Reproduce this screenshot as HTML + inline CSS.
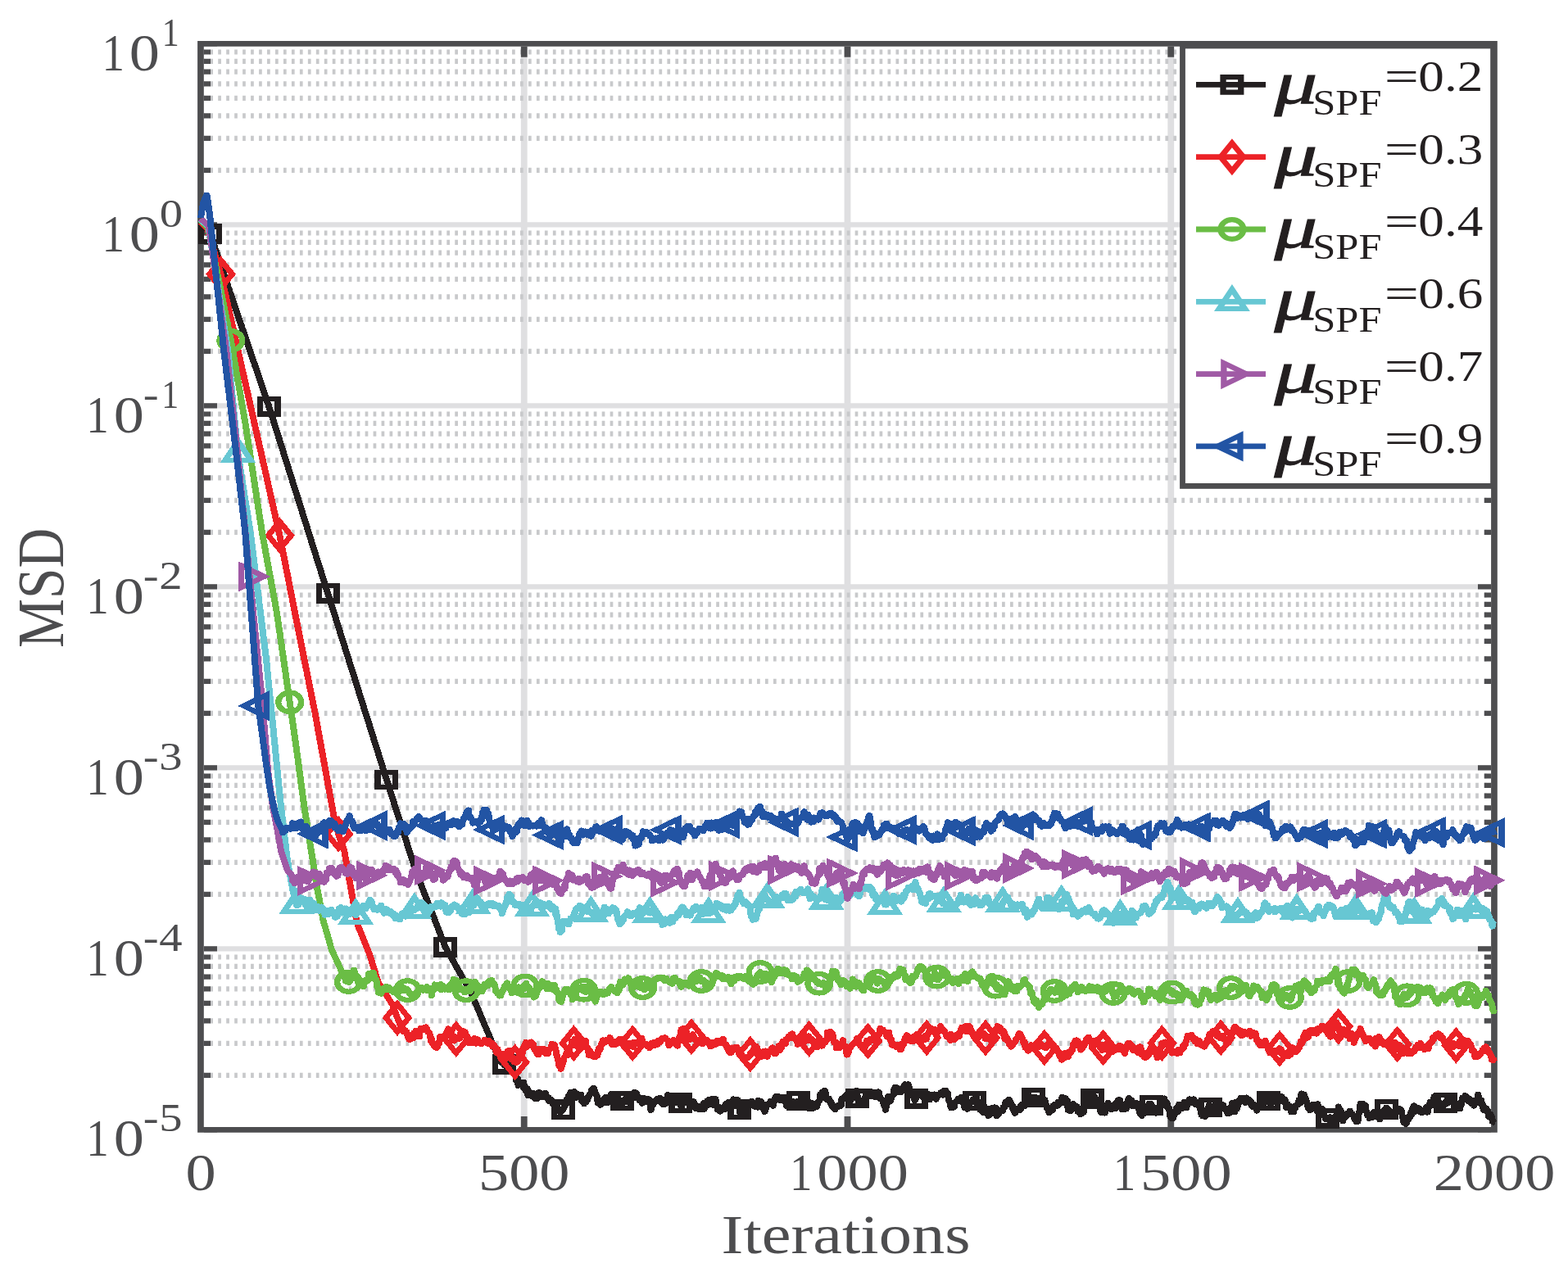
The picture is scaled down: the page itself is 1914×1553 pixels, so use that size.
<!DOCTYPE html><html><head><meta charset="utf-8"><title>MSD vs Iterations</title>
<style>html,body{margin:0;padding:0;background:#fff;overflow:hidden}svg{display:block}text{font-family:"Liberation Serif","Times New Roman",serif}</style></head><body>
<svg width="1914" height="1553" viewBox="0 0 1914 1553">
<rect width="1914" height="1553" fill="#fff"/>
<path d="M249 1158.40H1820M249 937.40H1820M249 716.40H1820M249 495.40H1820M249 274.40H1820" stroke="#dfdfe1" stroke-width="6.4" fill="none"/>
<path d="M639.75 56.7V1376M1034.50 56.7V1376M1429.25 56.7V1376" stroke="#dfdfe1" stroke-width="7.8" fill="none"/>
<path d="M246.3 1312.87H1820M246.3 1273.96H1820M246.3 1246.34H1820M246.3 1224.93H1820M246.3 1207.43H1820M246.3 1192.63H1820M246.3 1179.82H1820M246.3 1168.51H1820M246.3 1091.87H1820M246.3 1052.96H1820M246.3 1025.34H1820M246.3 1003.93H1820M246.3 986.43H1820M246.3 971.63H1820M246.3 958.82H1820M246.3 947.51H1820M246.3 870.87H1820M246.3 831.96H1820M246.3 804.34H1820M246.3 782.93H1820M246.3 765.43H1820M246.3 750.63H1820M246.3 737.82H1820M246.3 726.51H1820M246.3 649.87H1820M246.3 610.96H1820M246.3 583.34H1820M246.3 561.93H1820M246.3 544.43H1820M246.3 529.63H1820M246.3 516.82H1820M246.3 505.51H1820M246.3 428.87H1820M246.3 389.96H1820M246.3 362.34H1820M246.3 340.93H1820M246.3 323.43H1820M246.3 308.63H1820M246.3 295.82H1820M246.3 284.51H1820M246.3 207.87H1820M246.3 168.96H1820M246.3 141.34H1820M246.3 119.93H1820M246.3 102.43H1820M246.3 87.63H1820M246.3 74.82H1820M246.3 63.51H1820" stroke="#c8c9cb" stroke-width="6.2" stroke-dasharray="3.7 6.267" fill="none"/>
<path d="M249 1379.40H265M1820 1379.40H1804M249 1158.40H265M1820 1158.40H1804M249 937.40H265M1820 937.40H1804M249 716.40H265M1820 716.40H1804M249 495.40H265M1820 495.40H1804M249 274.40H265M1820 274.40H1804M249 53.40H265M1820 53.40H1804M249 1312.87H257M1820 1312.87H1812M249 1273.96H257M1820 1273.96H1812M249 1246.34H257M1820 1246.34H1812M249 1224.93H257M1820 1224.93H1812M249 1207.43H257M1820 1207.43H1812M249 1192.63H257M1820 1192.63H1812M249 1179.82H257M1820 1179.82H1812M249 1168.51H257M1820 1168.51H1812M249 1091.87H257M1820 1091.87H1812M249 1052.96H257M1820 1052.96H1812M249 1025.34H257M1820 1025.34H1812M249 1003.93H257M1820 1003.93H1812M249 986.43H257M1820 986.43H1812M249 971.63H257M1820 971.63H1812M249 958.82H257M1820 958.82H1812M249 947.51H257M1820 947.51H1812M249 870.87H257M1820 870.87H1812M249 831.96H257M1820 831.96H1812M249 804.34H257M1820 804.34H1812M249 782.93H257M1820 782.93H1812M249 765.43H257M1820 765.43H1812M249 750.63H257M1820 750.63H1812M249 737.82H257M1820 737.82H1812M249 726.51H257M1820 726.51H1812M249 649.87H257M1820 649.87H1812M249 610.96H257M1820 610.96H1812M249 583.34H257M1820 583.34H1812M249 561.93H257M1820 561.93H1812M249 544.43H257M1820 544.43H1812M249 529.63H257M1820 529.63H1812M249 516.82H257M1820 516.82H1812M249 505.51H257M1820 505.51H1812M249 428.87H257M1820 428.87H1812M249 389.96H257M1820 389.96H1812M249 362.34H257M1820 362.34H1812M249 340.93H257M1820 340.93H1812M249 323.43H257M1820 323.43H1812M249 308.63H257M1820 308.63H1812M249 295.82H257M1820 295.82H1812M249 284.51H257M1820 284.51H1812M249 207.87H257M1820 207.87H1812M249 168.96H257M1820 168.96H1812M249 141.34H257M1820 141.34H1812M249 119.93H257M1820 119.93H1812M249 102.43H257M1820 102.43H1812M249 87.63H257M1820 87.63H1812M249 74.82H257M1820 74.82H1812M249 63.51H257M1820 63.51H1812" stroke="#4d4d4f" stroke-width="6.2" fill="none"/>
<path d="M639.75 56.7V69.7M639.75 1376V1363M1034.50 56.7V69.7M1034.50 1376V1363M1429.25 56.7V69.7M1429.25 1376V1363" stroke="#4d4d4f" stroke-width="7.8" fill="none"/>
<path d="M241.1 50.1H1827.8V1382.7H241.1Z M248.8 56.7V1376.1H1820.1V56.7Z" fill="#4d4d4f" fill-rule="evenodd"/>
<g transform="scale(1.18 1)" fill="none" stroke-linejoin="round" stroke-linecap="butt" shape-rendering="crispEdges">
<polyline points="207.6,270.0 208.3,271.1 209.0,272.1 209.6,273.2 210.3,274.2 211.0,275.3 211.6,276.3 212.3,277.4 213.0,278.5 213.6,279.5 214.3,280.6 215.0,281.6 215.7,282.7 216.3,283.7 217.0,284.8 217.7,286.4 218.3,288.7 219.0,291.0 219.7,293.4 220.3,295.7 221.0,298.0 221.7,300.3 222.3,302.6 223.0,305.0 223.7,307.3 224.4,309.6 225.0,311.9 225.7,314.2 226.4,316.6 227.0,318.9 227.7,321.2 228.4,323.5 229.0,325.8 229.7,328.1 230.4,330.5 231.0,332.8 231.7,335.1 232.4,337.4 233.1,339.7 233.7,342.1 234.4,344.4 235.1,346.7 235.7,349.0 236.4,351.3 237.1,353.7 237.7,356.0 238.4,358.3 239.1,360.6 239.7,362.9 240.4,365.3 241.1,367.6 241.7,369.9 242.4,372.2 243.1,374.5 243.8,376.8 244.4,379.2 245.1,381.5 245.8,383.8 246.4,386.1 247.1,388.4 247.8,390.8 248.4,393.1 249.1,395.4 249.8,397.7 250.4,400.0 251.1,402.4 251.8,404.7 252.5,407.0 253.1,409.3 253.8,411.6 254.5,414.0 255.1,416.3 255.8,418.6 256.5,420.9 257.1,423.2 257.8,425.5 258.5,427.9 259.1,430.2 259.8,432.5 260.5,434.8 261.2,437.1 261.8,439.5 262.5,441.8 263.2,444.1 263.8,446.4 264.5,448.7 265.2,451.1 265.8,453.4 266.5,455.7 267.2,458.0 267.8,460.3 268.5,462.7 269.2,465.0 269.9,467.3 270.5,469.6 271.2,471.9 271.9,474.2 272.5,476.6 273.2,478.9 273.9,481.2 274.5,483.5 275.2,485.8 275.9,488.2 276.5,490.5 277.2,492.8 277.9,495.1 278.5,497.5 279.2,500.0 279.9,502.5 280.6,505.0 281.2,507.6 281.9,510.1 282.6,512.6 283.2,515.1 283.9,517.6 284.6,520.1 285.2,522.6 285.9,525.1 286.6,527.6 287.2,530.1 287.9,532.6 288.6,535.1 289.3,537.6 289.9,540.1 290.6,542.6 291.3,545.1 291.9,547.6 292.6,550.2 293.3,552.7 293.9,555.2 294.6,557.7 295.3,560.2 295.9,562.7 296.6,565.2 297.3,567.7 298.0,570.2 298.6,572.7 299.3,575.2 300.0,577.7 300.6,580.2 301.3,582.7 302.0,585.2 302.6,587.7 303.3,590.2 304.0,592.8 304.6,595.3 305.3,597.8 306.0,600.3 306.6,602.8 307.3,605.3 308.0,607.8 308.7,610.3 309.3,612.8 310.0,615.3 310.7,617.8 311.3,620.3 312.0,622.8 312.7,625.3 313.3,627.8 314.0,630.3 314.7,632.8 315.3,635.4 316.0,637.9 316.7,640.4 317.4,642.9 318.0,645.4 318.7,647.9 319.4,650.4 320.0,652.9 320.7,655.4 321.4,657.9 322.0,660.4 322.7,662.9 323.4,665.4 324.0,667.9 324.7,670.4 325.4,672.9 326.1,675.5 326.7,678.0 327.4,680.5 328.1,683.0 328.7,685.5 329.4,688.0 330.1,690.5 330.7,693.0 331.4,695.5 332.1,698.0 332.7,700.5 333.4,703.0 334.1,705.5 334.8,708.0 335.4,710.5 336.1,713.0 336.8,715.5 337.4,718.1 338.1,720.6 338.8,723.1 339.4,725.6 340.1,728.1 340.8,730.6 341.4,733.1 342.1,735.6 342.8,738.1 343.4,740.6 344.1,743.1 344.8,745.6 345.5,748.1 346.1,750.6 346.8,753.1 347.5,755.6 348.1,758.1 348.8,760.6 349.5,763.1 350.1,765.6 350.8,768.1 351.5,770.6 352.1,773.1 352.8,775.6 353.5,778.1 354.2,780.7 354.8,783.2 355.5,785.7 356.2,788.2 356.8,790.7 357.5,793.2 358.2,795.7 358.8,798.2 359.5,800.7 360.2,803.2 360.8,805.7 361.5,808.2 362.2,810.7 362.9,813.2 363.5,815.7 364.2,818.2 364.9,820.7 365.5,823.2 366.2,825.7 366.9,828.2 367.5,830.7 368.2,833.2 368.9,835.7 369.5,838.2 370.2,840.7 370.9,843.2 371.5,845.7 372.2,848.3 372.9,850.8 373.6,853.3 374.2,855.8 374.9,858.3 375.6,860.8 376.2,863.3 376.9,865.8 377.6,868.3 378.2,870.8 378.9,873.3 379.6,875.8 380.2,878.3 380.9,880.8 381.6,883.3 382.3,885.8 382.9,888.3 383.6,890.8 384.3,893.3 384.9,895.8 385.6,898.3 386.3,900.8 386.9,903.3 387.6,905.8 388.3,908.3 388.9,910.8 389.6,913.3 390.3,915.9 391.0,918.4 391.6,920.9 392.3,923.4 393.0,925.9 393.6,928.4 394.3,930.9 395.0,933.4 395.6,935.9 396.3,938.4 397.0,940.9 397.6,943.4 398.3,945.9 399.0,948.4 399.6,950.9 400.3,953.4 401.0,955.9 401.7,958.3 402.3,960.8 403.0,963.3 403.7,965.8 404.3,968.2 405.0,970.7 405.7,973.2 406.3,975.7 407.0,978.1 407.7,980.6 408.3,983.1 409.0,985.5 409.7,988.0 410.4,990.5 411.0,993.0 411.7,995.4 412.4,997.9 413.0,1000.4 413.7,1002.9 414.4,1005.3 415.0,1007.8 415.7,1010.3 416.4,1012.8 417.0,1015.2 417.7,1017.7 418.4,1020.2 419.1,1022.6 419.7,1025.1 420.4,1027.6 421.1,1030.1 421.7,1032.5 422.4,1035.0 423.1,1037.5 423.7,1040.0 424.4,1042.4 425.1,1044.9 425.7,1047.4 426.4,1049.9 427.1,1052.3 427.8,1054.8 428.4,1057.3 429.1,1059.8 429.8,1062.2 430.4,1064.7 431.1,1066.8 431.8,1068.8 432.4,1070.8 433.1,1072.8 433.8,1074.9 434.4,1076.9 435.1,1078.9 435.8,1080.9 436.4,1082.9 437.1,1085.0 437.8,1087.0 438.5,1089.0 439.1,1091.0 439.8,1093.1 440.5,1095.1 441.1,1097.1 441.8,1099.1 442.5,1101.1 443.1,1103.2 443.8,1105.2 444.5,1107.2 445.1,1109.2 445.8,1111.2 446.5,1113.3 447.2,1115.3 447.8,1117.3 448.5,1119.3 449.2,1121.3 449.8,1123.4 450.5,1125.4 451.2,1127.4 451.8,1129.4 452.5,1131.5 453.2,1133.5 453.8,1135.5 454.5,1137.5 455.2,1139.5 455.9,1141.6 456.5,1143.6 457.2,1145.6 457.9,1147.6 458.5,1149.6 459.2,1151.7 459.9,1153.7 460.5,1155.7 461.2,1157.3 461.9,1158.7 462.5,1160.1 463.2,1161.5 463.9,1162.9 464.5,1164.3 465.2,1165.7 465.9,1167.1 466.6,1168.5 467.2,1169.9 467.9,1171.3 468.6,1172.8 469.2,1174.2 469.9,1175.6 470.6,1177.0 471.2,1178.4 471.9,1179.8 472.6,1181.2 473.2,1182.6 473.9,1184.0 474.6,1185.4 475.3,1186.8 475.9,1188.2 476.6,1189.6 477.3,1191.0 477.9,1192.4 478.6,1193.8 479.3,1195.2 479.9,1196.6 480.6,1198.0 481.3,1199.4 481.9,1200.8 482.6,1202.2 483.3,1203.6 484.0,1205.0 484.6,1206.4 485.3,1207.8 486.0,1209.2 486.6,1210.6 487.3,1212.0 488.0,1213.9 488.6,1215.8 489.3,1217.6 490.0,1219.5 490.6,1221.4 491.3,1223.2 492.0,1225.1 492.7,1227.0 493.3,1228.9 494.0,1230.7 494.7,1232.6 495.3,1234.5 496.0,1236.3 496.7,1238.2 497.3,1240.1 498.0,1241.9 498.7,1243.8 499.3,1245.7 500.0,1247.6 500.7,1249.4 501.3,1251.3 502.0,1253.2 502.7,1255.0 503.4,1256.9 504.0,1258.8 504.7,1260.6 505.4,1262.5 506.0,1264.4 506.7,1266.3 507.4,1268.1 508.0,1270.0 508.7,1271.9 509.4,1273.7 510.0,1275.6 510.7,1277.5 511.4,1279.3 512.1,1281.2 512.7,1283.1 513.4,1284.6 514.1,1284.8 514.7,1286.5 515.4,1286.7 516.1,1290.7 516.7,1290.1 517.4,1290.5 518.1,1294.2 518.7,1297.5 519.4,1296.0 520.1,1292.8 520.8,1297.3 521.4,1300.3 522.1,1296.5 522.8,1296.5 523.4,1301.6 524.1,1300.2 524.8,1297.9 525.4,1300.1 526.1,1299.5 526.8,1302.2 527.4,1301.7 528.1,1304.3 528.8,1303.6 529.4,1298.8 530.1,1304.8 530.8,1307.7 531.5,1308.7 532.1,1312.4 532.8,1311.0 533.5,1312.6 534.1,1319.6 534.8,1317.0 535.5,1316.3 536.1,1325.5 536.8,1322.4 537.5,1324.1 538.1,1321.9 538.8,1322.3 539.5,1322.9 540.2,1324.9 540.8,1327.0 541.5,1321.1 542.2,1329.3 542.8,1325.6 543.5,1327.0 544.2,1332.4 544.8,1331.6 545.5,1328.9 546.2,1337.7 546.8,1331.6 547.5,1334.6 548.2,1334.8 548.9,1338.1 549.5,1334.2 550.2,1338.0 550.9,1334.0 551.5,1338.7 552.2,1334.5 552.9,1335.8 553.5,1341.4 554.2,1337.6 554.9,1337.0 555.5,1342.0 556.2,1337.3 556.9,1334.3 557.5,1338.1 558.2,1333.5 558.9,1339.3 559.6,1339.6 560.2,1335.6 560.9,1335.6 561.6,1337.7 562.2,1337.6 562.9,1335.6 563.6,1339.8 564.2,1334.1 564.9,1338.6 565.6,1339.4 566.2,1340.5 566.9,1342.6 567.6,1339.7 568.3,1344.9 568.9,1343.9 569.6,1343.5 570.3,1342.4 570.9,1343.4 571.6,1347.6 572.3,1344.9 572.9,1348.0 573.6,1351.1 574.3,1352.0 574.9,1354.2 575.6,1350.8 576.3,1349.8 577.0,1355.8 577.6,1354.8 578.3,1357.3 579.0,1355.0 579.6,1358.1 580.3,1357.4 581.0,1357.0 581.6,1356.2 582.3,1355.2 583.0,1353.4 583.6,1351.5 584.3,1351.2 585.0,1345.3 585.7,1348.5 586.3,1342.1 587.0,1343.0 587.7,1339.0 588.3,1337.5 589.0,1342.1 589.7,1335.9 590.3,1333.1 591.0,1334.0 591.7,1334.6 592.3,1340.3 593.0,1335.4 593.7,1337.1 594.3,1332.6 595.0,1336.1 595.7,1337.2 596.4,1340.3 597.0,1334.7 597.7,1338.4 598.4,1338.3 599.0,1336.0 599.7,1339.5 600.4,1340.1 601.0,1336.3 601.7,1344.5 602.4,1345.2 603.0,1343.3 603.7,1341.3 604.4,1347.8 605.1,1344.4 605.7,1345.6 606.4,1345.9 607.1,1340.6 607.7,1343.0 608.4,1339.4 609.1,1338.5 609.7,1336.8 610.4,1335.0 611.1,1335.8 611.7,1331.6 612.4,1329.7 613.1,1328.8 613.8,1330.5 614.4,1328.5 615.1,1331.1 615.8,1334.1 616.4,1335.0 617.1,1338.2 617.8,1338.8 618.4,1346.7 619.1,1346.2 619.8,1344.8 620.4,1344.0 621.1,1349.4 621.8,1344.6 622.4,1343.1 623.1,1343.4 623.8,1342.9 624.5,1345.1 625.1,1341.5 625.8,1346.6 626.5,1339.7 627.1,1343.8 627.8,1340.0 628.5,1346.8 629.1,1341.5 629.8,1341.6 630.5,1343.2 631.1,1343.1 631.8,1336.5 632.5,1337.8 633.2,1335.0 633.8,1338.9 634.5,1338.8 635.2,1339.1 635.8,1339.2 636.5,1340.8 637.2,1340.7 637.8,1344.4 638.5,1347.2 639.2,1339.4 639.8,1344.1 640.5,1343.8 641.2,1346.4 641.9,1343.3 642.5,1345.4 643.2,1343.3 643.9,1347.5 644.5,1346.0 645.2,1345.1 645.9,1346.2 646.5,1344.5 647.2,1341.1 647.9,1346.0 648.5,1345.0 649.2,1343.5 649.9,1345.7 650.6,1345.7 651.2,1339.5 651.9,1339.5 652.6,1344.3 653.2,1343.2 653.9,1337.3 654.6,1335.5 655.2,1336.2 655.9,1336.0 656.6,1333.2 657.2,1337.0 657.9,1334.2 658.6,1334.9 659.2,1340.8 659.9,1338.0 660.6,1340.4 661.3,1343.0 661.9,1344.2 662.6,1341.9 663.3,1343.2 663.9,1341.2 664.6,1347.4 665.3,1344.6 665.9,1340.1 666.6,1342.4 667.3,1343.7 667.9,1342.7 668.6,1345.8 669.3,1344.9 670.0,1341.0 670.6,1343.2 671.3,1341.7 672.0,1346.9 672.6,1348.1 673.3,1355.4 674.0,1349.7 674.6,1344.5 675.3,1347.5 676.0,1348.6 676.6,1344.3 677.3,1344.2 678.0,1344.4 678.7,1345.2 679.3,1343.3 680.0,1341.1 680.7,1344.9 681.3,1341.7 682.0,1342.0 682.7,1340.3 683.3,1342.4 684.0,1346.6 684.7,1342.0 685.3,1346.4 686.0,1348.8 686.7,1346.3 687.3,1347.5 688.0,1343.4 688.7,1348.1 689.4,1346.2 690.0,1342.7 690.7,1336.6 691.4,1337.4 692.0,1341.7 692.7,1343.5 693.4,1340.5 694.0,1343.5 694.7,1339.9 695.4,1341.9 696.0,1343.1 696.7,1344.7 697.4,1340.2 698.1,1346.1 698.7,1346.8 699.4,1340.6 700.1,1340.0 700.7,1344.3 701.4,1342.5 702.1,1339.2 702.7,1347.7 703.4,1347.0 704.1,1346.0 704.7,1352.3 705.4,1347.2 706.1,1344.3 706.8,1345.4 707.4,1341.7 708.1,1341.5 708.8,1343.7 709.4,1341.2 710.1,1341.5 710.8,1346.9 711.4,1345.5 712.1,1345.9 712.8,1345.8 713.4,1346.3 714.1,1349.1 714.8,1346.0 715.4,1351.0 716.1,1344.6 716.8,1346.7 717.5,1344.5 718.1,1347.6 718.8,1350.4 719.5,1353.5 720.1,1349.4 720.8,1352.0 721.5,1352.1 722.1,1352.0 722.8,1351.4 723.5,1354.7 724.1,1350.4 724.8,1354.6 725.5,1353.8 726.2,1351.3 726.8,1349.5 727.5,1347.6 728.2,1354.5 728.8,1346.0 729.5,1352.3 730.2,1349.3 730.8,1346.4 731.5,1343.9 732.2,1348.5 732.8,1349.4 733.5,1342.2 734.2,1343.1 734.9,1345.8 735.5,1343.7 736.2,1347.6 736.9,1341.6 737.5,1344.7 738.2,1341.0 738.9,1349.9 739.5,1344.1 740.2,1341.7 740.9,1347.9 741.5,1349.1 742.2,1355.2 742.9,1350.7 743.6,1352.3 744.2,1354.4 744.9,1357.2 745.6,1353.4 746.2,1356.1 746.9,1354.8 747.6,1352.6 748.2,1353.2 748.9,1352.8 749.6,1350.0 750.2,1354.5 750.9,1347.5 751.6,1352.8 752.2,1351.3 752.9,1347.9 753.6,1345.3 754.3,1345.8 754.9,1346.8 755.6,1347.0 756.3,1345.6 756.9,1347.2 757.6,1343.6 758.3,1345.8 758.9,1341.8 759.6,1348.0 760.3,1347.1 760.9,1346.4 761.6,1350.9 762.3,1350.4 763.0,1342.7 763.6,1350.2 764.3,1347.5 765.0,1354.5 765.6,1358.8 766.3,1352.5 767.0,1354.8 767.6,1354.5 768.3,1356.2 769.0,1356.6 769.6,1357.5 770.3,1351.0 771.0,1356.0 771.7,1348.8 772.3,1350.7 773.0,1352.0 773.7,1350.3 774.3,1345.9 775.0,1346.2 775.7,1346.6 776.3,1347.4 777.0,1350.1 777.7,1344.2 778.3,1348.4 779.0,1348.8 779.7,1348.7 780.3,1348.7 781.0,1351.4 781.7,1349.1 782.4,1350.1 783.0,1349.3 783.7,1352.2 784.4,1343.1 785.0,1350.6 785.7,1346.9 786.4,1347.1 787.0,1346.0 787.7,1344.8 788.4,1349.5 789.0,1350.0 789.7,1354.0 790.4,1350.1 791.1,1357.5 791.7,1354.7 792.4,1352.9 793.1,1350.9 793.7,1349.6 794.4,1347.7 795.1,1348.2 795.7,1348.8 796.4,1347.8 797.1,1344.4 797.7,1346.7 798.4,1344.8 799.1,1346.8 799.8,1350.3 800.4,1346.7 801.1,1343.7 801.8,1339.8 802.4,1339.6 803.1,1338.2 803.8,1343.3 804.4,1339.1 805.1,1340.7 805.8,1338.8 806.4,1340.5 807.1,1343.9 807.8,1339.2 808.5,1340.4 809.1,1339.7 809.8,1344.1 810.5,1339.8 811.1,1339.9 811.8,1339.6 812.5,1339.9 813.1,1344.9 813.8,1350.4 814.5,1342.3 815.1,1347.6 815.8,1346.4 816.5,1343.7 817.1,1346.2 817.8,1346.8 818.5,1346.2 819.2,1352.9 819.8,1344.1 820.5,1350.0 821.2,1350.3 821.8,1348.4 822.5,1350.3 823.2,1352.3 823.8,1350.6 824.5,1351.1 825.2,1351.3 825.8,1344.0 826.5,1351.3 827.2,1351.8 827.9,1347.0 828.5,1345.4 829.2,1338.2 829.9,1340.4 830.5,1338.5 831.2,1339.5 831.9,1344.4 832.5,1341.8 833.2,1345.3 833.9,1342.8 834.5,1348.3 835.2,1349.8 835.9,1348.1 836.6,1347.9 837.2,1353.7 837.9,1345.8 838.6,1345.8 839.2,1346.2 839.9,1351.2 840.6,1353.7 841.2,1349.9 841.9,1347.8 842.6,1348.7 843.2,1352.2 843.9,1346.9 844.6,1351.7 845.2,1350.3 845.9,1345.5 846.6,1345.1 847.3,1343.6 847.9,1343.8 848.6,1335.9 849.3,1339.9 849.9,1335.0 850.6,1333.1 851.3,1334.7 851.9,1333.7 852.6,1332.1 853.3,1331.2 853.9,1333.6 854.6,1340.4 855.3,1342.8 856.0,1340.9 856.6,1343.5 857.3,1340.9 858.0,1343.6 858.6,1346.2 859.3,1344.7 860.0,1346.6 860.6,1350.6 861.3,1350.6 862.0,1349.5 862.6,1353.3 863.3,1351.8 864.0,1354.8 864.7,1352.1 865.3,1351.2 866.0,1352.0 866.7,1350.9 867.3,1349.1 868.0,1349.1 868.7,1351.0 869.3,1349.7 870.0,1350.0 870.7,1341.5 871.3,1343.2 872.0,1341.8 872.7,1341.9 873.3,1339.2 874.0,1338.2 874.7,1340.8 875.4,1339.2 876.0,1336.2 876.7,1342.7 877.4,1342.6 878.0,1339.5 878.7,1343.4 879.4,1339.9 880.0,1344.3 880.7,1340.8 881.4,1338.8 882.0,1339.2 882.7,1337.7 883.4,1339.6 884.1,1339.3 884.7,1339.1 885.4,1338.1 886.1,1331.4 886.7,1341.5 887.4,1338.2 888.1,1345.1 888.7,1349.0 889.4,1348.6 890.1,1348.3 890.7,1349.5 891.4,1349.6 892.1,1347.8 892.8,1346.2 893.4,1343.1 894.1,1345.7 894.8,1340.1 895.4,1339.9 896.1,1334.8 896.8,1334.0 897.4,1332.4 898.1,1333.5 898.8,1334.5 899.4,1333.6 900.1,1332.1 900.8,1332.5 901.5,1338.8 902.1,1334.4 902.8,1334.5 903.5,1338.6 904.1,1337.5 904.8,1335.9 905.5,1333.4 906.1,1339.9 906.8,1335.2 907.5,1335.9 908.1,1334.8 908.8,1332.8 909.5,1334.4 910.1,1340.3 910.8,1342.1 911.5,1342.5 912.2,1342.0 912.8,1342.8 913.5,1346.5 914.2,1344.5 914.8,1350.6 915.5,1351.3 916.2,1355.4 916.8,1350.6 917.5,1346.8 918.2,1345.6 918.8,1338.6 919.5,1344.3 920.2,1343.9 920.9,1345.0 921.5,1342.3 922.2,1340.3 922.9,1337.6 923.5,1336.9 924.2,1337.2 924.9,1329.8 925.5,1330.1 926.2,1327.0 926.9,1333.9 927.5,1333.1 928.2,1332.3 928.9,1328.4 929.6,1332.6 930.2,1332.4 930.9,1333.6 931.6,1332.9 932.2,1333.8 932.9,1330.4 933.6,1331.8 934.2,1328.7 934.9,1325.9 935.6,1325.2 936.2,1323.7 936.9,1326.6 937.6,1324.2 938.2,1326.1 938.9,1325.3 939.6,1323.7 940.3,1330.7 940.9,1327.5 941.6,1333.4 942.3,1334.9 942.9,1332.1 943.6,1336.0 944.3,1338.9 944.9,1339.6 945.6,1339.5 946.3,1344.1 946.9,1341.0 947.6,1341.4 948.3,1338.2 949.0,1338.7 949.6,1335.1 950.3,1336.1 951.0,1337.3 951.6,1336.1 952.3,1335.4 953.0,1334.5 953.6,1338.3 954.3,1339.5 955.0,1338.7 955.6,1338.1 956.3,1341.7 957.0,1346.7 957.7,1340.3 958.3,1342.0 959.0,1342.2 959.7,1334.9 960.3,1341.1 961.0,1338.6 961.7,1343.0 962.3,1338.5 963.0,1336.9 963.7,1338.1 964.3,1339.0 965.0,1337.5 965.7,1338.9 966.4,1335.9 967.0,1338.4 967.7,1340.3 968.4,1342.4 969.0,1338.2 969.7,1336.0 970.4,1337.2 971.0,1336.1 971.7,1337.4 972.4,1336.2 973.0,1333.9 973.7,1335.6 974.4,1336.2 975.0,1337.1 975.7,1337.2 976.4,1334.8 977.1,1331.3 977.7,1334.5 978.4,1331.2 979.1,1336.5 979.7,1337.2 980.4,1334.4 981.1,1341.8 981.7,1344.2 982.4,1344.5 983.1,1350.4 983.7,1352.6 984.4,1346.6 985.1,1352.8 985.8,1351.6 986.4,1351.3 987.1,1351.9 987.8,1347.1 988.4,1346.4 989.1,1344.8 989.8,1344.1 990.4,1344.9 991.1,1341.0 991.8,1341.4 992.4,1344.8 993.1,1343.1 993.8,1344.2 994.5,1339.1 995.1,1342.5 995.8,1344.2 996.5,1347.0 997.1,1347.1 997.8,1352.3 998.5,1351.3 999.1,1352.4 999.8,1352.9 1000.5,1354.4 1001.1,1351.0 1001.8,1353.7 1002.5,1350.6 1003.1,1348.2 1003.8,1346.2 1004.5,1345.7 1005.2,1345.4 1005.8,1344.1 1006.5,1341.9 1007.2,1342.8 1007.8,1341.2 1008.5,1344.5 1009.2,1342.2 1009.8,1338.4 1010.5,1347.9 1011.2,1346.3 1011.8,1344.6 1012.5,1348.0 1013.2,1347.3 1013.9,1355.2 1014.5,1352.0 1015.2,1347.6 1015.9,1353.4 1016.5,1351.9 1017.2,1358.5 1017.9,1352.5 1018.5,1350.7 1019.2,1357.3 1019.9,1357.2 1020.5,1357.7 1021.2,1353.8 1021.9,1360.0 1022.6,1362.6 1023.2,1353.3 1023.9,1359.7 1024.6,1354.4 1025.2,1360.2 1025.9,1354.5 1026.6,1352.3 1027.2,1355.1 1027.9,1353.9 1028.6,1351.8 1029.2,1355.9 1029.9,1354.2 1030.6,1352.4 1031.2,1362.8 1031.9,1358.0 1032.6,1358.0 1033.3,1360.5 1033.9,1355.8 1034.6,1355.7 1035.3,1356.8 1035.9,1355.6 1036.6,1355.7 1037.3,1356.8 1037.9,1351.6 1038.6,1352.6 1039.3,1351.5 1039.9,1346.3 1040.6,1348.3 1041.3,1344.6 1042.0,1348.7 1042.6,1346.7 1043.3,1345.4 1044.0,1342.3 1044.6,1346.2 1045.3,1344.9 1046.0,1349.7 1046.6,1349.2 1047.3,1349.2 1048.0,1355.2 1048.6,1356.3 1049.3,1354.4 1050.0,1359.3 1050.7,1356.0 1051.3,1355.7 1052.0,1356.1 1052.7,1353.1 1053.3,1352.9 1054.0,1352.6 1054.7,1355.8 1055.3,1354.8 1056.0,1349.7 1056.7,1353.3 1057.3,1348.4 1058.0,1348.4 1058.7,1348.7 1059.4,1346.4 1060.0,1350.8 1060.7,1345.1 1061.4,1341.3 1062.0,1347.2 1062.7,1343.0 1063.4,1343.3 1064.0,1336.7 1064.7,1346.1 1065.4,1345.3 1066.0,1344.8 1066.7,1344.7 1067.4,1345.9 1068.0,1341.3 1068.7,1343.3 1069.4,1339.1 1070.1,1340.3 1070.7,1344.1 1071.4,1343.0 1072.1,1339.6 1072.7,1344.4 1073.4,1343.7 1074.1,1342.7 1074.7,1346.0 1075.4,1343.9 1076.1,1340.8 1076.7,1341.5 1077.4,1348.0 1078.1,1339.7 1078.8,1343.8 1079.4,1344.9 1080.1,1345.7 1080.8,1342.3 1081.4,1346.0 1082.1,1349.0 1082.8,1352.5 1083.4,1350.9 1084.1,1351.2 1084.8,1357.7 1085.4,1358.7 1086.1,1357.1 1086.8,1354.5 1087.5,1356.3 1088.1,1354.8 1088.8,1355.6 1089.5,1349.6 1090.1,1352.2 1090.8,1350.9 1091.5,1348.2 1092.1,1351.1 1092.8,1350.4 1093.5,1348.9 1094.1,1350.3 1094.8,1345.2 1095.5,1347.5 1096.1,1347.6 1096.8,1346.2 1097.5,1347.0 1098.2,1340.6 1098.8,1339.1 1099.5,1342.6 1100.2,1342.8 1100.8,1346.8 1101.5,1343.6 1102.2,1340.8 1102.8,1346.1 1103.5,1343.6 1104.2,1343.8 1104.8,1355.3 1105.5,1351.2 1106.2,1353.3 1106.9,1353.6 1107.5,1356.8 1108.2,1353.0 1108.9,1354.8 1109.5,1348.9 1110.2,1347.5 1110.9,1353.9 1111.5,1353.8 1112.2,1351.5 1112.9,1351.2 1113.5,1351.8 1114.2,1350.7 1114.9,1357.3 1115.6,1356.5 1116.2,1357.5 1116.9,1358.3 1117.6,1360.6 1118.2,1359.5 1118.9,1359.6 1119.6,1354.0 1120.2,1356.4 1120.9,1358.4 1121.6,1349.6 1122.2,1348.2 1122.9,1348.3 1123.6,1346.4 1124.2,1343.9 1124.9,1337.1 1125.6,1341.2 1126.3,1336.3 1126.9,1336.6 1127.6,1339.5 1128.3,1337.1 1128.9,1339.6 1129.6,1345.2 1130.3,1339.8 1130.9,1340.3 1131.6,1337.4 1132.3,1339.5 1132.9,1340.3 1133.6,1343.6 1134.3,1344.3 1135.0,1347.4 1135.6,1350.3 1136.3,1350.1 1137.0,1350.5 1137.6,1351.7 1138.3,1356.8 1139.0,1356.3 1139.6,1358.7 1140.3,1358.5 1141.0,1354.8 1141.6,1356.7 1142.3,1351.0 1143.0,1359.2 1143.7,1355.8 1144.3,1351.7 1145.0,1348.7 1145.7,1352.0 1146.3,1346.4 1147.0,1349.1 1147.7,1353.0 1148.3,1351.9 1149.0,1350.9 1149.7,1354.7 1150.3,1350.0 1151.0,1353.1 1151.7,1350.8 1152.4,1349.4 1153.0,1351.9 1153.7,1347.5 1154.4,1353.5 1155.0,1346.5 1155.7,1351.6 1156.4,1343.3 1157.0,1346.8 1157.7,1342.4 1158.4,1342.6 1159.0,1347.3 1159.7,1350.2 1160.4,1347.4 1161.0,1355.0 1161.7,1351.6 1162.4,1354.5 1163.1,1355.0 1163.7,1354.7 1164.4,1347.6 1165.1,1354.1 1165.7,1349.7 1166.4,1345.7 1167.1,1343.0 1167.7,1340.5 1168.4,1341.0 1169.1,1345.7 1169.7,1344.1 1170.4,1342.8 1171.1,1345.0 1171.8,1350.6 1172.4,1346.5 1173.1,1346.2 1173.8,1351.1 1174.4,1349.3 1175.1,1348.8 1175.8,1348.0 1176.4,1346.8 1177.1,1349.2 1177.8,1352.7 1178.4,1355.2 1179.1,1358.6 1179.8,1360.8 1180.5,1361.5 1181.1,1362.5 1181.8,1359.9 1182.5,1356.9 1183.1,1359.9 1183.8,1357.5 1184.5,1356.5 1185.1,1355.5 1185.8,1351.2 1186.5,1349.8 1187.1,1350.7 1187.8,1350.0 1188.5,1347.4 1189.1,1349.9 1189.8,1348.4 1190.5,1347.1 1191.2,1350.6 1191.8,1356.1 1192.5,1351.0 1193.2,1356.4 1193.8,1357.6 1194.5,1358.2 1195.2,1352.6 1195.8,1359.2 1196.5,1354.1 1197.2,1352.5 1197.8,1351.8 1198.5,1352.8 1199.2,1350.5 1199.9,1348.9 1200.5,1351.3 1201.2,1345.3 1201.9,1343.4 1202.5,1346.7 1203.2,1345.7 1203.9,1346.1 1204.5,1340.9 1205.2,1346.6 1205.9,1346.3 1206.5,1351.0 1207.2,1345.9 1207.9,1351.9 1208.6,1353.4 1209.2,1352.9 1209.9,1357.5 1210.6,1364.0 1211.2,1361.8 1211.9,1362.0 1212.6,1366.0 1213.2,1365.6 1213.9,1364.3 1214.6,1358.3 1215.2,1358.2 1215.9,1359.1 1216.6,1353.7 1217.3,1352.6 1217.9,1356.0 1218.6,1357.7 1219.3,1351.4 1219.9,1348.0 1220.6,1350.7 1221.3,1351.4 1221.9,1352.8 1222.6,1353.6 1223.3,1350.6 1223.9,1348.0 1224.6,1349.0 1225.3,1345.4 1225.9,1347.0 1226.6,1345.2 1227.3,1353.1 1228.0,1348.6 1228.6,1344.5 1229.3,1344.0 1230.0,1345.1 1230.6,1341.8 1231.3,1343.6 1232.0,1343.3 1232.6,1347.0 1233.3,1343.8 1234.0,1343.1 1234.6,1341.9 1235.3,1342.6 1236.0,1345.5 1236.7,1345.3 1237.3,1348.8 1238.0,1344.9 1238.7,1349.4 1239.3,1348.3 1240.0,1348.9 1240.7,1345.7 1241.3,1349.5 1242.0,1356.6 1242.7,1360.4 1243.3,1359.7 1244.0,1362.7 1244.7,1361.1 1245.4,1361.6 1246.0,1360.6 1246.7,1363.5 1247.4,1360.4 1248.0,1357.0 1248.7,1354.7 1249.4,1354.8 1250.0,1352.5 1250.7,1348.6 1251.4,1354.1 1252.0,1350.6 1252.7,1350.3 1253.4,1354.5 1254.0,1354.2 1254.7,1352.4 1255.4,1354.5 1256.1,1351.1 1256.7,1352.2 1257.4,1348.0 1258.1,1355.7 1258.7,1347.3 1259.4,1352.3 1260.1,1347.4 1260.7,1345.9 1261.4,1346.9 1262.1,1347.6 1262.7,1348.4 1263.4,1351.6 1264.1,1349.0 1264.8,1351.3 1265.4,1348.9 1266.1,1353.4 1266.8,1353.3 1267.4,1353.2 1268.1,1355.5 1268.8,1356.9 1269.4,1358.6 1270.1,1359.7 1270.8,1357.7 1271.4,1356.7 1272.1,1359.4 1272.8,1352.3 1273.5,1353.5 1274.1,1357.5 1274.8,1346.3 1275.5,1350.5 1276.1,1353.5 1276.8,1347.9 1277.5,1358.1 1278.1,1345.5 1278.8,1354.8 1279.5,1354.2 1280.1,1351.4 1280.8,1347.1 1281.5,1346.9 1282.2,1342.4 1282.8,1345.4 1283.5,1340.0 1284.2,1341.8 1284.8,1345.0 1285.5,1340.3 1286.2,1342.5 1286.8,1344.0 1287.5,1340.6 1288.2,1346.6 1288.8,1344.5 1289.5,1339.9 1290.2,1343.3 1290.8,1341.6 1291.5,1342.0 1292.2,1344.2 1292.9,1342.9 1293.5,1347.8 1294.2,1344.9 1294.9,1350.1 1295.5,1348.8 1296.2,1352.0 1296.9,1349.5 1297.5,1350.2 1298.2,1348.9 1298.9,1353.1 1299.5,1353.8 1300.2,1356.2 1300.9,1353.8 1301.6,1350.8 1302.2,1349.3 1302.9,1350.5 1303.6,1349.3 1304.2,1352.7 1304.9,1351.2 1305.6,1346.4 1306.2,1345.9 1306.9,1349.7 1307.6,1345.8 1308.2,1343.1 1308.9,1345.5 1309.6,1341.1 1310.3,1341.3 1310.9,1341.4 1311.6,1338.5 1312.3,1346.2 1312.9,1342.0 1313.6,1344.3 1314.3,1344.0 1314.9,1347.3 1315.6,1344.7 1316.3,1344.1 1316.9,1339.1 1317.6,1342.2 1318.3,1338.2 1318.9,1342.1 1319.6,1342.1 1320.3,1341.3 1321.0,1346.4 1321.6,1343.0 1322.3,1343.4 1323.0,1342.4 1323.6,1341.6 1324.3,1344.3 1325.0,1344.4 1325.6,1338.4 1326.3,1344.1 1327.0,1343.1 1327.6,1344.8 1328.3,1344.6 1329.0,1341.8 1329.7,1343.5 1330.3,1352.3 1331.0,1350.1 1331.7,1347.5 1332.3,1353.1 1333.0,1352.5 1333.7,1350.1 1334.3,1350.0 1335.0,1352.5 1335.7,1357.8 1336.3,1357.4 1337.0,1356.9 1337.7,1357.9 1338.4,1357.9 1339.0,1350.5 1339.7,1353.7 1340.4,1351.3 1341.0,1349.2 1341.7,1349.6 1342.4,1349.3 1343.0,1347.4 1343.7,1342.8 1344.4,1343.2 1345.0,1347.3 1345.7,1338.0 1346.4,1334.9 1347.0,1338.5 1347.7,1338.8 1348.4,1338.7 1349.1,1335.9 1349.7,1342.6 1350.4,1340.4 1351.1,1341.9 1351.7,1345.5 1352.4,1348.9 1353.1,1352.7 1353.7,1353.8 1354.4,1353.0 1355.1,1355.7 1355.7,1353.6 1356.4,1355.2 1357.1,1349.1 1357.8,1348.2 1358.4,1353.5 1359.1,1348.1 1359.8,1350.9 1360.4,1351.7 1361.1,1351.3 1361.8,1351.9 1362.4,1356.8 1363.1,1347.7 1363.8,1356.0 1364.4,1359.4 1365.1,1353.9 1365.8,1353.9 1366.5,1356.1 1367.1,1359.5 1367.8,1353.5 1368.5,1358.1 1369.1,1359.3 1369.8,1363.0 1370.5,1363.8 1371.1,1366.5 1371.8,1365.1 1372.5,1366.9 1373.1,1365.4 1373.8,1365.3 1374.5,1366.2 1375.2,1366.0 1375.8,1363.6 1376.5,1370.7 1377.2,1367.5 1377.8,1365.6 1378.5,1372.5 1379.2,1368.7 1379.8,1371.6 1380.5,1369.5 1381.2,1368.4 1381.8,1365.8 1382.5,1361.3 1383.2,1360.1 1383.8,1362.6 1384.5,1350.9 1385.2,1356.0 1385.9,1357.4 1386.5,1355.1 1387.2,1356.1 1387.9,1366.5 1388.5,1361.9 1389.2,1368.8 1389.9,1365.4 1390.5,1364.0 1391.2,1364.1 1391.9,1363.3 1392.5,1363.5 1393.2,1360.6 1393.9,1359.1 1394.6,1358.6 1395.2,1361.3 1395.9,1360.1 1396.6,1356.1 1397.2,1357.6 1397.9,1360.8 1398.6,1359.6 1399.2,1361.5 1399.9,1361.3 1400.6,1364.0 1401.2,1366.3 1401.9,1367.9 1402.6,1365.3 1403.3,1369.6 1403.9,1363.2 1404.6,1369.5 1405.3,1362.3 1405.9,1359.0 1406.6,1354.5 1407.3,1347.0 1407.9,1351.9 1408.6,1351.6 1409.3,1355.3 1409.9,1347.3 1410.6,1355.8 1411.3,1351.6 1411.9,1355.3 1412.6,1349.2 1413.3,1357.4 1414.0,1358.1 1414.6,1362.2 1415.3,1362.1 1416.0,1360.1 1416.6,1365.5 1417.3,1365.0 1418.0,1364.5 1418.6,1365.1 1419.3,1364.9 1420.0,1361.7 1420.6,1357.9 1421.3,1357.3 1422.0,1363.4 1422.7,1361.4 1423.3,1359.7 1424.0,1358.4 1424.7,1359.8 1425.3,1360.2 1426.0,1360.0 1426.7,1359.7 1427.3,1366.8 1428.0,1362.0 1428.7,1359.4 1429.3,1356.8 1430.0,1357.0 1430.7,1359.3 1431.4,1358.3 1432.0,1355.0 1432.7,1355.1 1433.4,1353.9 1434.0,1352.0 1434.7,1357.9 1435.4,1355.9 1436.0,1361.5 1436.7,1354.5 1437.4,1356.9 1438.0,1360.4 1438.7,1358.9 1439.4,1357.3 1440.1,1359.4 1440.7,1362.6 1441.4,1363.3 1442.1,1361.7 1442.7,1363.2 1443.4,1361.5 1444.1,1358.0 1444.7,1355.4 1445.4,1353.2 1446.1,1354.2 1446.7,1354.8 1447.4,1353.3 1448.1,1355.4 1448.7,1355.2 1449.4,1354.7 1450.1,1358.0 1450.8,1364.5 1451.4,1365.8 1452.1,1370.4 1452.8,1368.0 1453.4,1370.9 1454.1,1372.5 1454.8,1371.7 1455.4,1367.5 1456.1,1367.7 1456.8,1367.3 1457.4,1363.2 1458.1,1364.8 1458.8,1364.0 1459.5,1358.0 1460.1,1361.6 1460.8,1354.1 1461.5,1352.7 1462.1,1351.5 1462.8,1349.9 1463.5,1352.8 1464.1,1352.5 1464.8,1357.3 1465.5,1355.7 1466.1,1356.4 1466.8,1355.1 1467.5,1352.5 1468.2,1355.7 1468.8,1353.6 1469.5,1357.7 1470.2,1355.1 1470.8,1359.0 1471.5,1356.7 1472.2,1356.8 1472.8,1355.2 1473.5,1354.9 1474.2,1355.7 1474.8,1355.9 1475.5,1351.4 1476.2,1353.7 1476.8,1358.2 1477.5,1351.0 1478.2,1349.9 1478.9,1348.0 1479.5,1345.3 1480.2,1350.6 1480.9,1346.6 1481.5,1345.9 1482.2,1348.1 1482.9,1348.3 1483.5,1338.8 1484.2,1342.5 1484.9,1340.9 1485.5,1340.3 1486.2,1341.0 1486.9,1340.8 1487.6,1346.0 1488.2,1345.2 1488.9,1346.1 1489.6,1349.7 1490.2,1350.1 1490.9,1349.9 1491.6,1350.2 1492.2,1353.9 1492.9,1350.8 1493.6,1349.1 1494.2,1346.8 1494.9,1347.4 1495.6,1345.2 1496.3,1347.5 1496.9,1347.3 1497.6,1341.1 1498.3,1345.4 1498.9,1346.2 1499.6,1344.2 1500.3,1340.8 1500.9,1345.4 1501.6,1340.1 1502.3,1338.5 1502.9,1339.0 1503.6,1342.3 1504.3,1345.9 1504.9,1348.1 1505.6,1347.9 1506.3,1346.7 1507.0,1350.0 1507.6,1350.9 1508.3,1353.5 1509.0,1349.8 1509.6,1353.7 1510.3,1353.7 1511.0,1349.9 1511.6,1349.2 1512.3,1343.6 1513.0,1340.1 1513.6,1340.2 1514.3,1343.0 1515.0,1341.7 1515.7,1337.5 1516.3,1341.5 1517.0,1338.2 1517.7,1343.3 1518.3,1341.7 1519.0,1340.6 1519.7,1344.8 1520.3,1342.2 1521.0,1343.0 1521.7,1342.7 1522.3,1347.6 1523.0,1347.4 1523.7,1347.5 1524.4,1346.4 1525.0,1350.2 1525.7,1344.7 1526.4,1342.7 1527.0,1346.0 1527.7,1345.2 1528.4,1341.7 1529.0,1336.2 1529.7,1339.1 1530.4,1342.7 1531.0,1342.6 1531.7,1347.9 1532.4,1342.8 1533.1,1349.6 1533.7,1348.3 1534.4,1354.5 1535.1,1352.3 1535.7,1355.9 1536.4,1353.3 1537.1,1352.7 1537.7,1354.4 1538.4,1356.5 1539.1,1356.4 1539.7,1362.7 1540.4,1363.9 1541.1,1362.3 1541.7,1360.1 1542.4,1363.3 1543.1,1363.0 1543.8,1369.4 1544.4,1368.1 1545.1,1370.2 1545.8,1370.0" stroke="#231f20" stroke-width="6.8"/>
<path d="M208.17 276.51h18.40v18.40h-18.40ZM269.02 487.15h18.40v18.40h-18.40ZM329.87 715.00h18.40v18.40h-18.40ZM390.72 942.69h18.40v18.40h-18.40ZM451.56 1147.06h18.40v18.40h-18.40ZM512.41 1290.04h18.40v18.40h-18.40ZM573.26 1345.54h18.40v18.40h-18.40ZM634.11 1334.82h18.40v18.40h-18.40ZM694.95 1337.51h18.40v18.40h-18.40ZM755.80 1345.59h18.40v18.40h-18.40ZM816.65 1334.80h18.40v18.40h-18.40ZM877.49 1331.80h18.40v18.40h-18.40ZM938.34 1332.13h18.40v18.40h-18.40ZM999.19 1334.75h18.40v18.40h-18.40ZM1060.04 1330.85h18.40v18.40h-18.40ZM1120.88 1332.08h18.40v18.40h-18.40ZM1181.73 1340.21h18.40v18.40h-18.40ZM1242.58 1342.75h18.40v18.40h-18.40ZM1303.43 1334.71h18.40v18.40h-18.40ZM1364.27 1356.13h18.40v18.40h-18.40ZM1425.12 1345.36h18.40v18.40h-18.40ZM1485.97 1337.38h18.40v18.40h-18.40Z" stroke="#231f20" stroke-width="6.2" stroke-linejoin="miter" stroke-miterlimit="10"/>
<polyline points="207.6,271.0 208.3,271.8 209.0,272.6 209.6,273.4 210.3,274.2 211.0,274.9 211.6,275.7 212.3,276.5 213.0,277.3 213.6,278.1 214.3,278.9 215.0,281.3 215.7,283.9 216.3,286.6 217.0,289.2 217.7,291.9 218.3,294.5 219.0,297.2 219.7,299.8 220.3,302.4 221.0,305.1 221.7,307.7 222.3,310.4 223.0,313.0 223.7,315.7 224.4,318.3 225.0,321.0 225.7,323.6 226.4,326.2 227.0,328.9 227.7,331.5 228.4,334.2 229.0,337.6 229.7,341.1 230.4,344.6 231.0,348.1 231.7,351.6 232.4,355.1 233.1,358.6 233.7,362.1 234.4,365.6 235.1,369.1 235.7,372.6 236.4,376.1 237.1,379.7 237.7,383.2 238.4,386.7 239.1,390.2 239.7,393.7 240.4,397.2 241.1,400.7 241.7,404.2 242.4,407.7 243.1,411.2 243.8,414.7 244.4,418.3 245.1,421.8 245.8,425.3 246.4,428.8 247.1,432.3 247.8,435.8 248.4,439.3 249.1,442.8 249.8,446.3 250.4,449.8 251.1,453.3 251.8,456.8 252.5,460.4 253.1,463.9 253.8,467.4 254.5,470.9 255.1,474.4 255.8,477.9 256.5,481.4 257.1,484.9 257.8,488.4 258.5,491.9 259.1,495.4 259.8,499.0 260.5,502.5 261.2,506.0 261.8,509.5 262.5,513.0 263.2,516.5 263.8,520.0 264.5,523.5 265.2,527.0 265.8,530.5 266.5,534.0 267.2,537.6 267.8,541.1 268.5,544.6 269.2,548.1 269.9,551.6 270.5,555.1 271.2,558.6 271.9,562.1 272.5,565.6 273.2,569.1 273.9,572.6 274.5,576.1 275.2,579.7 275.9,583.2 276.5,586.7 277.2,590.2 277.9,593.7 278.5,597.2 279.2,600.7 279.9,604.2 280.6,607.7 281.2,611.2 281.9,614.7 282.6,618.3 283.2,621.8 283.9,625.3 284.6,628.8 285.2,632.3 285.9,635.8 286.6,639.3 287.2,642.8 287.9,646.3 288.6,649.8 289.3,653.3 289.9,657.3 290.6,661.3 291.3,665.3 291.9,669.3 292.6,673.3 293.3,677.3 293.9,681.3 294.6,685.3 295.3,689.3 295.9,693.3 296.6,697.3 297.3,701.3 298.0,705.3 298.6,709.3 299.3,713.3 300.0,717.3 300.6,721.3 301.3,725.3 302.0,729.3 302.6,733.3 303.3,737.3 304.0,741.3 304.6,745.3 305.3,749.3 306.0,753.3 306.6,757.2 307.3,761.1 308.0,765.1 308.7,769.0 309.3,772.9 310.0,776.9 310.7,780.8 311.3,784.7 312.0,788.7 312.7,792.6 313.3,796.5 314.0,800.4 314.7,804.4 315.3,808.3 316.0,812.2 316.7,816.2 317.4,820.1 318.0,824.0 318.7,828.0 319.4,831.9 320.0,835.8 320.7,839.8 321.4,843.7 322.0,847.6 322.7,851.5 323.4,855.5 324.0,859.4 324.7,863.3 325.4,867.3 326.1,871.4 326.7,875.8 327.4,880.1 328.1,884.4 328.7,888.8 329.4,893.1 330.1,897.4 330.7,901.8 331.4,906.1 332.1,910.4 332.7,914.8 333.4,919.1 334.1,923.5 334.8,927.8 335.4,932.1 336.1,936.5 336.8,940.8 337.4,945.1 338.1,949.5 338.8,953.8 339.4,958.1 340.1,962.5 340.8,966.8 341.4,971.1 342.1,975.5 342.8,979.8 343.4,984.2 344.1,988.5 344.8,992.8 345.5,997.2 346.1,1001.5 346.8,1004.8 347.5,1007.4 348.1,1010.1 348.8,1012.8 349.5,1015.5 350.1,1018.2 350.8,1020.5 351.5,1022.8 352.1,1025.1 352.8,1027.4 353.5,1029.7 354.2,1032.0 354.8,1034.3 355.5,1036.6 356.2,1038.9 356.8,1043.3 357.5,1047.8 358.2,1052.3 358.8,1056.8 359.5,1061.3 360.2,1065.8 360.8,1070.3 361.5,1074.8 362.2,1079.3 362.9,1083.8 363.5,1088.3 364.2,1092.8 364.9,1097.3 365.5,1101.8 366.2,1106.3 366.9,1110.8 367.5,1115.3 368.2,1119.8 368.9,1124.3 369.5,1127.7 370.2,1129.7 370.9,1131.6 371.5,1133.6 372.2,1135.6 372.9,1137.5 373.6,1139.5 374.2,1141.5 374.9,1143.4 375.6,1145.4 376.2,1147.4 376.9,1149.3 377.6,1151.3 378.2,1153.3 378.9,1155.2 379.6,1157.2 380.2,1159.2 380.9,1161.1 381.6,1163.1 382.3,1165.1 382.9,1167.5 383.6,1170.1 384.3,1172.7 384.9,1175.2 385.6,1177.8 386.3,1180.4 386.9,1183.0 387.6,1185.5 388.3,1188.1 388.9,1190.7 389.6,1193.3 390.3,1195.8 391.0,1198.4 391.6,1200.0 392.3,1201.2 393.0,1202.4 393.6,1203.7 394.3,1204.9 395.0,1206.2 395.6,1207.4 396.3,1208.7 397.0,1209.9 397.6,1211.1 398.3,1212.4 399.0,1213.6 399.6,1214.9 400.3,1216.1 401.0,1217.3 401.7,1218.6 402.3,1219.8 403.0,1221.1 403.7,1222.3 404.3,1223.5 405.0,1224.8 405.7,1226.0 406.3,1227.3 407.0,1229.5 407.7,1231.7 408.3,1233.9 409.0,1236.1 409.7,1238.3 410.4,1240.5 411.0,1242.7 411.7,1244.4 412.4,1246.2 413.0,1248.0 413.7,1250.2 414.4,1253.9 415.0,1253.8 415.7,1257.9 416.4,1258.7 417.0,1257.6 417.7,1259.8 418.4,1258.3 419.1,1257.5 419.7,1259.5 420.4,1259.4 421.1,1263.6 421.7,1264.2 422.4,1267.0 423.1,1269.3 423.7,1263.2 424.4,1269.4 425.1,1264.4 425.7,1267.7 426.4,1264.9 427.1,1266.1 427.8,1267.9 428.4,1260.9 429.1,1263.9 429.8,1262.5 430.4,1258.1 431.1,1262.4 431.8,1260.3 432.4,1258.3 433.1,1258.0 433.8,1266.1 434.4,1258.8 435.1,1255.7 435.8,1257.1 436.4,1257.7 437.1,1257.1 437.8,1257.1 438.5,1254.7 439.1,1257.7 439.8,1255.5 440.5,1253.8 441.1,1255.3 441.8,1256.7 442.5,1260.1 443.1,1260.5 443.8,1260.3 444.5,1262.7 445.1,1265.1 445.8,1270.9 446.5,1267.7 447.2,1272.2 447.8,1274.8 448.5,1273.3 449.2,1277.1 449.8,1278.1 450.5,1277.3 451.2,1279.2 451.8,1279.4 452.5,1278.1 453.2,1273.5 453.8,1272.1 454.5,1274.4 455.2,1265.7 455.9,1267.1 456.5,1267.6 457.2,1265.7 457.9,1266.6 458.5,1265.5 459.2,1266.4 459.9,1266.9 460.5,1262.9 461.2,1262.5 461.9,1260.6 462.5,1258.6 463.2,1258.5 463.9,1255.8 464.5,1259.9 465.2,1262.7 465.9,1264.0 466.6,1264.7 467.2,1261.8 467.9,1268.1 468.6,1264.7 469.2,1266.8 469.9,1271.1 470.6,1265.5 471.2,1269.5 471.9,1268.4 472.6,1267.8 473.2,1266.3 473.9,1268.6 474.6,1266.1 475.3,1268.2 475.9,1267.3 476.6,1260.7 477.3,1261.2 477.9,1260.7 478.6,1258.4 479.3,1258.6 479.9,1261.5 480.6,1261.7 481.3,1260.0 481.9,1263.6 482.6,1267.2 483.3,1265.2 484.0,1267.1 484.6,1273.4 485.3,1273.8 486.0,1268.6 486.6,1269.6 487.3,1273.4 488.0,1270.3 488.6,1272.3 489.3,1271.9 490.0,1273.9 490.6,1267.6 491.3,1268.2 492.0,1270.0 492.7,1274.3 493.3,1271.9 494.0,1268.7 494.7,1273.1 495.3,1273.7 496.0,1271.8 496.7,1271.7 497.3,1273.3 498.0,1274.9 498.7,1272.6 499.3,1273.2 500.0,1271.7 500.7,1270.8 501.3,1269.4 502.0,1271.6 502.7,1270.5 503.4,1270.8 504.0,1273.6 504.7,1273.3 505.4,1274.8 506.0,1270.4 506.7,1275.2 507.4,1273.2 508.0,1273.0 508.7,1273.2 509.4,1277.8 510.0,1277.7 510.7,1275.5 511.4,1275.9 512.1,1279.5 512.7,1279.9 513.4,1285.4 514.1,1280.2 514.7,1280.4 515.4,1284.5 516.1,1285.8 516.7,1287.0 517.4,1289.1 518.1,1292.6 518.7,1288.4 519.4,1288.6 520.1,1286.4 520.8,1290.4 521.4,1291.3 522.1,1288.6 522.8,1290.7 523.4,1287.5 524.1,1289.6 524.8,1286.5 525.4,1283.2 526.1,1283.9 526.8,1282.4 527.4,1282.6 528.1,1287.5 528.8,1289.9 529.4,1293.5 530.1,1290.8 530.8,1291.9 531.5,1291.5 532.1,1297.0 532.8,1296.7 533.5,1295.1 534.1,1297.7 534.8,1297.1 535.5,1291.5 536.1,1295.7 536.8,1293.2 537.5,1290.7 538.1,1289.0 538.8,1291.6 539.5,1289.3 540.2,1288.0 540.8,1280.1 541.5,1279.3 542.2,1280.9 542.8,1275.3 543.5,1275.2 544.2,1272.2 544.8,1279.0 545.5,1277.0 546.2,1275.4 546.8,1274.6 547.5,1272.9 548.2,1272.7 548.9,1274.5 549.5,1271.9 550.2,1276.2 550.9,1273.6 551.5,1274.1 552.2,1280.1 552.9,1279.1 553.5,1282.4 554.2,1282.2 554.9,1279.9 555.5,1286.5 556.2,1283.0 556.9,1287.8 557.5,1282.0 558.2,1280.7 558.9,1284.4 559.6,1284.0 560.2,1282.9 560.9,1280.1 561.6,1284.4 562.2,1280.0 562.9,1282.5 563.6,1282.4 564.2,1283.9 564.9,1287.0 565.6,1284.3 566.2,1286.8 566.9,1286.7 567.6,1281.0 568.3,1280.9 568.9,1281.1 569.6,1279.2 570.3,1279.7 570.9,1274.2 571.6,1278.9 572.3,1278.8 572.9,1277.2 573.6,1275.4 574.3,1279.5 574.9,1281.7 575.6,1287.2 576.3,1289.2 577.0,1294.0 577.6,1294.7 578.3,1301.3 579.0,1296.4 579.6,1301.5 580.3,1305.4 581.0,1299.0 581.6,1301.1 582.3,1294.8 583.0,1295.1 583.6,1290.9 584.3,1289.8 585.0,1289.0 585.7,1286.3 586.3,1284.4 587.0,1288.8 587.7,1283.3 588.3,1279.5 589.0,1281.2 589.7,1278.7 590.3,1277.5 591.0,1277.2 591.7,1270.9 592.3,1274.8 593.0,1275.2 593.7,1273.4 594.3,1274.5 595.0,1268.2 595.7,1273.1 596.4,1277.5 597.0,1270.0 597.7,1272.2 598.4,1273.8 599.0,1274.5 599.7,1277.0 600.4,1270.7 601.0,1274.8 601.7,1276.8 602.4,1272.5 603.0,1275.1 603.7,1278.9 604.4,1277.7 605.1,1276.3 605.7,1270.4 606.4,1276.2 607.1,1278.3 607.7,1278.4 608.4,1280.4 609.1,1288.4 609.7,1283.2 610.4,1282.9 611.1,1286.4 611.7,1286.1 612.4,1286.8 613.1,1287.9 613.8,1290.3 614.4,1289.8 615.1,1287.3 615.8,1289.5 616.4,1290.3 617.1,1287.4 617.8,1289.1 618.4,1286.4 619.1,1280.6 619.8,1281.1 620.4,1282.4 621.1,1279.8 621.8,1275.2 622.4,1276.0 623.1,1272.1 623.8,1269.9 624.5,1273.5 625.1,1272.5 625.8,1272.7 626.5,1271.2 627.1,1271.5 627.8,1269.4 628.5,1271.0 629.1,1271.4 629.8,1269.5 630.5,1271.4 631.1,1266.5 631.8,1269.0 632.5,1274.1 633.2,1275.5 633.8,1273.2 634.5,1273.2 635.2,1271.4 635.8,1274.9 636.5,1275.7 637.2,1271.0 637.8,1274.7 638.5,1274.1 639.2,1273.6 639.8,1269.9 640.5,1272.8 641.2,1268.3 641.9,1273.9 642.5,1270.8 643.2,1268.1 643.9,1273.4 644.5,1273.7 645.2,1271.2 645.9,1278.3 646.5,1273.2 647.2,1277.1 647.9,1279.7 648.5,1273.1 649.2,1279.6 649.9,1277.1 650.6,1276.7 651.2,1274.1 651.9,1276.6 652.6,1273.5 653.2,1273.8 653.9,1274.9 654.6,1273.3 655.2,1278.5 655.9,1272.2 656.6,1272.8 657.2,1273.2 657.9,1273.5 658.6,1274.8 659.2,1274.6 659.9,1272.2 660.6,1271.9 661.3,1272.5 661.9,1273.7 662.6,1273.1 663.3,1270.4 663.9,1267.2 664.6,1275.8 665.3,1273.8 665.9,1273.2 666.6,1274.4 667.3,1273.9 667.9,1274.1 668.6,1276.5 669.3,1277.5 670.0,1277.2 670.6,1275.8 671.3,1278.2 672.0,1279.9 672.6,1277.4 673.3,1278.1 674.0,1273.5 674.6,1276.9 675.3,1276.6 676.0,1273.9 676.6,1272.5 677.3,1276.5 678.0,1273.7 678.7,1276.0 679.3,1273.8 680.0,1275.6 680.7,1273.2 681.3,1270.4 682.0,1272.6 682.7,1271.3 683.3,1272.3 684.0,1268.8 684.7,1267.7 685.3,1269.0 686.0,1268.7 686.7,1267.3 687.3,1267.6 688.0,1266.8 688.7,1268.1 689.4,1269.3 690.0,1269.6 690.7,1270.1 691.4,1271.4 692.0,1277.0 692.7,1272.9 693.4,1273.0 694.0,1273.0 694.7,1273.7 695.4,1274.1 696.0,1271.2 696.7,1269.5 697.4,1274.2 698.1,1270.6 698.7,1274.7 699.4,1274.7 700.1,1276.7 700.7,1277.2 701.4,1273.4 702.1,1269.8 702.7,1266.3 703.4,1264.5 704.1,1263.5 704.7,1256.6 705.4,1258.7 706.1,1256.8 706.8,1257.2 707.4,1255.1 708.1,1256.9 708.8,1256.8 709.4,1259.5 710.1,1259.2 710.8,1265.2 711.4,1269.8 712.1,1268.0 712.8,1268.7 713.4,1265.7 714.1,1269.6 714.8,1264.1 715.4,1266.4 716.1,1264.7 716.8,1262.7 717.5,1267.4 718.1,1266.6 718.8,1268.4 719.5,1270.5 720.1,1270.9 720.8,1271.2 721.5,1273.4 722.1,1271.8 722.8,1272.5 723.5,1270.7 724.1,1268.8 724.8,1270.3 725.5,1270.7 726.2,1272.1 726.8,1274.9 727.5,1269.7 728.2,1273.8 728.8,1269.3 729.5,1271.7 730.2,1272.7 730.8,1269.0 731.5,1269.6 732.2,1273.5 732.8,1273.3 733.5,1273.0 734.2,1271.8 734.9,1277.9 735.5,1273.4 736.2,1272.1 736.9,1277.2 737.5,1275.0 738.2,1273.0 738.9,1276.1 739.5,1273.9 740.2,1274.7 740.9,1273.7 741.5,1270.8 742.2,1274.5 742.9,1272.6 743.6,1270.0 744.2,1270.3 744.9,1273.8 745.6,1271.1 746.2,1271.9 746.9,1273.0 747.6,1271.8 748.2,1268.4 748.9,1272.9 749.6,1273.8 750.2,1274.4 750.9,1277.0 751.6,1275.9 752.2,1278.4 752.9,1281.7 753.6,1279.4 754.3,1284.6 754.9,1285.3 755.6,1283.7 756.3,1285.6 756.9,1283.1 757.6,1278.9 758.3,1282.1 758.9,1279.8 759.6,1279.4 760.3,1278.6 760.9,1281.1 761.6,1279.9 762.3,1278.1 763.0,1281.4 763.6,1282.9 764.3,1281.0 765.0,1282.6 765.6,1283.8 766.3,1284.3 767.0,1287.1 767.6,1289.3 768.3,1291.8 769.0,1291.1 769.6,1291.3 770.3,1292.2 771.0,1293.1 771.7,1290.1 772.3,1292.6 773.0,1292.1 773.7,1291.2 774.3,1290.3 775.0,1289.7 775.7,1289.2 776.3,1285.9 777.0,1287.6 777.7,1284.5 778.3,1283.0 779.0,1282.0 779.7,1281.7 780.3,1278.6 781.0,1279.7 781.7,1277.4 782.4,1277.3 783.0,1279.2 783.7,1287.6 784.4,1282.0 785.0,1287.6 785.7,1290.2 786.4,1286.4 787.0,1290.3 787.7,1290.2 788.4,1287.8 789.0,1290.1 789.7,1286.3 790.4,1283.4 791.1,1286.1 791.7,1284.4 792.4,1282.9 793.1,1283.1 793.7,1290.3 794.4,1284.3 795.1,1284.9 795.7,1283.0 796.4,1283.8 797.1,1282.3 797.7,1281.4 798.4,1279.3 799.1,1278.8 799.8,1280.2 800.4,1282.6 801.1,1286.6 801.8,1284.9 802.4,1286.7 803.1,1283.9 803.8,1282.5 804.4,1279.5 805.1,1281.5 805.8,1276.5 806.4,1279.4 807.1,1282.3 807.8,1278.7 808.5,1279.1 809.1,1274.7 809.8,1271.5 810.5,1272.1 811.1,1271.3 811.8,1273.8 812.5,1274.8 813.1,1268.8 813.8,1269.1 814.5,1269.0 815.1,1267.9 815.8,1265.3 816.5,1267.1 817.1,1266.8 817.8,1266.1 818.5,1262.5 819.2,1264.7 819.8,1261.8 820.5,1267.9 821.2,1265.2 821.8,1268.1 822.5,1269.2 823.2,1270.1 823.8,1269.8 824.5,1268.6 825.2,1275.4 825.8,1271.8 826.5,1271.1 827.2,1274.1 827.9,1269.2 828.5,1270.4 829.2,1269.3 829.9,1271.8 830.5,1270.6 831.2,1270.3 831.9,1269.1 832.5,1270.0 833.2,1271.5 833.9,1264.7 834.5,1268.5 835.2,1267.9 835.9,1268.2 836.6,1264.9 837.2,1270.7 837.9,1268.0 838.6,1269.8 839.2,1270.0 839.9,1268.4 840.6,1271.8 841.2,1269.9 841.9,1272.5 842.6,1274.4 843.2,1275.3 843.9,1275.4 844.6,1274.7 845.2,1278.9 845.9,1275.0 846.6,1271.2 847.3,1272.2 847.9,1272.1 848.6,1273.2 849.3,1272.6 849.9,1272.2 850.6,1277.2 851.3,1273.7 851.9,1272.3 852.6,1271.6 853.3,1270.6 853.9,1272.7 854.6,1269.7 855.3,1269.9 856.0,1260.2 856.6,1266.1 857.3,1266.5 858.0,1267.5 858.6,1263.0 859.3,1259.4 860.0,1264.4 860.6,1263.0 861.3,1262.1 862.0,1266.2 862.6,1271.5 863.3,1273.5 864.0,1274.1 864.7,1271.8 865.3,1279.9 866.0,1273.3 866.7,1276.2 867.3,1274.0 868.0,1279.9 868.7,1278.2 869.3,1278.7 870.0,1276.2 870.7,1274.7 871.3,1273.8 872.0,1269.6 872.7,1276.1 873.3,1277.2 874.0,1276.5 874.7,1279.6 875.4,1282.9 876.0,1288.1 876.7,1287.8 877.4,1286.0 878.0,1283.5 878.7,1279.8 879.4,1279.8 880.0,1279.3 880.7,1276.8 881.4,1275.5 882.0,1275.7 882.7,1274.5 883.4,1273.5 884.1,1273.6 884.7,1272.0 885.4,1271.1 886.1,1271.8 886.7,1267.5 887.4,1273.8 888.1,1269.3 888.7,1274.4 889.4,1273.8 890.1,1277.1 890.7,1276.1 891.4,1275.1 892.1,1280.0 892.8,1278.7 893.4,1278.6 894.1,1278.1 894.8,1279.1 895.4,1277.6 896.1,1275.0 896.8,1270.0 897.4,1271.1 898.1,1271.0 898.8,1273.5 899.4,1270.0 900.1,1268.6 900.8,1270.9 901.5,1268.2 902.1,1268.5 902.8,1269.1 903.5,1266.0 904.1,1271.1 904.8,1270.1 905.5,1268.4 906.1,1266.2 906.8,1268.2 907.5,1269.6 908.1,1264.2 908.8,1262.0 909.5,1263.4 910.1,1257.8 910.8,1255.2 911.5,1257.8 912.2,1256.7 912.8,1257.4 913.5,1257.2 914.2,1259.7 914.8,1259.5 915.5,1259.7 916.2,1260.9 916.8,1264.0 917.5,1265.5 918.2,1266.3 918.8,1266.9 919.5,1260.1 920.2,1266.0 920.9,1268.8 921.5,1271.2 922.2,1268.9 922.9,1276.2 923.5,1275.1 924.2,1274.1 924.9,1276.4 925.5,1275.9 926.2,1275.5 926.9,1278.4 927.5,1276.8 928.2,1275.2 928.9,1277.1 929.6,1278.4 930.2,1276.7 930.9,1281.4 931.6,1276.4 932.2,1281.5 932.9,1278.8 933.6,1273.8 934.2,1274.4 934.9,1274.9 935.6,1270.6 936.2,1267.0 936.9,1268.4 937.6,1271.2 938.2,1263.6 938.9,1267.5 939.6,1266.6 940.3,1266.9 940.9,1267.0 941.6,1267.9 942.3,1271.2 942.9,1270.6 943.6,1267.4 944.3,1272.1 944.9,1265.4 945.6,1268.2 946.3,1265.9 946.9,1266.5 947.6,1263.7 948.3,1264.4 949.0,1262.0 949.6,1264.5 950.3,1264.3 951.0,1269.4 951.6,1265.2 952.3,1270.3 953.0,1269.8 953.6,1269.8 954.3,1268.4 955.0,1270.2 955.6,1265.9 956.3,1265.5 957.0,1269.1 957.7,1263.9 958.3,1269.2 959.0,1264.6 959.7,1264.2 960.3,1262.1 961.0,1260.9 961.7,1257.6 962.3,1255.7 963.0,1255.1 963.7,1257.0 964.3,1257.4 965.0,1258.6 965.7,1257.9 966.4,1258.1 967.0,1256.1 967.7,1261.4 968.4,1261.8 969.0,1258.9 969.7,1260.5 970.4,1260.4 971.0,1257.1 971.7,1258.3 972.4,1256.5 973.0,1252.4 973.7,1255.4 974.4,1256.2 975.0,1258.9 975.7,1257.0 976.4,1258.8 977.1,1258.6 977.7,1261.3 978.4,1262.5 979.1,1265.3 979.7,1266.0 980.4,1265.8 981.1,1266.8 981.7,1267.2 982.4,1267.6 983.1,1270.5 983.7,1262.3 984.4,1266.7 985.1,1267.5 985.8,1269.1 986.4,1264.8 987.1,1267.9 987.8,1269.2 988.4,1266.6 989.1,1263.5 989.8,1266.1 990.4,1263.6 991.1,1266.2 991.8,1261.7 992.4,1265.5 993.1,1260.6 993.8,1257.2 994.5,1256.5 995.1,1254.2 995.8,1256.4 996.5,1258.1 997.1,1254.3 997.8,1256.5 998.5,1252.8 999.1,1255.4 999.8,1259.6 1000.5,1252.3 1001.1,1257.8 1001.8,1257.9 1002.5,1252.1 1003.1,1253.5 1003.8,1255.2 1004.5,1260.2 1005.2,1258.7 1005.8,1260.7 1006.5,1264.0 1007.2,1264.2 1007.8,1265.6 1008.5,1265.2 1009.2,1268.6 1009.8,1264.9 1010.5,1269.8 1011.2,1265.4 1011.8,1264.1 1012.5,1266.6 1013.2,1265.6 1013.9,1260.1 1014.5,1263.9 1015.2,1260.3 1015.9,1260.9 1016.5,1264.0 1017.2,1260.8 1017.9,1263.7 1018.5,1262.8 1019.2,1268.4 1019.9,1265.4 1020.5,1264.4 1021.2,1265.5 1021.9,1266.5 1022.6,1268.8 1023.2,1268.3 1023.9,1269.8 1024.6,1267.4 1025.2,1266.5 1025.9,1266.1 1026.6,1264.4 1027.2,1264.5 1027.9,1264.8 1028.6,1264.0 1029.2,1260.4 1029.9,1256.9 1030.6,1257.7 1031.2,1258.9 1031.9,1252.4 1032.6,1255.9 1033.3,1257.4 1033.9,1255.3 1034.6,1254.2 1035.3,1260.2 1035.9,1259.9 1036.6,1257.2 1037.3,1261.4 1037.9,1262.6 1038.6,1259.3 1039.3,1268.8 1039.9,1263.4 1040.6,1266.6 1041.3,1266.5 1042.0,1270.3 1042.6,1268.7 1043.3,1272.4 1044.0,1275.5 1044.6,1274.6 1045.3,1274.2 1046.0,1278.2 1046.6,1273.4 1047.3,1276.9 1048.0,1273.7 1048.6,1274.0 1049.3,1272.7 1050.0,1271.9 1050.7,1270.4 1051.3,1267.8 1052.0,1266.9 1052.7,1267.6 1053.3,1265.1 1054.0,1261.8 1054.7,1261.9 1055.3,1261.8 1056.0,1263.7 1056.7,1265.5 1057.3,1267.5 1058.0,1268.6 1058.7,1272.8 1059.4,1272.7 1060.0,1271.9 1060.7,1279.4 1061.4,1277.4 1062.0,1279.6 1062.7,1279.4 1063.4,1283.2 1064.0,1279.3 1064.7,1282.0 1065.4,1279.8 1066.0,1277.5 1066.7,1275.8 1067.4,1278.8 1068.0,1277.6 1068.7,1277.6 1069.4,1279.1 1070.1,1275.5 1070.7,1275.4 1071.4,1274.5 1072.1,1274.9 1072.7,1273.9 1073.4,1272.8 1074.1,1278.6 1074.7,1270.9 1075.4,1275.4 1076.1,1276.2 1076.7,1276.2 1077.4,1274.7 1078.1,1277.0 1078.8,1277.2 1079.4,1276.6 1080.1,1279.2 1080.8,1278.5 1081.4,1278.0 1082.1,1280.0 1082.8,1275.7 1083.4,1277.8 1084.1,1274.7 1084.8,1275.8 1085.4,1274.4 1086.1,1274.4 1086.8,1272.0 1087.5,1272.9 1088.1,1273.8 1088.8,1277.1 1089.5,1279.6 1090.1,1281.7 1090.8,1279.8 1091.5,1282.1 1092.1,1279.6 1092.8,1279.4 1093.5,1283.1 1094.1,1284.5 1094.8,1283.7 1095.5,1284.1 1096.1,1289.6 1096.8,1287.4 1097.5,1286.0 1098.2,1294.2 1098.8,1289.8 1099.5,1288.6 1100.2,1290.3 1100.8,1287.1 1101.5,1291.6 1102.2,1285.2 1102.8,1285.7 1103.5,1288.1 1104.2,1286.8 1104.8,1291.0 1105.5,1284.5 1106.2,1285.5 1106.9,1286.2 1107.5,1285.3 1108.2,1284.2 1108.9,1280.7 1109.5,1282.2 1110.2,1274.6 1110.9,1273.9 1111.5,1273.8 1112.2,1270.4 1112.9,1270.0 1113.5,1269.8 1114.2,1270.2 1114.9,1270.4 1115.6,1272.9 1116.2,1272.4 1116.9,1277.6 1117.6,1274.5 1118.2,1282.2 1118.9,1281.4 1119.6,1279.6 1120.2,1276.1 1120.9,1274.2 1121.6,1276.7 1122.2,1273.3 1122.9,1272.9 1123.6,1269.3 1124.2,1272.1 1124.9,1267.8 1125.6,1269.5 1126.3,1266.1 1126.9,1269.0 1127.6,1272.4 1128.3,1271.8 1128.9,1273.0 1129.6,1276.4 1130.3,1275.2 1130.9,1277.9 1131.6,1270.2 1132.3,1275.5 1132.9,1274.6 1133.6,1269.9 1134.3,1270.1 1135.0,1274.6 1135.6,1271.3 1136.3,1273.2 1137.0,1277.0 1137.6,1276.5 1138.3,1279.5 1139.0,1277.8 1139.6,1280.8 1140.3,1282.6 1141.0,1280.8 1141.6,1275.2 1142.3,1280.2 1143.0,1278.3 1143.7,1275.8 1144.3,1280.2 1145.0,1274.0 1145.7,1281.9 1146.3,1277.8 1147.0,1283.3 1147.7,1281.2 1148.3,1279.5 1149.0,1282.9 1149.7,1283.6 1150.3,1283.8 1151.0,1284.3 1151.7,1279.9 1152.4,1282.3 1153.0,1282.5 1153.7,1280.3 1154.4,1278.8 1155.0,1278.5 1155.7,1281.6 1156.4,1281.3 1157.0,1277.7 1157.7,1276.5 1158.4,1281.7 1159.0,1276.5 1159.7,1280.6 1160.4,1279.5 1161.0,1278.4 1161.7,1282.8 1162.4,1282.5 1163.1,1285.6 1163.7,1286.5 1164.4,1280.3 1165.1,1281.2 1165.7,1279.6 1166.4,1275.0 1167.1,1273.2 1167.7,1277.5 1168.4,1273.5 1169.1,1274.5 1169.7,1274.7 1170.4,1276.1 1171.1,1276.4 1171.8,1280.5 1172.4,1282.9 1173.1,1280.8 1173.8,1279.5 1174.4,1282.8 1175.1,1279.6 1175.8,1280.8 1176.4,1283.9 1177.1,1285.5 1177.8,1281.3 1178.4,1278.5 1179.1,1282.7 1179.8,1277.6 1180.5,1281.9 1181.1,1287.7 1181.8,1287.5 1182.5,1284.5 1183.1,1285.2 1183.8,1291.2 1184.5,1290.1 1185.1,1289.3 1185.8,1291.2 1186.5,1288.6 1187.1,1284.9 1187.8,1289.0 1188.5,1284.5 1189.1,1282.3 1189.8,1280.4 1190.5,1282.8 1191.2,1280.2 1191.8,1283.0 1192.5,1281.5 1193.2,1284.7 1193.8,1282.3 1194.5,1282.4 1195.2,1280.5 1195.8,1282.9 1196.5,1287.0 1197.2,1291.9 1197.8,1283.0 1198.5,1282.6 1199.2,1284.2 1199.9,1282.8 1200.5,1278.7 1201.2,1278.4 1201.9,1273.4 1202.5,1274.4 1203.2,1275.5 1203.9,1276.1 1204.5,1272.1 1205.2,1271.9 1205.9,1273.7 1206.5,1275.8 1207.2,1275.5 1207.9,1274.1 1208.6,1277.5 1209.2,1280.0 1209.9,1277.9 1210.6,1278.0 1211.2,1283.0 1211.9,1283.9 1212.6,1286.1 1213.2,1285.1 1213.9,1284.1 1214.6,1284.7 1215.2,1283.4 1215.9,1283.3 1216.6,1283.7 1217.3,1283.6 1217.9,1286.5 1218.6,1281.5 1219.3,1283.6 1219.9,1282.2 1220.6,1285.8 1221.3,1282.7 1221.9,1280.5 1222.6,1281.8 1223.3,1279.1 1223.9,1276.6 1224.6,1279.1 1225.3,1275.9 1225.9,1276.2 1226.6,1273.3 1227.3,1270.9 1228.0,1268.0 1228.6,1264.3 1229.3,1266.9 1230.0,1265.0 1230.6,1265.9 1231.3,1264.6 1232.0,1263.5 1232.6,1263.3 1233.3,1267.2 1234.0,1269.0 1234.6,1266.6 1235.3,1268.9 1236.0,1271.6 1236.7,1268.2 1237.3,1270.1 1238.0,1269.4 1238.7,1274.7 1239.3,1273.4 1240.0,1272.3 1240.7,1270.2 1241.3,1273.4 1242.0,1276.0 1242.7,1273.9 1243.3,1274.2 1244.0,1277.1 1244.7,1274.0 1245.4,1277.0 1246.0,1278.1 1246.7,1274.8 1247.4,1273.5 1248.0,1273.9 1248.7,1271.1 1249.4,1268.6 1250.0,1267.5 1250.7,1265.8 1251.4,1262.2 1252.0,1261.7 1252.7,1263.1 1253.4,1263.7 1254.0,1263.6 1254.7,1258.7 1255.4,1262.3 1256.1,1261.6 1256.7,1260.2 1257.4,1261.6 1258.1,1262.7 1258.7,1265.3 1259.4,1260.3 1260.1,1264.4 1260.7,1263.7 1261.4,1264.3 1262.1,1267.7 1262.7,1267.5 1263.4,1264.5 1264.1,1266.4 1264.8,1267.7 1265.4,1264.6 1266.1,1269.2 1266.8,1267.5 1267.4,1268.3 1268.1,1269.1 1268.8,1272.6 1269.4,1269.5 1270.1,1269.1 1270.8,1273.3 1271.4,1268.3 1272.1,1267.3 1272.8,1264.1 1273.5,1267.1 1274.1,1263.3 1274.8,1261.4 1275.5,1258.7 1276.1,1256.3 1276.8,1253.8 1277.5,1253.2 1278.1,1255.7 1278.8,1255.6 1279.5,1259.5 1280.1,1255.7 1280.8,1257.2 1281.5,1257.0 1282.2,1262.5 1282.8,1258.0 1283.5,1262.7 1284.2,1264.7 1284.8,1262.2 1285.5,1264.4 1286.2,1259.0 1286.8,1262.5 1287.5,1259.8 1288.2,1263.0 1288.8,1262.2 1289.5,1260.1 1290.2,1263.2 1290.8,1261.8 1291.5,1260.0 1292.2,1260.0 1292.9,1258.2 1293.5,1260.7 1294.2,1265.3 1294.9,1259.6 1295.5,1261.9 1296.2,1260.2 1296.9,1263.3 1297.5,1263.4 1298.2,1263.1 1298.9,1261.4 1299.5,1265.5 1300.2,1270.7 1300.9,1269.6 1301.6,1273.1 1302.2,1272.5 1302.9,1271.0 1303.6,1276.6 1304.2,1276.9 1304.9,1275.3 1305.6,1275.4 1306.2,1276.2 1306.9,1273.9 1307.6,1275.3 1308.2,1274.1 1308.9,1270.1 1309.6,1275.3 1310.3,1275.6 1310.9,1276.6 1311.6,1280.6 1312.3,1280.3 1312.9,1283.7 1313.6,1285.8 1314.3,1284.6 1314.9,1281.6 1315.6,1283.4 1316.3,1286.6 1316.9,1284.0 1317.6,1282.6 1318.3,1283.7 1318.9,1284.7 1319.6,1284.1 1320.3,1284.9 1321.0,1282.1 1321.6,1283.3 1322.3,1283.4 1323.0,1283.8 1323.6,1279.7 1324.3,1283.1 1325.0,1280.6 1325.6,1286.0 1326.3,1286.7 1327.0,1287.7 1327.6,1286.8 1328.3,1285.3 1329.0,1289.1 1329.7,1287.6 1330.3,1289.6 1331.0,1286.6 1331.7,1286.9 1332.3,1288.2 1333.0,1289.8 1333.7,1285.0 1334.3,1288.3 1335.0,1288.1 1335.7,1279.1 1336.3,1281.0 1337.0,1278.8 1337.7,1280.5 1338.4,1280.2 1339.0,1281.7 1339.7,1284.4 1340.4,1284.8 1341.0,1283.5 1341.7,1282.6 1342.4,1282.0 1343.0,1280.8 1343.7,1280.1 1344.4,1277.3 1345.0,1276.5 1345.7,1271.2 1346.4,1273.7 1347.0,1274.1 1347.7,1269.7 1348.4,1265.3 1349.1,1269.9 1349.7,1265.9 1350.4,1260.2 1351.1,1265.4 1351.7,1266.8 1352.4,1265.9 1353.1,1267.1 1353.7,1265.0 1354.4,1263.1 1355.1,1257.8 1355.7,1258.6 1356.4,1260.4 1357.1,1261.1 1357.8,1257.7 1358.4,1258.9 1359.1,1261.6 1359.8,1257.5 1360.4,1257.8 1361.1,1261.4 1361.8,1262.2 1362.4,1260.2 1363.1,1255.8 1363.8,1259.5 1364.4,1255.7 1365.1,1258.6 1365.8,1255.9 1366.5,1255.5 1367.1,1255.2 1367.8,1252.0 1368.5,1254.1 1369.1,1254.8 1369.8,1253.4 1370.5,1256.2 1371.1,1253.8 1371.8,1258.8 1372.5,1259.6 1373.1,1259.3 1373.8,1263.0 1374.5,1263.5 1375.2,1264.1 1375.8,1265.3 1376.5,1266.1 1377.2,1261.4 1377.8,1259.6 1378.5,1253.4 1379.2,1253.6 1379.8,1253.1 1380.5,1250.7 1381.2,1249.3 1381.8,1247.6 1382.5,1247.9 1383.2,1251.4 1383.8,1250.8 1384.5,1252.7 1385.2,1259.0 1385.9,1256.6 1386.5,1262.7 1387.2,1256.4 1387.9,1260.0 1388.5,1256.5 1389.2,1259.0 1389.9,1256.5 1390.5,1258.9 1391.2,1259.0 1391.9,1259.1 1392.5,1261.7 1393.2,1264.5 1393.9,1261.0 1394.6,1264.6 1395.2,1263.7 1395.9,1264.1 1396.6,1269.1 1397.2,1260.9 1397.9,1264.2 1398.6,1262.2 1399.2,1265.3 1399.9,1265.5 1400.6,1273.4 1401.2,1266.3 1401.9,1268.8 1402.6,1267.1 1403.3,1262.8 1403.9,1263.4 1404.6,1264.5 1405.3,1260.3 1405.9,1259.3 1406.6,1259.4 1407.3,1255.5 1407.9,1257.7 1408.6,1261.4 1409.3,1263.7 1409.9,1262.8 1410.6,1266.0 1411.3,1268.1 1411.9,1269.3 1412.6,1271.7 1413.3,1270.8 1414.0,1270.9 1414.6,1267.6 1415.3,1268.1 1416.0,1270.7 1416.6,1267.1 1417.3,1271.3 1418.0,1270.1 1418.6,1270.6 1419.3,1274.2 1420.0,1272.2 1420.6,1272.1 1421.3,1272.3 1422.0,1273.4 1422.7,1278.1 1423.3,1267.6 1424.0,1271.1 1424.7,1270.0 1425.3,1272.1 1426.0,1269.5 1426.7,1265.6 1427.3,1273.7 1428.0,1269.5 1428.7,1272.3 1429.3,1270.3 1430.0,1271.3 1430.7,1272.8 1431.4,1275.7 1432.0,1275.6 1432.7,1272.6 1433.4,1274.6 1434.0,1272.6 1434.7,1273.3 1435.4,1273.1 1436.0,1273.8 1436.7,1271.1 1437.4,1272.0 1438.0,1272.6 1438.7,1272.5 1439.4,1271.1 1440.1,1276.8 1440.7,1273.2 1441.4,1276.6 1442.1,1276.3 1442.7,1279.0 1443.4,1272.6 1444.1,1281.2 1444.7,1276.7 1445.4,1274.8 1446.1,1277.3 1446.7,1281.6 1447.4,1278.5 1448.1,1275.7 1448.7,1278.1 1449.4,1282.6 1450.1,1277.9 1450.8,1281.1 1451.4,1281.4 1452.1,1286.7 1452.8,1282.1 1453.4,1285.6 1454.1,1282.0 1454.8,1282.2 1455.4,1286.2 1456.1,1285.9 1456.8,1281.5 1457.4,1286.5 1458.1,1286.8 1458.8,1284.5 1459.5,1286.3 1460.1,1286.5 1460.8,1285.0 1461.5,1284.5 1462.1,1283.8 1462.8,1283.8 1463.5,1280.6 1464.1,1282.0 1464.8,1277.7 1465.5,1279.5 1466.1,1277.9 1466.8,1275.0 1467.5,1278.0 1468.2,1279.8 1468.8,1278.5 1469.5,1273.3 1470.2,1279.0 1470.8,1277.4 1471.5,1277.5 1472.2,1276.9 1472.8,1278.5 1473.5,1281.6 1474.2,1280.1 1474.8,1278.2 1475.5,1277.6 1476.2,1277.7 1476.8,1279.2 1477.5,1281.0 1478.2,1274.3 1478.9,1275.5 1479.5,1273.7 1480.2,1271.9 1480.9,1273.0 1481.5,1272.0 1482.2,1266.6 1482.9,1266.0 1483.5,1269.0 1484.2,1266.0 1484.9,1265.5 1485.5,1262.8 1486.2,1262.7 1486.9,1264.4 1487.6,1262.6 1488.2,1261.7 1488.9,1264.4 1489.6,1266.7 1490.2,1263.4 1490.9,1268.2 1491.6,1268.3 1492.2,1266.1 1492.9,1268.9 1493.6,1270.0 1494.2,1272.7 1494.9,1274.1 1495.6,1271.4 1496.3,1272.5 1496.9,1278.3 1497.6,1277.1 1498.3,1278.2 1498.9,1278.1 1499.6,1280.4 1500.3,1274.7 1500.9,1279.0 1501.6,1274.9 1502.3,1277.8 1502.9,1278.9 1503.6,1273.5 1504.3,1277.1 1504.9,1275.8 1505.6,1275.8 1506.3,1276.2 1507.0,1274.3 1507.6,1274.4 1508.3,1277.2 1509.0,1276.9 1509.6,1273.3 1510.3,1270.6 1511.0,1277.4 1511.6,1274.4 1512.3,1272.5 1513.0,1269.6 1513.6,1270.5 1514.3,1272.2 1515.0,1269.8 1515.7,1275.0 1516.3,1272.1 1517.0,1272.7 1517.7,1270.0 1518.3,1270.4 1519.0,1271.1 1519.7,1273.7 1520.3,1273.5 1521.0,1274.5 1521.7,1277.1 1522.3,1278.6 1523.0,1283.0 1523.7,1281.7 1524.4,1282.1 1525.0,1285.9 1525.7,1290.4 1526.4,1287.6 1527.0,1289.5 1527.7,1289.1 1528.4,1290.5 1529.0,1289.6 1529.7,1286.6 1530.4,1286.6 1531.0,1287.6 1531.7,1286.7 1532.4,1285.2 1533.1,1284.3 1533.7,1281.3 1534.4,1280.9 1535.1,1283.3 1535.7,1279.1 1536.4,1281.2 1537.1,1277.7 1537.7,1280.9 1538.4,1280.8 1539.1,1280.7 1539.7,1285.3 1540.4,1283.9 1541.1,1286.1 1541.7,1287.7 1542.4,1288.3 1543.1,1294.1 1543.8,1291.9 1544.4,1294.8 1545.1,1293.2 1545.8,1296.0" stroke="#ec2227" stroke-width="6.8"/>
<path d="M228.47 317.72L240.27 334.72L228.47 351.72L216.67 334.72ZM289.32 636.75L301.12 653.75L289.32 670.75L277.52 653.75ZM350.17 1001.28L361.97 1018.28L350.17 1035.28L338.37 1018.28ZM411.02 1225.69L422.82 1242.69L411.02 1259.69L399.22 1242.69ZM471.86 1251.52L483.66 1268.52L471.86 1285.52L460.06 1268.52ZM532.71 1279.76L544.51 1296.76L532.71 1313.76L520.91 1296.76ZM593.56 1256.73L605.36 1273.73L593.56 1290.73L581.76 1273.73ZM654.41 1256.66L666.21 1273.66L654.41 1290.66L642.61 1273.66ZM715.25 1248.70L727.05 1265.70L715.25 1282.70L703.45 1265.70ZM776.10 1270.08L787.90 1287.08L776.10 1304.08L764.30 1287.08ZM836.95 1251.36L848.75 1268.36L836.95 1285.36L825.15 1268.36ZM897.80 1254.01L909.60 1271.01L897.80 1288.01L886.00 1271.01ZM958.64 1249.96L970.44 1266.96L958.64 1283.96L946.84 1266.96ZM1019.49 1250.08L1031.29 1267.08L1019.49 1284.08L1007.69 1267.08ZM1080.34 1261.94L1092.14 1278.94L1080.34 1295.94L1068.54 1278.94ZM1141.19 1262.03L1152.99 1279.03L1141.19 1296.03L1129.39 1279.03ZM1202.03 1256.63L1213.83 1273.63L1202.03 1290.63L1190.23 1273.63ZM1262.88 1249.88L1274.68 1266.88L1262.88 1283.88L1251.08 1266.88ZM1323.73 1263.22L1335.53 1280.22L1323.73 1297.22L1311.93 1280.22ZM1384.58 1236.26L1396.38 1253.26L1384.58 1270.26L1372.78 1253.26ZM1445.42 1257.88L1457.22 1274.88L1445.42 1291.88L1433.62 1274.88ZM1506.27 1259.22L1518.07 1276.22L1506.27 1293.22L1494.47 1276.22Z" stroke="#ec2227" stroke-width="6.2" stroke-linejoin="miter" stroke-miterlimit="10"/>
<polyline points="207.6,269.0 208.3,269.8 209.0,270.6 209.6,271.4 210.3,272.2 211.0,272.9 211.6,273.7 212.3,274.5 213.0,275.3 213.6,276.1 214.3,276.9 215.0,277.7 215.7,280.3 216.3,284.2 217.0,288.1 217.7,292.0 218.3,295.9 219.0,299.8 219.7,303.7 220.3,307.6 221.0,311.5 221.7,315.4 222.3,319.3 223.0,323.2 223.7,327.1 224.4,331.0 225.0,334.9 225.7,338.7 226.4,342.6 227.0,346.5 227.7,350.4 228.4,354.3 229.0,358.2 229.7,362.1 230.4,366.0 231.0,369.9 231.7,373.8 232.4,377.7 233.1,381.6 233.7,385.5 234.4,389.4 235.1,393.3 235.7,397.1 236.4,401.0 237.1,404.9 237.7,408.8 238.4,412.7 239.1,416.8 239.7,421.3 240.4,425.9 241.1,430.5 241.7,435.0 242.4,439.6 243.1,444.1 243.8,448.7 244.4,453.2 245.1,457.8 245.8,462.3 246.4,466.9 247.1,471.4 247.8,476.0 248.4,480.5 249.1,485.1 249.8,489.7 250.4,494.2 251.1,498.8 251.8,503.3 252.5,507.9 253.1,512.4 253.8,517.0 254.5,521.7 255.1,526.9 255.8,532.0 256.5,537.2 257.1,542.4 257.8,547.5 258.5,552.7 259.1,557.8 259.8,563.0 260.5,568.1 261.2,573.3 261.8,578.5 262.5,583.6 263.2,588.8 263.8,593.9 264.5,599.1 265.2,604.3 265.8,609.4 266.5,614.6 267.2,619.7 267.8,624.9 268.5,630.0 269.2,635.2 269.9,640.4 270.5,645.5 271.2,650.6 271.9,654.9 272.5,659.1 273.2,663.4 273.9,667.7 274.5,672.0 275.2,676.3 275.9,680.6 276.5,684.9 277.2,689.2 277.9,693.5 278.5,697.8 279.2,702.1 279.9,706.4 280.6,710.7 281.2,715.0 281.9,719.3 282.6,723.6 283.2,727.8 283.9,732.1 284.6,736.4 285.2,740.7 285.9,745.0 286.6,749.7 287.2,755.2 287.9,760.6 288.6,766.1 289.3,771.6 289.9,777.0 290.6,782.5 291.3,788.0 291.9,793.4 292.6,798.9 293.3,804.4 293.9,809.8 294.6,815.3 295.3,820.8 295.9,826.2 296.6,831.7 297.3,837.2 298.0,842.6 298.6,848.1 299.3,853.6 300.0,859.0 300.6,864.5 301.3,869.9 302.0,875.3 302.6,880.8 303.3,886.2 304.0,891.7 304.6,897.1 305.3,902.5 306.0,908.0 306.6,913.9 307.3,919.8 308.0,925.6 308.7,931.5 309.3,937.4 310.0,943.3 310.7,949.2 311.3,955.0 312.0,960.9 312.7,966.8 313.3,972.7 314.0,978.5 314.7,984.4 315.3,989.5 316.0,994.5 316.7,999.5 317.4,1004.5 318.0,1009.5 318.7,1014.4 319.4,1019.4 320.0,1024.4 320.7,1029.4 321.4,1034.4 322.0,1039.4 322.7,1044.4 323.4,1049.4 324.0,1054.4 324.7,1059.4 325.4,1064.4 326.1,1069.4 326.7,1074.3 327.4,1079.3 328.1,1084.1 328.7,1088.3 329.4,1092.5 330.1,1096.7 330.7,1100.9 331.4,1105.1 332.1,1109.3 332.7,1113.5 333.4,1117.7 334.1,1122.0 334.8,1125.4 335.4,1128.1 336.1,1130.9 336.8,1133.6 337.4,1136.3 338.1,1139.1 338.8,1141.8 339.4,1144.5 340.1,1147.3 340.8,1150.0 341.4,1152.7 342.1,1155.5 342.8,1158.2 343.4,1160.6 344.1,1162.2 344.8,1163.9 345.5,1165.6 346.1,1167.3 346.8,1169.0 347.5,1170.6 348.1,1172.3 348.8,1174.0 349.5,1175.7 350.1,1177.3 350.8,1179.3 351.5,1181.1 352.1,1182.7 352.8,1184.7 353.5,1186.3 354.2,1189.8 354.8,1191.0 355.5,1192.0 356.2,1192.2 356.8,1192.6 357.5,1198.0 358.2,1191.4 358.8,1198.5 359.5,1198.3 360.2,1199.1 360.8,1198.7 361.5,1199.2 362.2,1196.7 362.9,1195.0 363.5,1195.8 364.2,1190.9 364.9,1194.1 365.5,1193.3 366.2,1183.9 366.9,1187.6 367.5,1191.9 368.2,1193.0 368.9,1194.3 369.5,1196.5 370.2,1198.7 370.9,1200.2 371.5,1203.0 372.2,1200.3 372.9,1202.3 373.6,1197.7 374.2,1200.7 374.9,1198.5 375.6,1203.4 376.2,1204.9 376.9,1201.0 377.6,1196.8 378.2,1198.3 378.9,1197.7 379.6,1197.0 380.2,1197.7 380.9,1196.4 381.6,1188.6 382.3,1195.5 382.9,1191.2 383.6,1190.3 384.3,1193.5 384.9,1189.6 385.6,1187.1 386.3,1187.2 386.9,1190.4 387.6,1193.3 388.3,1196.4 388.9,1195.8 389.6,1198.5 390.3,1205.9 391.0,1205.2 391.6,1211.8 392.3,1211.5 393.0,1212.9 393.6,1212.4 394.3,1213.2 395.0,1210.8 395.6,1209.1 396.3,1208.7 397.0,1206.3 397.6,1207.0 398.3,1205.7 399.0,1204.5 399.6,1204.5 400.3,1204.7 401.0,1208.9 401.7,1206.1 402.3,1205.6 403.0,1206.8 403.7,1209.2 404.3,1208.1 405.0,1208.8 405.7,1209.1 406.3,1210.5 407.0,1211.5 407.7,1212.0 408.3,1208.2 409.0,1209.4 409.7,1206.2 410.4,1212.5 411.0,1212.6 411.7,1212.4 412.4,1209.5 413.0,1210.8 413.7,1208.0 414.4,1207.3 415.0,1204.0 415.7,1205.1 416.4,1205.2 417.0,1208.1 417.7,1209.7 418.4,1206.2 419.1,1208.6 419.7,1209.4 420.4,1208.5 421.1,1207.6 421.7,1210.3 422.4,1209.6 423.1,1212.2 423.7,1213.0 424.4,1213.3 425.1,1213.9 425.7,1215.7 426.4,1213.6 427.1,1217.7 427.8,1213.1 428.4,1216.7 429.1,1217.1 429.8,1214.2 430.4,1211.6 431.1,1214.4 431.8,1210.2 432.4,1211.3 433.1,1209.8 433.8,1207.1 434.4,1206.4 435.1,1208.1 435.8,1207.2 436.4,1205.2 437.1,1207.9 437.8,1209.2 438.5,1208.8 439.1,1208.7 439.8,1207.8 440.5,1207.4 441.1,1205.6 441.8,1204.6 442.5,1209.8 443.1,1206.9 443.8,1209.3 444.5,1206.7 445.1,1210.4 445.8,1208.7 446.5,1215.7 447.2,1207.4 447.8,1206.6 448.5,1209.3 449.2,1208.7 449.8,1201.8 450.5,1205.8 451.2,1206.7 451.8,1202.5 452.5,1206.1 453.2,1203.7 453.8,1202.7 454.5,1203.8 455.2,1203.5 455.9,1201.6 456.5,1208.6 457.2,1203.5 457.9,1203.2 458.5,1206.5 459.2,1205.1 459.9,1208.2 460.5,1205.6 461.2,1207.3 461.9,1207.2 462.5,1207.6 463.2,1206.7 463.9,1206.5 464.5,1209.0 465.2,1203.2 465.9,1202.0 466.6,1200.9 467.2,1201.2 467.9,1199.7 468.6,1199.9 469.2,1195.1 469.9,1198.1 470.6,1197.6 471.2,1198.0 471.9,1199.7 472.6,1196.6 473.2,1202.0 473.9,1202.9 474.6,1200.9 475.3,1204.5 475.9,1208.7 476.6,1205.9 477.3,1208.7 477.9,1207.9 478.6,1207.4 479.3,1207.6 479.9,1208.8 480.6,1212.0 481.3,1210.9 481.9,1207.7 482.6,1210.7 483.3,1208.3 484.0,1207.2 484.6,1209.4 485.3,1206.8 486.0,1205.4 486.6,1210.5 487.3,1203.8 488.0,1207.3 488.6,1202.3 489.3,1204.1 490.0,1202.9 490.6,1201.8 491.3,1198.3 492.0,1202.4 492.7,1203.0 493.3,1202.0 494.0,1204.4 494.7,1207.1 495.3,1204.5 496.0,1206.9 496.7,1204.5 497.3,1207.4 498.0,1207.7 498.7,1210.8 499.3,1207.1 500.0,1205.5 500.7,1206.6 501.3,1201.2 502.0,1204.5 502.7,1200.9 503.4,1200.3 504.0,1203.3 504.7,1201.4 505.4,1203.3 506.0,1197.7 506.7,1200.8 507.4,1199.0 508.0,1199.4 508.7,1196.3 509.4,1202.0 510.0,1201.4 510.7,1200.2 511.4,1201.0 512.1,1203.7 512.7,1210.0 513.4,1209.1 514.1,1210.4 514.7,1213.5 515.4,1213.7 516.1,1214.8 516.7,1216.0 517.4,1215.2 518.1,1215.7 518.7,1210.9 519.4,1212.0 520.1,1209.5 520.8,1208.5 521.4,1206.3 522.1,1203.4 522.8,1202.4 523.4,1204.0 524.1,1200.8 524.8,1199.9 525.4,1204.3 526.1,1206.3 526.8,1205.5 527.4,1207.8 528.1,1207.3 528.8,1209.5 529.4,1212.6 530.1,1212.4 530.8,1211.1 531.5,1210.1 532.1,1207.2 532.8,1210.4 533.5,1210.2 534.1,1210.8 534.8,1212.0 535.5,1208.4 536.1,1208.9 536.8,1204.7 537.5,1208.9 538.1,1208.2 538.8,1209.2 539.5,1207.9 540.2,1207.3 540.8,1208.8 541.5,1204.0 542.2,1205.5 542.8,1205.4 543.5,1201.1 544.2,1200.1 544.8,1203.4 545.5,1203.5 546.2,1205.6 546.8,1207.1 547.5,1206.0 548.2,1209.5 548.9,1212.2 549.5,1210.5 550.2,1211.5 550.9,1210.8 551.5,1215.3 552.2,1218.1 552.9,1212.3 553.5,1216.6 554.2,1216.6 554.9,1213.1 555.5,1212.1 556.2,1209.1 556.9,1207.5 557.5,1207.1 558.2,1206.0 558.9,1203.1 559.6,1203.0 560.2,1200.7 560.9,1197.6 561.6,1202.4 562.2,1202.2 562.9,1199.3 563.6,1204.8 564.2,1203.3 564.9,1203.6 565.6,1207.7 566.2,1199.9 566.9,1201.9 567.6,1206.4 568.3,1204.5 568.9,1203.1 569.6,1207.7 570.3,1205.9 570.9,1202.7 571.6,1204.1 572.3,1207.2 572.9,1209.2 573.6,1202.3 574.3,1207.0 574.9,1208.0 575.6,1207.4 576.3,1212.3 577.0,1211.3 577.6,1215.1 578.3,1221.0 579.0,1220.7 579.6,1223.2 580.3,1223.5 581.0,1220.7 581.6,1219.5 582.3,1213.3 583.0,1212.7 583.6,1213.0 584.3,1208.3 585.0,1207.4 585.7,1209.2 586.3,1209.8 587.0,1207.1 587.7,1208.0 588.3,1211.9 589.0,1212.5 589.7,1211.7 590.3,1214.9 591.0,1215.5 591.7,1215.1 592.3,1220.8 593.0,1217.9 593.7,1216.6 594.3,1216.4 595.0,1219.1 595.7,1214.3 596.4,1209.4 597.0,1209.9 597.7,1208.0 598.4,1205.6 599.0,1206.3 599.7,1205.9 600.4,1205.3 601.0,1204.9 601.7,1208.1 602.4,1204.2 603.0,1209.5 603.7,1208.5 604.4,1209.1 605.1,1204.0 605.7,1211.4 606.4,1204.7 607.1,1206.0 607.7,1208.7 608.4,1206.3 609.1,1207.0 609.7,1204.2 610.4,1208.8 611.1,1211.7 611.7,1214.5 612.4,1214.9 613.1,1217.8 613.8,1219.8 614.4,1218.6 615.1,1218.7 615.8,1223.2 616.4,1216.7 617.1,1219.0 617.8,1215.1 618.4,1216.1 619.1,1210.7 619.8,1212.0 620.4,1211.3 621.1,1210.4 621.8,1211.8 622.4,1210.4 623.1,1212.3 623.8,1212.3 624.5,1214.8 625.1,1213.3 625.8,1210.7 626.5,1212.2 627.1,1212.1 627.8,1209.9 628.5,1213.2 629.1,1210.5 629.8,1210.4 630.5,1206.6 631.1,1206.7 631.8,1209.0 632.5,1204.4 633.2,1208.1 633.8,1208.2 634.5,1207.9 635.2,1209.8 635.8,1208.3 636.5,1211.3 637.2,1208.7 637.8,1208.3 638.5,1212.8 639.2,1208.0 639.8,1204.3 640.5,1209.0 641.2,1204.5 641.9,1198.0 642.5,1203.3 643.2,1203.9 643.9,1201.6 644.5,1202.9 645.2,1198.3 645.9,1198.7 646.5,1194.9 647.2,1196.6 647.9,1199.1 648.5,1197.3 649.2,1197.0 649.9,1193.6 650.6,1197.3 651.2,1196.3 651.9,1200.9 652.6,1198.5 653.2,1200.8 653.9,1198.4 654.6,1203.9 655.2,1198.0 655.9,1200.6 656.6,1205.5 657.2,1201.2 657.9,1199.5 658.6,1202.8 659.2,1203.8 659.9,1203.8 660.6,1198.6 661.3,1202.9 661.9,1198.6 662.6,1206.6 663.3,1203.6 663.9,1203.2 664.6,1206.0 665.3,1206.2 665.9,1203.4 666.6,1208.8 667.3,1204.9 667.9,1201.6 668.6,1207.1 669.3,1206.9 670.0,1206.1 670.6,1204.7 671.3,1202.0 672.0,1205.6 672.6,1207.4 673.3,1205.2 674.0,1206.3 674.6,1201.2 675.3,1203.8 676.0,1202.6 676.6,1196.9 677.3,1195.4 678.0,1195.9 678.7,1196.2 679.3,1195.8 680.0,1193.6 680.7,1193.3 681.3,1193.0 682.0,1193.4 682.7,1194.6 683.3,1194.8 684.0,1194.2 684.7,1195.1 685.3,1193.8 686.0,1196.2 686.7,1193.5 687.3,1197.6 688.0,1194.5 688.7,1195.4 689.4,1194.1 690.0,1195.8 690.7,1197.8 691.4,1198.5 692.0,1198.1 692.7,1197.6 693.4,1200.1 694.0,1200.3 694.7,1200.7 695.4,1201.5 696.0,1197.8 696.7,1194.0 697.4,1196.9 698.1,1193.3 698.7,1194.3 699.4,1198.9 700.1,1198.5 700.7,1196.9 701.4,1197.7 702.1,1199.6 702.7,1197.2 703.4,1202.2 704.1,1201.0 704.7,1205.4 705.4,1199.8 706.1,1203.6 706.8,1200.1 707.4,1203.1 708.1,1199.0 708.8,1202.2 709.4,1199.9 710.1,1199.2 710.8,1200.6 711.4,1202.0 712.1,1201.9 712.8,1204.2 713.4,1202.6 714.1,1195.8 714.8,1199.8 715.4,1196.3 716.1,1198.8 716.8,1200.1 717.5,1195.6 718.1,1195.2 718.8,1197.0 719.5,1195.6 720.1,1198.7 720.8,1195.8 721.5,1195.9 722.1,1198.1 722.8,1193.7 723.5,1194.7 724.1,1193.0 724.8,1195.7 725.5,1197.6 726.2,1198.8 726.8,1196.8 727.5,1196.4 728.2,1197.4 728.8,1197.4 729.5,1201.6 730.2,1205.2 730.8,1198.9 731.5,1199.9 732.2,1207.1 732.8,1201.1 733.5,1204.4 734.2,1200.5 734.9,1203.3 735.5,1201.8 736.2,1198.9 736.9,1198.3 737.5,1194.9 738.2,1194.1 738.9,1195.0 739.5,1192.3 740.2,1188.2 740.9,1187.5 741.5,1188.7 742.2,1189.1 742.9,1190.3 743.6,1189.7 744.2,1192.9 744.9,1192.3 745.6,1193.4 746.2,1193.0 746.9,1194.3 747.6,1190.7 748.2,1196.0 748.9,1193.5 749.6,1193.7 750.2,1194.1 750.9,1195.3 751.6,1195.1 752.2,1194.7 752.9,1194.6 753.6,1192.5 754.3,1196.7 754.9,1196.2 755.6,1196.6 756.3,1201.9 756.9,1193.6 757.6,1197.0 758.3,1198.9 758.9,1197.9 759.6,1197.8 760.3,1192.3 760.9,1192.1 761.6,1194.3 762.3,1191.8 763.0,1195.0 763.6,1191.8 764.3,1191.6 765.0,1192.2 765.6,1191.3 766.3,1192.7 767.0,1191.9 767.6,1193.8 768.3,1193.5 769.0,1195.3 769.6,1192.2 770.3,1191.8 771.0,1195.3 771.7,1194.4 772.3,1191.8 773.0,1193.0 773.7,1191.5 774.3,1198.0 775.0,1191.8 775.7,1199.2 776.3,1195.6 777.0,1199.3 777.7,1199.1 778.3,1199.6 779.0,1202.4 779.7,1201.8 780.3,1198.7 781.0,1196.0 781.7,1200.0 782.4,1196.7 783.0,1192.3 783.7,1189.9 784.4,1189.9 785.0,1188.8 785.7,1190.7 786.4,1186.5 787.0,1188.8 787.7,1187.7 788.4,1192.1 789.0,1193.3 789.7,1189.8 790.4,1191.1 791.1,1192.8 791.7,1189.4 792.4,1188.1 793.1,1191.9 793.7,1191.0 794.4,1190.1 795.1,1194.0 795.7,1192.7 796.4,1190.1 797.1,1195.4 797.7,1195.6 798.4,1199.8 799.1,1195.9 799.8,1194.5 800.4,1194.2 801.1,1191.9 801.8,1186.7 802.4,1187.8 803.1,1185.4 803.8,1187.7 804.4,1189.1 805.1,1182.2 805.8,1182.7 806.4,1183.3 807.1,1184.2 807.8,1184.6 808.5,1186.5 809.1,1188.7 809.8,1184.2 810.5,1183.8 811.1,1183.2 811.8,1189.0 812.5,1189.6 813.1,1184.4 813.8,1184.6 814.5,1188.4 815.1,1190.7 815.8,1191.1 816.5,1190.0 817.1,1191.5 817.8,1191.5 818.5,1190.5 819.2,1196.0 819.8,1192.9 820.5,1191.2 821.2,1192.7 821.8,1190.7 822.5,1193.8 823.2,1195.9 823.8,1191.6 824.5,1196.7 825.2,1199.3 825.8,1196.9 826.5,1194.8 827.2,1196.1 827.9,1197.5 828.5,1195.5 829.2,1194.9 829.9,1195.6 830.5,1194.2 831.2,1193.8 831.9,1188.3 832.5,1192.4 833.2,1189.2 833.9,1187.6 834.5,1183.9 835.2,1188.4 835.9,1184.7 836.6,1189.7 837.2,1189.5 837.9,1187.1 838.6,1189.4 839.2,1195.3 839.9,1194.9 840.6,1193.8 841.2,1195.4 841.9,1196.3 842.6,1195.2 843.2,1197.0 843.9,1196.8 844.6,1197.9 845.2,1200.2 845.9,1197.9 846.6,1201.5 847.3,1200.5 847.9,1201.7 848.6,1201.8 849.3,1202.3 849.9,1200.9 850.6,1201.1 851.3,1199.7 851.9,1201.7 852.6,1199.8 853.3,1202.2 853.9,1205.3 854.6,1204.6 855.3,1205.9 856.0,1202.7 856.6,1206.3 857.3,1200.7 858.0,1200.3 858.6,1196.8 859.3,1196.1 860.0,1191.2 860.6,1188.1 861.3,1185.0 862.0,1187.3 862.6,1185.4 863.3,1189.1 864.0,1191.6 864.7,1185.7 865.3,1188.9 866.0,1193.6 866.7,1197.1 867.3,1196.9 868.0,1198.3 868.7,1199.7 869.3,1200.5 870.0,1202.8 870.7,1200.4 871.3,1196.0 872.0,1197.4 872.7,1198.9 873.3,1197.1 874.0,1198.6 874.7,1199.0 875.4,1200.1 876.0,1204.8 876.7,1204.8 877.4,1203.1 878.0,1203.4 878.7,1204.3 879.4,1207.4 880.0,1202.7 880.7,1203.7 881.4,1200.5 882.0,1194.9 882.7,1200.4 883.4,1198.6 884.1,1198.3 884.7,1199.3 885.4,1205.2 886.1,1198.7 886.7,1200.7 887.4,1204.3 888.1,1203.7 888.7,1199.7 889.4,1203.8 890.1,1204.1 890.7,1205.8 891.4,1208.4 892.1,1206.3 892.8,1206.9 893.4,1210.0 894.1,1202.9 894.8,1204.8 895.4,1205.3 896.1,1200.9 896.8,1201.2 897.4,1199.1 898.1,1201.3 898.8,1199.2 899.4,1201.3 900.1,1201.1 900.8,1198.5 901.5,1196.9 902.1,1197.5 902.8,1196.5 903.5,1193.6 904.1,1197.9 904.8,1196.3 905.5,1197.6 906.1,1193.8 906.8,1198.5 907.5,1201.2 908.1,1198.5 908.8,1194.4 909.5,1197.2 910.1,1196.9 910.8,1197.5 911.5,1196.8 912.2,1198.7 912.8,1197.4 913.5,1199.5 914.2,1198.4 914.8,1200.6 915.5,1202.7 916.2,1200.0 916.8,1202.2 917.5,1198.9 918.2,1199.3 918.8,1198.8 919.5,1200.7 920.2,1195.7 920.9,1198.6 921.5,1192.4 922.2,1194.2 922.9,1195.7 923.5,1194.8 924.2,1191.1 924.9,1190.2 925.5,1193.8 926.2,1189.0 926.9,1191.8 927.5,1188.8 928.2,1188.9 928.9,1192.4 929.6,1189.9 930.2,1187.5 930.9,1182.3 931.6,1185.1 932.2,1184.4 932.9,1184.5 933.6,1188.2 934.2,1183.6 934.9,1189.2 935.6,1190.5 936.2,1190.5 936.9,1197.0 937.6,1192.6 938.2,1196.4 938.9,1197.5 939.6,1193.9 940.3,1196.0 940.9,1197.2 941.6,1200.5 942.3,1200.4 942.9,1199.0 943.6,1197.2 944.3,1191.1 944.9,1194.3 945.6,1191.2 946.3,1192.8 946.9,1191.6 947.6,1191.8 948.3,1187.5 949.0,1186.6 949.6,1182.0 950.3,1183.4 951.0,1180.2 951.6,1183.8 952.3,1179.3 953.0,1181.0 953.6,1179.9 954.3,1180.8 955.0,1183.3 955.6,1182.3 956.3,1185.2 957.0,1184.5 957.7,1191.2 958.3,1189.2 959.0,1194.4 959.7,1198.2 960.3,1190.6 961.0,1194.3 961.7,1196.3 962.3,1199.0 963.0,1195.5 963.7,1196.8 964.3,1194.0 965.0,1195.9 965.7,1191.7 966.4,1195.2 967.0,1187.2 967.7,1189.0 968.4,1196.1 969.0,1192.7 969.7,1190.8 970.4,1197.0 971.0,1194.6 971.7,1194.3 972.4,1190.6 973.0,1191.8 973.7,1190.7 974.4,1185.8 975.0,1189.7 975.7,1188.1 976.4,1191.3 977.1,1191.9 977.7,1188.8 978.4,1189.7 979.1,1192.0 979.7,1193.5 980.4,1191.9 981.1,1192.9 981.7,1194.9 982.4,1195.2 983.1,1197.4 983.7,1196.6 984.4,1195.4 985.1,1194.7 985.8,1200.6 986.4,1199.0 987.1,1199.4 987.8,1199.7 988.4,1197.1 989.1,1199.2 989.8,1194.5 990.4,1198.4 991.1,1196.9 991.8,1201.7 992.4,1198.2 993.1,1196.1 993.8,1196.0 994.5,1196.2 995.1,1192.5 995.8,1192.9 996.5,1192.2 997.1,1197.5 997.8,1192.6 998.5,1188.6 999.1,1194.0 999.8,1197.4 1000.5,1190.1 1001.1,1198.5 1001.8,1191.0 1002.5,1192.7 1003.1,1189.2 1003.8,1189.5 1004.5,1187.5 1005.2,1187.9 1005.8,1185.8 1006.5,1192.6 1007.2,1188.5 1007.8,1192.0 1008.5,1192.5 1009.2,1191.2 1009.8,1193.3 1010.5,1193.6 1011.2,1193.4 1011.8,1195.0 1012.5,1195.5 1013.2,1193.9 1013.9,1194.0 1014.5,1195.7 1015.2,1198.6 1015.9,1202.3 1016.5,1203.8 1017.2,1202.9 1017.9,1205.3 1018.5,1204.5 1019.2,1206.9 1019.9,1204.6 1020.5,1204.2 1021.2,1201.3 1021.9,1199.9 1022.6,1201.5 1023.2,1193.3 1023.9,1194.0 1024.6,1191.9 1025.2,1194.9 1025.9,1197.3 1026.6,1194.5 1027.2,1191.5 1027.9,1200.5 1028.6,1202.8 1029.2,1200.2 1029.9,1204.7 1030.6,1206.1 1031.2,1202.1 1031.9,1208.3 1032.6,1207.9 1033.3,1207.5 1033.9,1205.1 1034.6,1206.2 1035.3,1207.1 1035.9,1210.3 1036.6,1208.4 1037.3,1214.2 1037.9,1212.5 1038.6,1207.4 1039.3,1214.7 1039.9,1210.6 1040.6,1207.7 1041.3,1207.3 1042.0,1201.6 1042.6,1204.1 1043.3,1197.7 1044.0,1200.0 1044.6,1204.9 1045.3,1205.4 1046.0,1203.3 1046.6,1203.5 1047.3,1208.7 1048.0,1208.0 1048.6,1209.3 1049.3,1210.5 1050.0,1207.0 1050.7,1210.4 1051.3,1203.9 1052.0,1210.4 1052.7,1203.6 1053.3,1204.8 1054.0,1204.0 1054.7,1206.1 1055.3,1205.4 1056.0,1203.9 1056.7,1203.5 1057.3,1202.7 1058.0,1201.0 1058.7,1196.9 1059.4,1195.8 1060.0,1195.7 1060.7,1200.4 1061.4,1200.4 1062.0,1201.1 1062.7,1202.8 1063.4,1203.0 1064.0,1203.0 1064.7,1203.7 1065.4,1204.8 1066.0,1213.0 1066.7,1214.4 1067.4,1211.7 1068.0,1215.7 1068.7,1218.8 1069.4,1222.6 1070.1,1219.5 1070.7,1222.4 1071.4,1225.5 1072.1,1220.6 1072.7,1223.5 1073.4,1225.5 1074.1,1224.6 1074.7,1230.6 1075.4,1228.2 1076.1,1226.8 1076.7,1224.1 1077.4,1227.3 1078.1,1226.1 1078.8,1223.0 1079.4,1222.2 1080.1,1218.9 1080.8,1220.4 1081.4,1220.9 1082.1,1219.5 1082.8,1217.0 1083.4,1215.8 1084.1,1211.3 1084.8,1210.2 1085.4,1212.5 1086.1,1210.2 1086.8,1207.2 1087.5,1209.7 1088.1,1210.4 1088.8,1210.3 1089.5,1209.3 1090.1,1208.2 1090.8,1210.1 1091.5,1212.4 1092.1,1208.9 1092.8,1206.8 1093.5,1208.3 1094.1,1204.9 1094.8,1207.8 1095.5,1207.0 1096.1,1210.1 1096.8,1209.3 1097.5,1212.3 1098.2,1215.9 1098.8,1211.9 1099.5,1211.6 1100.2,1215.0 1100.8,1214.4 1101.5,1215.1 1102.2,1213.7 1102.8,1216.0 1103.5,1214.7 1104.2,1209.7 1104.8,1212.9 1105.5,1213.1 1106.2,1213.7 1106.9,1209.0 1107.5,1207.2 1108.2,1209.7 1108.9,1204.7 1109.5,1204.9 1110.2,1204.6 1110.9,1204.5 1111.5,1203.0 1112.2,1201.1 1112.9,1206.2 1113.5,1204.4 1114.2,1205.4 1114.9,1211.6 1115.6,1210.2 1116.2,1206.8 1116.9,1208.1 1117.6,1208.5 1118.2,1207.1 1118.9,1204.4 1119.6,1209.6 1120.2,1209.5 1120.9,1208.6 1121.6,1207.6 1122.2,1209.3 1122.9,1210.5 1123.6,1207.2 1124.2,1208.5 1124.9,1207.5 1125.6,1209.3 1126.3,1207.7 1126.9,1203.8 1127.6,1204.7 1128.3,1209.3 1128.9,1203.9 1129.6,1206.4 1130.3,1205.4 1130.9,1209.7 1131.6,1207.6 1132.3,1207.1 1132.9,1205.8 1133.6,1207.5 1134.3,1209.4 1135.0,1208.9 1135.6,1204.7 1136.3,1210.6 1137.0,1207.3 1137.6,1206.2 1138.3,1209.3 1139.0,1208.5 1139.6,1209.3 1140.3,1209.8 1141.0,1211.2 1141.6,1210.4 1142.3,1207.7 1143.0,1211.5 1143.7,1208.4 1144.3,1210.5 1145.0,1207.6 1145.7,1206.4 1146.3,1204.5 1147.0,1206.2 1147.7,1203.1 1148.3,1202.6 1149.0,1206.8 1149.7,1202.5 1150.3,1209.3 1151.0,1212.4 1151.7,1212.9 1152.4,1217.6 1153.0,1217.3 1153.7,1216.3 1154.4,1214.7 1155.0,1216.7 1155.7,1211.7 1156.4,1210.6 1157.0,1211.3 1157.7,1209.6 1158.4,1211.3 1159.0,1206.2 1159.7,1202.8 1160.4,1208.2 1161.0,1210.1 1161.7,1208.3 1162.4,1212.7 1163.1,1214.0 1163.7,1209.7 1164.4,1210.3 1165.1,1208.6 1165.7,1211.7 1166.4,1211.5 1167.1,1210.7 1167.7,1206.7 1168.4,1207.7 1169.1,1206.7 1169.7,1206.9 1170.4,1208.3 1171.1,1208.6 1171.8,1212.1 1172.4,1213.7 1173.1,1214.2 1173.8,1212.7 1174.4,1210.9 1175.1,1211.5 1175.8,1212.0 1176.4,1209.7 1177.1,1210.1 1177.8,1209.5 1178.4,1209.8 1179.1,1212.0 1179.8,1211.3 1180.5,1217.6 1181.1,1214.3 1181.8,1220.0 1182.5,1217.7 1183.1,1224.1 1183.8,1222.8 1184.5,1218.7 1185.1,1218.1 1185.8,1215.0 1186.5,1215.0 1187.1,1213.9 1187.8,1216.3 1188.5,1206.9 1189.1,1211.1 1189.8,1207.0 1190.5,1208.8 1191.2,1210.6 1191.8,1210.8 1192.5,1211.6 1193.2,1211.3 1193.8,1212.6 1194.5,1213.7 1195.2,1216.5 1195.8,1211.9 1196.5,1214.6 1197.2,1213.8 1197.8,1215.0 1198.5,1215.8 1199.2,1219.7 1199.9,1221.5 1200.5,1219.3 1201.2,1213.3 1201.9,1214.6 1202.5,1211.0 1203.2,1212.9 1203.9,1213.3 1204.5,1210.9 1205.2,1210.5 1205.9,1207.7 1206.5,1203.5 1207.2,1203.2 1207.9,1206.8 1208.6,1208.4 1209.2,1210.1 1209.9,1207.5 1210.6,1209.0 1211.2,1210.2 1211.9,1212.7 1212.6,1211.2 1213.2,1209.8 1213.9,1214.7 1214.6,1214.1 1215.2,1214.7 1215.9,1212.1 1216.6,1215.3 1217.3,1212.5 1217.9,1212.6 1218.6,1216.7 1219.3,1216.8 1219.9,1219.1 1220.6,1221.1 1221.3,1218.2 1221.9,1221.7 1222.6,1216.5 1223.3,1218.5 1223.9,1213.6 1224.6,1215.3 1225.3,1213.5 1225.9,1213.0 1226.6,1214.2 1227.3,1209.2 1228.0,1213.5 1228.6,1212.2 1229.3,1214.6 1230.0,1215.6 1230.6,1214.4 1231.3,1214.7 1232.0,1213.4 1232.6,1217.2 1233.3,1215.4 1234.0,1218.6 1234.6,1216.2 1235.3,1223.3 1236.0,1220.2 1236.7,1226.1 1237.3,1224.2 1238.0,1227.0 1238.7,1225.9 1239.3,1227.2 1240.0,1224.9 1240.7,1226.0 1241.3,1223.0 1242.0,1221.0 1242.7,1220.8 1243.3,1214.1 1244.0,1216.2 1244.7,1212.1 1245.4,1207.8 1246.0,1210.8 1246.7,1209.1 1247.4,1212.9 1248.0,1209.1 1248.7,1211.0 1249.4,1212.6 1250.0,1209.8 1250.7,1216.0 1251.4,1214.3 1252.0,1220.2 1252.7,1221.5 1253.4,1218.5 1254.0,1215.4 1254.7,1218.5 1255.4,1218.0 1256.1,1218.5 1256.7,1216.0 1257.4,1214.0 1258.1,1216.3 1258.7,1215.3 1259.4,1221.4 1260.1,1217.4 1260.7,1218.3 1261.4,1220.1 1262.1,1217.8 1262.7,1218.9 1263.4,1218.6 1264.1,1216.5 1264.8,1215.4 1265.4,1216.8 1266.1,1213.8 1266.8,1209.1 1267.4,1210.1 1268.1,1211.9 1268.8,1208.8 1269.4,1210.1 1270.1,1209.6 1270.8,1210.3 1271.4,1208.2 1272.1,1207.4 1272.8,1205.0 1273.5,1206.3 1274.1,1203.0 1274.8,1207.6 1275.5,1203.7 1276.1,1203.3 1276.8,1205.5 1277.5,1204.3 1278.1,1205.3 1278.8,1205.8 1279.5,1205.3 1280.1,1205.6 1280.8,1206.7 1281.5,1210.7 1282.2,1207.5 1282.8,1207.9 1283.5,1207.5 1284.2,1209.2 1284.8,1211.0 1285.5,1204.3 1286.2,1206.3 1286.8,1204.7 1287.5,1203.4 1288.2,1205.1 1288.8,1202.3 1289.5,1207.8 1290.2,1208.4 1290.8,1208.0 1291.5,1215.1 1292.2,1215.2 1292.9,1216.7 1293.5,1211.5 1294.2,1213.0 1294.9,1210.9 1295.5,1211.3 1296.2,1210.9 1296.9,1202.9 1297.5,1205.7 1298.2,1205.0 1298.9,1207.3 1299.5,1205.7 1300.2,1204.0 1300.9,1206.9 1301.6,1206.0 1302.2,1207.2 1302.9,1209.5 1303.6,1209.4 1304.2,1211.9 1304.9,1209.6 1305.6,1218.5 1306.2,1217.7 1306.9,1217.8 1307.6,1214.7 1308.2,1213.5 1308.9,1216.2 1309.6,1217.2 1310.3,1221.7 1310.9,1219.1 1311.6,1214.6 1312.3,1216.8 1312.9,1215.4 1313.6,1211.2 1314.3,1211.6 1314.9,1207.9 1315.6,1204.3 1316.3,1202.0 1316.9,1203.5 1317.6,1205.7 1318.3,1201.6 1318.9,1202.2 1319.6,1208.0 1320.3,1203.3 1321.0,1214.1 1321.6,1211.5 1322.3,1215.6 1323.0,1219.5 1323.6,1214.3 1324.3,1216.2 1325.0,1223.4 1325.6,1218.6 1326.3,1218.8 1327.0,1219.1 1327.6,1219.9 1328.3,1219.5 1329.0,1216.1 1329.7,1214.4 1330.3,1214.5 1331.0,1215.0 1331.7,1217.2 1332.3,1215.5 1333.0,1219.7 1333.7,1215.4 1334.3,1218.9 1335.0,1221.5 1335.7,1220.3 1336.3,1217.5 1337.0,1213.7 1337.7,1212.2 1338.4,1211.2 1339.0,1210.1 1339.7,1207.1 1340.4,1203.2 1341.0,1203.6 1341.7,1205.6 1342.4,1206.2 1343.0,1201.9 1343.7,1204.0 1344.4,1201.4 1345.0,1203.3 1345.7,1210.8 1346.4,1203.1 1347.0,1201.4 1347.7,1200.1 1348.4,1198.3 1349.1,1196.8 1349.7,1200.5 1350.4,1200.5 1351.1,1204.8 1351.7,1199.6 1352.4,1204.8 1353.1,1207.7 1353.7,1202.4 1354.4,1208.8 1355.1,1205.4 1355.7,1210.5 1356.4,1213.0 1357.1,1210.3 1357.8,1210.7 1358.4,1208.2 1359.1,1209.2 1359.8,1209.7 1360.4,1205.7 1361.1,1204.2 1361.8,1203.8 1362.4,1203.2 1363.1,1197.0 1363.8,1199.3 1364.4,1197.1 1365.1,1199.0 1365.8,1200.0 1366.5,1198.6 1367.1,1200.8 1367.8,1196.6 1368.5,1197.9 1369.1,1196.8 1369.8,1198.8 1370.5,1198.7 1371.1,1197.9 1371.8,1195.7 1372.5,1197.7 1373.1,1196.8 1373.8,1198.6 1374.5,1196.6 1375.2,1199.0 1375.8,1196.4 1376.5,1191.3 1377.2,1193.4 1377.8,1189.5 1378.5,1192.6 1379.2,1191.9 1379.8,1187.7 1380.5,1187.7 1381.2,1183.7 1381.8,1182.6 1382.5,1187.2 1383.2,1189.9 1383.8,1189.9 1384.5,1196.0 1385.2,1199.4 1385.9,1202.9 1386.5,1207.3 1387.2,1208.2 1387.9,1207.8 1388.5,1210.1 1389.2,1212.0 1389.9,1208.9 1390.5,1213.2 1391.2,1211.2 1391.9,1207.2 1392.5,1204.1 1393.2,1210.2 1393.9,1201.5 1394.6,1198.6 1395.2,1197.6 1395.9,1193.7 1396.6,1190.2 1397.2,1189.7 1397.9,1185.4 1398.6,1187.8 1399.2,1183.0 1399.9,1186.7 1400.6,1187.0 1401.2,1183.1 1401.9,1190.4 1402.6,1185.0 1403.3,1190.1 1403.9,1187.8 1404.6,1190.3 1405.3,1189.1 1405.9,1195.8 1406.6,1193.0 1407.3,1194.4 1407.9,1192.0 1408.6,1191.6 1409.3,1190.5 1409.9,1190.2 1410.6,1192.9 1411.3,1193.7 1411.9,1195.4 1412.6,1195.5 1413.3,1200.1 1414.0,1204.2 1414.6,1203.9 1415.3,1206.5 1416.0,1205.9 1416.6,1203.7 1417.3,1203.0 1418.0,1202.0 1418.6,1201.5 1419.3,1200.2 1420.0,1202.0 1420.6,1197.3 1421.3,1195.7 1422.0,1202.2 1422.7,1201.6 1423.3,1204.3 1424.0,1211.8 1424.7,1211.8 1425.3,1211.9 1426.0,1214.0 1426.7,1213.3 1427.3,1215.4 1428.0,1212.4 1428.7,1212.0 1429.3,1212.1 1430.0,1215.6 1430.7,1214.8 1431.4,1209.6 1432.0,1212.0 1432.7,1208.2 1433.4,1209.4 1434.0,1205.2 1434.7,1206.2 1435.4,1202.6 1436.0,1200.8 1436.7,1200.2 1437.4,1199.8 1438.0,1198.0 1438.7,1196.8 1439.4,1203.7 1440.1,1201.1 1440.7,1200.3 1441.4,1201.8 1442.1,1203.4 1442.7,1210.6 1443.4,1217.3 1444.1,1214.0 1444.7,1219.0 1445.4,1218.0 1446.1,1225.3 1446.7,1224.8 1447.4,1225.1 1448.1,1226.9 1448.7,1226.8 1449.4,1224.3 1450.1,1219.7 1450.8,1216.7 1451.4,1215.8 1452.1,1213.2 1452.8,1219.4 1453.4,1214.8 1454.1,1215.0 1454.8,1214.9 1455.4,1218.5 1456.1,1213.3 1456.8,1216.5 1457.4,1214.3 1458.1,1212.9 1458.8,1208.8 1459.5,1213.6 1460.1,1209.5 1460.8,1209.2 1461.5,1209.7 1462.1,1208.7 1462.8,1209.9 1463.5,1205.5 1464.1,1206.4 1464.8,1205.9 1465.5,1204.9 1466.1,1206.1 1466.8,1204.5 1467.5,1208.1 1468.2,1205.4 1468.8,1205.3 1469.5,1209.4 1470.2,1213.1 1470.8,1210.7 1471.5,1211.2 1472.2,1212.0 1472.8,1212.9 1473.5,1211.7 1474.2,1211.9 1474.8,1206.9 1475.5,1212.3 1476.2,1209.5 1476.8,1205.8 1477.5,1209.7 1478.2,1207.8 1478.9,1210.1 1479.5,1205.7 1480.2,1212.7 1480.9,1211.2 1481.5,1209.0 1482.2,1216.7 1482.9,1216.7 1483.5,1217.1 1484.2,1220.2 1484.9,1217.8 1485.5,1223.6 1486.2,1222.4 1486.9,1222.4 1487.6,1225.5 1488.2,1222.3 1488.9,1220.1 1489.6,1218.5 1490.2,1219.0 1490.9,1220.0 1491.6,1215.6 1492.2,1214.0 1492.9,1217.6 1493.6,1216.2 1494.2,1216.6 1494.9,1221.6 1495.6,1215.7 1496.3,1218.8 1496.9,1214.6 1497.6,1216.7 1498.3,1217.2 1498.9,1216.6 1499.6,1210.0 1500.3,1212.5 1500.9,1211.1 1501.6,1208.3 1502.3,1213.1 1502.9,1208.4 1503.6,1207.4 1504.3,1211.5 1504.9,1208.8 1505.6,1217.8 1506.3,1218.9 1507.0,1218.2 1507.6,1222.0 1508.3,1223.1 1509.0,1226.6 1509.6,1221.9 1510.3,1220.7 1511.0,1219.1 1511.6,1222.2 1512.3,1219.2 1513.0,1221.2 1513.6,1221.4 1514.3,1218.3 1515.0,1215.6 1515.7,1218.0 1516.3,1213.3 1517.0,1212.5 1517.7,1212.7 1518.3,1207.5 1519.0,1208.0 1519.7,1215.1 1520.3,1210.8 1521.0,1210.4 1521.7,1213.9 1522.3,1215.4 1523.0,1216.5 1523.7,1220.6 1524.4,1223.7 1525.0,1225.7 1525.7,1228.2 1526.4,1224.5 1527.0,1224.9 1527.7,1228.7 1528.4,1224.8 1529.0,1226.1 1529.7,1222.2 1530.4,1216.6 1531.0,1218.6 1531.7,1214.0 1532.4,1215.5 1533.1,1216.7 1533.7,1218.2 1534.4,1213.8 1535.1,1215.5 1535.7,1214.8 1536.4,1215.8 1537.1,1209.2 1537.7,1213.6 1538.4,1215.1 1539.1,1215.9 1539.7,1214.4 1540.4,1219.0 1541.1,1221.4 1541.7,1221.6 1542.4,1223.5 1543.1,1225.7 1543.8,1228.9 1544.4,1232.8 1545.1,1234.9 1545.8,1232.0" stroke="#6abd45" stroke-width="6.8"/>
<path d="M227.10 415.73a11.8 11.8 0 1 0 23.60 0a11.8 11.8 0 1 0 -23.60 0ZM287.95 857.29a11.8 11.8 0 1 0 23.60 0a11.8 11.8 0 1 0 -23.60 0ZM348.79 1198.86a11.8 11.8 0 1 0 23.60 0a11.8 11.8 0 1 0 -23.60 0ZM409.64 1209.15a11.8 11.8 0 1 0 23.60 0a11.8 11.8 0 1 0 -23.60 0ZM470.49 1209.20a11.8 11.8 0 1 0 23.60 0a11.8 11.8 0 1 0 -23.60 0ZM531.34 1203.42a11.8 11.8 0 1 0 23.60 0a11.8 11.8 0 1 0 -23.60 0ZM592.18 1208.74a11.8 11.8 0 1 0 23.60 0a11.8 11.8 0 1 0 -23.60 0ZM653.03 1206.04a11.8 11.8 0 1 0 23.60 0a11.8 11.8 0 1 0 -23.60 0ZM713.88 1197.97a11.8 11.8 0 1 0 23.60 0a11.8 11.8 0 1 0 -23.60 0ZM774.73 1187.04a11.8 11.8 0 1 0 23.60 0a11.8 11.8 0 1 0 -23.60 0ZM835.57 1200.69a11.8 11.8 0 1 0 23.60 0a11.8 11.8 0 1 0 -23.60 0ZM896.42 1197.98a11.8 11.8 0 1 0 23.60 0a11.8 11.8 0 1 0 -23.60 0ZM957.27 1192.62a11.8 11.8 0 1 0 23.60 0a11.8 11.8 0 1 0 -23.60 0ZM1018.12 1204.70a11.8 11.8 0 1 0 23.60 0a11.8 11.8 0 1 0 -23.60 0ZM1078.96 1209.99a11.8 11.8 0 1 0 23.60 0a11.8 11.8 0 1 0 -23.60 0ZM1139.81 1212.82a11.8 11.8 0 1 0 23.60 0a11.8 11.8 0 1 0 -23.60 0ZM1200.66 1211.46a11.8 11.8 0 1 0 23.60 0a11.8 11.8 0 1 0 -23.60 0ZM1261.51 1206.03a11.8 11.8 0 1 0 23.60 0a11.8 11.8 0 1 0 -23.60 0ZM1322.35 1217.94a11.8 11.8 0 1 0 23.60 0a11.8 11.8 0 1 0 -23.60 0ZM1383.20 1197.91a11.8 11.8 0 1 0 23.60 0a11.8 11.8 0 1 0 -23.60 0ZM1444.05 1215.33a11.8 11.8 0 1 0 23.60 0a11.8 11.8 0 1 0 -23.60 0ZM1504.89 1212.82a11.8 11.8 0 1 0 23.60 0a11.8 11.8 0 1 0 -23.60 0Z" stroke="#6abd45" stroke-width="6.2" stroke-linejoin="miter" stroke-miterlimit="10"/>
<polyline points="207.6,268.0 208.3,268.7 209.0,269.5 209.6,270.2 210.3,271.0 211.0,271.7 211.6,272.5 212.3,273.2 213.0,274.0 213.6,274.7 214.3,275.5 215.0,276.2 215.7,277.0 216.3,281.9 217.0,286.9 217.7,291.9 218.3,297.0 219.0,302.0 219.7,307.0 220.3,312.1 221.0,317.1 221.7,322.1 222.3,327.2 223.0,332.2 223.7,337.2 224.4,342.3 225.0,347.3 225.7,352.3 226.4,357.4 227.0,362.4 227.7,367.4 228.4,372.5 229.0,377.5 229.7,382.5 230.4,387.6 231.0,392.6 231.7,397.6 232.4,402.7 233.1,407.7 233.7,412.7 234.4,417.8 235.1,422.8 235.7,427.8 236.4,434.6 237.1,442.8 237.7,451.0 238.4,459.2 239.1,467.4 239.7,475.5 240.4,483.7 241.1,491.9 241.7,500.1 242.4,508.2 243.1,516.4 243.8,524.6 244.4,532.8 245.1,541.0 245.8,549.1 246.4,556.1 247.1,561.1 247.8,566.1 248.4,571.0 249.1,576.0 249.8,581.0 250.4,586.0 251.1,590.9 251.8,595.9 252.5,600.9 253.1,605.8 253.8,610.8 254.5,615.8 255.1,620.8 255.8,625.7 256.5,630.7 257.1,635.7 257.8,640.6 258.5,645.6 259.1,650.7 259.8,657.1 260.5,663.4 261.2,669.7 261.8,676.0 262.5,682.4 263.2,688.7 263.8,695.0 264.5,701.3 265.2,707.7 265.8,714.0 266.5,720.3 267.2,726.6 267.8,732.9 268.5,739.3 269.2,745.6 269.9,751.9 270.5,758.2 271.2,764.6 271.9,770.9 272.5,777.2 273.2,783.5 273.9,789.9 274.5,796.2 275.2,802.5 275.9,809.9 276.5,817.8 277.2,825.7 277.9,833.6 278.5,841.5 279.2,849.4 279.9,857.3 280.6,865.2 281.2,873.1 281.9,880.9 282.6,888.8 283.2,896.7 283.9,904.6 284.6,912.6 285.2,920.5 285.9,928.4 286.6,936.4 287.2,944.3 287.9,952.2 288.6,960.2 289.3,968.1 289.9,976.0 290.6,984.0 291.3,990.7 291.9,997.2 292.6,1003.7 293.3,1010.3 293.9,1016.8 294.6,1023.3 295.3,1029.9 295.9,1036.4 296.6,1042.9 297.3,1049.4 298.0,1054.2 298.6,1058.9 299.3,1063.6 300.0,1068.1 300.6,1072.4 301.3,1076.8 302.0,1081.2 302.6,1085.5 303.3,1089.2 304.0,1092.4 304.6,1095.7 305.3,1099.5 306.0,1102.1 306.6,1105.2 307.3,1104.2 308.0,1103.2 308.7,1105.1 309.3,1099.8 310.0,1102.7 310.7,1100.6 311.3,1097.9 312.0,1096.0 312.7,1100.4 313.3,1098.1 314.0,1098.6 314.7,1097.0 315.3,1103.3 316.0,1101.4 316.7,1101.6 317.4,1102.6 318.0,1102.5 318.7,1102.4 319.4,1103.5 320.0,1102.2 320.7,1098.0 321.4,1105.3 322.0,1105.3 322.7,1105.3 323.4,1109.5 324.0,1104.4 324.7,1102.2 325.4,1111.8 326.1,1110.0 326.7,1106.0 327.4,1108.4 328.1,1110.3 328.7,1106.2 329.4,1109.4 330.1,1112.3 330.7,1110.7 331.4,1107.9 332.1,1108.9 332.7,1106.9 333.4,1109.9 334.1,1109.9 334.8,1109.6 335.4,1109.9 336.1,1117.4 336.8,1114.3 337.4,1112.4 338.1,1113.5 338.8,1117.0 339.4,1116.7 340.1,1111.4 340.8,1112.5 341.4,1113.6 342.1,1111.3 342.8,1110.2 343.4,1111.7 344.1,1115.0 344.8,1114.8 345.5,1115.0 346.1,1117.9 346.8,1120.4 347.5,1119.4 348.1,1116.5 348.8,1119.5 349.5,1112.5 350.1,1112.6 350.8,1108.9 351.5,1112.6 352.1,1110.5 352.8,1107.4 353.5,1109.4 354.2,1115.1 354.8,1113.3 355.5,1112.3 356.2,1114.0 356.8,1108.9 357.5,1110.3 358.2,1109.0 358.8,1109.7 359.5,1110.3 360.2,1111.9 360.8,1112.8 361.5,1112.9 362.2,1116.7 362.9,1110.8 363.5,1112.5 364.2,1114.3 364.9,1112.3 365.5,1114.0 366.2,1115.9 366.9,1113.5 367.5,1116.4 368.2,1117.8 368.9,1112.8 369.5,1110.1 370.2,1114.3 370.9,1111.4 371.5,1113.1 372.2,1111.1 372.9,1111.9 373.6,1113.0 374.2,1112.0 374.9,1109.4 375.6,1107.7 376.2,1105.0 376.9,1105.7 377.6,1108.4 378.2,1109.9 378.9,1107.8 379.6,1107.1 380.2,1103.9 380.9,1102.4 381.6,1100.8 382.3,1104.3 382.9,1098.2 383.6,1103.3 384.3,1100.5 384.9,1104.4 385.6,1105.3 386.3,1108.0 386.9,1110.6 387.6,1107.9 388.3,1108.5 388.9,1109.9 389.6,1109.1 390.3,1111.4 391.0,1109.1 391.6,1108.6 392.3,1108.8 393.0,1106.8 393.6,1110.3 394.3,1105.0 395.0,1110.2 395.6,1112.0 396.3,1110.5 397.0,1111.6 397.6,1115.3 398.3,1112.9 399.0,1109.4 399.6,1110.1 400.3,1114.5 401.0,1110.4 401.7,1114.8 402.3,1115.1 403.0,1112.3 403.7,1114.4 404.3,1112.3 405.0,1114.0 405.7,1114.3 406.3,1117.8 407.0,1115.1 407.7,1118.5 408.3,1120.0 409.0,1121.9 409.7,1117.4 410.4,1118.5 411.0,1120.5 411.7,1121.5 412.4,1121.5 413.0,1120.5 413.7,1123.0 414.4,1119.0 415.0,1117.8 415.7,1114.9 416.4,1117.2 417.0,1117.0 417.7,1117.1 418.4,1115.8 419.1,1117.4 419.7,1119.1 420.4,1114.0 421.1,1110.6 421.7,1115.8 422.4,1114.7 423.1,1111.9 423.7,1110.7 424.4,1116.7 425.1,1109.8 425.7,1108.2 426.4,1109.8 427.1,1111.9 427.8,1109.7 428.4,1110.1 429.1,1111.3 429.8,1109.4 430.4,1110.0 431.1,1109.0 431.8,1106.3 432.4,1107.9 433.1,1104.8 433.8,1108.6 434.4,1104.2 435.1,1105.2 435.8,1101.5 436.4,1103.9 437.1,1102.2 437.8,1108.1 438.5,1105.6 439.1,1108.2 439.8,1105.3 440.5,1108.2 441.1,1112.1 441.8,1111.0 442.5,1116.8 443.1,1113.6 443.8,1113.9 444.5,1112.9 445.1,1110.4 445.8,1110.7 446.5,1106.4 447.2,1107.5 447.8,1108.7 448.5,1106.5 449.2,1106.4 449.8,1105.6 450.5,1106.4 451.2,1107.5 451.8,1105.3 452.5,1102.0 453.2,1105.2 453.8,1104.2 454.5,1105.1 455.2,1104.1 455.9,1107.2 456.5,1101.7 457.2,1102.3 457.9,1106.0 458.5,1103.2 459.2,1106.8 459.9,1107.3 460.5,1104.7 461.2,1111.5 461.9,1114.2 462.5,1112.9 463.2,1110.3 463.9,1114.9 464.5,1111.0 465.2,1112.3 465.9,1112.6 466.6,1109.3 467.2,1106.4 467.9,1108.3 468.6,1107.3 469.2,1104.6 469.9,1104.0 470.6,1106.7 471.2,1105.2 471.9,1105.1 472.6,1105.8 473.2,1108.5 473.9,1109.5 474.6,1110.0 475.3,1108.5 475.9,1111.3 476.6,1111.4 477.3,1113.4 477.9,1116.2 478.6,1116.4 479.3,1116.3 479.9,1115.6 480.6,1115.1 481.3,1116.4 481.9,1114.7 482.6,1114.5 483.3,1112.8 484.0,1113.5 484.6,1112.4 485.3,1115.0 486.0,1111.1 486.6,1107.7 487.3,1108.5 488.0,1104.3 488.6,1105.5 489.3,1103.4 490.0,1106.1 490.6,1097.0 491.3,1098.1 492.0,1097.5 492.7,1098.3 493.3,1099.4 494.0,1096.6 494.7,1098.0 495.3,1101.1 496.0,1103.5 496.7,1100.4 497.3,1100.5 498.0,1106.6 498.7,1106.6 499.3,1107.4 500.0,1103.6 500.7,1105.2 501.3,1106.0 502.0,1106.4 502.7,1105.0 503.4,1104.8 504.0,1106.5 504.7,1103.3 505.4,1102.7 506.0,1102.7 506.7,1102.4 507.4,1103.5 508.0,1102.8 508.7,1102.4 509.4,1106.2 510.0,1104.2 510.7,1103.3 511.4,1107.0 512.1,1104.0 512.7,1105.7 513.4,1106.1 514.1,1105.7 514.7,1106.5 515.4,1107.9 516.1,1105.4 516.7,1108.1 517.4,1110.0 518.1,1110.8 518.7,1111.5 519.4,1115.8 520.1,1112.4 520.8,1110.1 521.4,1108.9 522.1,1107.2 522.8,1105.8 523.4,1101.8 524.1,1102.7 524.8,1095.2 525.4,1096.6 526.1,1095.0 526.8,1091.1 527.4,1094.5 528.1,1095.0 528.8,1093.9 529.4,1101.3 530.1,1100.0 530.8,1099.9 531.5,1101.4 532.1,1102.4 532.8,1105.5 533.5,1105.9 534.1,1103.3 534.8,1104.0 535.5,1104.3 536.1,1104.4 536.8,1104.1 537.5,1103.5 538.1,1106.4 538.8,1107.8 539.5,1107.3 540.2,1104.3 540.8,1109.7 541.5,1112.4 542.2,1112.1 542.8,1113.3 543.5,1113.0 544.2,1109.6 544.8,1106.9 545.5,1112.3 546.2,1109.4 546.8,1110.7 547.5,1109.0 548.2,1109.1 548.9,1112.0 549.5,1106.7 550.2,1108.5 550.9,1105.6 551.5,1106.8 552.2,1106.2 552.9,1105.1 553.5,1102.7 554.2,1098.7 554.9,1101.2 555.5,1102.4 556.2,1103.0 556.9,1105.9 557.5,1103.7 558.2,1101.4 558.9,1103.0 559.6,1104.6 560.2,1106.6 560.9,1102.5 561.6,1106.5 562.2,1106.1 562.9,1103.4 563.6,1106.5 564.2,1104.0 564.9,1105.7 565.6,1105.3 566.2,1106.6 566.9,1104.0 567.6,1107.4 568.3,1102.4 568.9,1106.0 569.6,1105.9 570.3,1110.3 570.9,1108.6 571.6,1106.9 572.3,1106.6 572.9,1109.0 573.6,1108.5 574.3,1115.6 574.9,1109.3 575.6,1118.4 576.3,1117.2 577.0,1127.4 577.6,1127.1 578.3,1134.8 579.0,1133.2 579.6,1138.6 580.3,1137.5 581.0,1137.0 581.6,1132.4 582.3,1124.5 583.0,1127.2 583.6,1124.3 584.3,1128.2 585.0,1126.4 585.7,1124.4 586.3,1125.0 587.0,1125.2 587.7,1124.0 588.3,1128.9 589.0,1125.3 589.7,1124.0 590.3,1120.9 591.0,1121.7 591.7,1121.9 592.3,1120.3 593.0,1118.4 593.7,1117.7 594.3,1113.9 595.0,1114.4 595.7,1109.6 596.4,1109.3 597.0,1108.0 597.7,1110.0 598.4,1108.5 599.0,1107.4 599.7,1105.2 600.4,1107.1 601.0,1110.1 601.7,1111.6 602.4,1106.8 603.0,1109.2 603.7,1110.4 604.4,1110.9 605.1,1110.2 605.7,1111.4 606.4,1107.4 607.1,1113.3 607.7,1108.3 608.4,1110.9 609.1,1112.1 609.7,1113.7 610.4,1113.7 611.1,1114.1 611.7,1115.4 612.4,1113.2 613.1,1115.5 613.8,1117.5 614.4,1113.4 615.1,1112.4 615.8,1113.4 616.4,1118.4 617.1,1118.4 617.8,1115.8 618.4,1117.5 619.1,1118.5 619.8,1120.1 620.4,1114.7 621.1,1117.4 621.8,1117.6 622.4,1118.0 623.1,1116.4 623.8,1114.3 624.5,1114.0 625.1,1107.0 625.8,1117.0 626.5,1112.0 627.1,1112.0 627.8,1109.3 628.5,1111.9 629.1,1115.7 629.8,1115.8 630.5,1112.7 631.1,1110.1 631.8,1112.6 632.5,1111.1 633.2,1112.5 633.8,1107.6 634.5,1109.0 635.2,1109.7 635.8,1108.7 636.5,1112.9 637.2,1110.6 637.8,1113.1 638.5,1117.9 639.2,1123.3 639.8,1123.8 640.5,1125.2 641.2,1129.0 641.9,1128.1 642.5,1126.0 643.2,1126.2 643.9,1124.0 644.5,1124.1 645.2,1121.7 645.9,1118.4 646.5,1117.7 647.2,1116.6 647.9,1117.0 648.5,1116.0 649.2,1112.8 649.9,1113.6 650.6,1114.4 651.2,1116.1 651.9,1114.9 652.6,1118.9 653.2,1115.7 653.9,1117.6 654.6,1115.8 655.2,1114.4 655.9,1116.3 656.6,1116.5 657.2,1115.7 657.9,1114.9 658.6,1113.7 659.2,1112.6 659.9,1113.6 660.6,1115.1 661.3,1116.0 661.9,1107.7 662.6,1115.4 663.3,1116.3 663.9,1116.6 664.6,1114.7 665.3,1115.1 665.9,1112.7 666.6,1113.1 667.3,1113.9 667.9,1110.4 668.6,1110.9 669.3,1112.9 670.0,1110.2 670.6,1113.4 671.3,1111.1 672.0,1115.1 672.6,1115.1 673.3,1114.1 674.0,1113.2 674.6,1113.7 675.3,1110.0 676.0,1113.4 676.6,1114.4 677.3,1116.8 678.0,1114.0 678.7,1115.5 679.3,1119.5 680.0,1121.2 680.7,1117.9 681.3,1122.1 682.0,1123.4 682.7,1123.2 683.3,1121.2 684.0,1122.1 684.7,1125.7 685.3,1129.5 686.0,1124.7 686.7,1128.0 687.3,1128.4 688.0,1121.8 688.7,1122.6 689.4,1126.3 690.0,1124.8 690.7,1123.6 691.4,1122.3 692.0,1123.5 692.7,1121.0 693.4,1127.3 694.0,1120.2 694.7,1119.1 695.4,1123.1 696.0,1125.8 696.7,1122.0 697.4,1122.7 698.1,1120.4 698.7,1121.6 699.4,1118.7 700.1,1117.4 700.7,1115.0 701.4,1115.1 702.1,1118.1 702.7,1112.7 703.4,1111.7 704.1,1114.5 704.7,1108.1 705.4,1107.0 706.1,1110.2 706.8,1107.3 707.4,1111.3 708.1,1114.0 708.8,1110.7 709.4,1112.7 710.1,1117.9 710.8,1113.0 711.4,1114.1 712.1,1116.1 712.8,1115.0 713.4,1113.7 714.1,1118.2 714.8,1113.3 715.4,1114.3 716.1,1112.0 716.8,1111.4 717.5,1108.3 718.1,1111.9 718.8,1108.5 719.5,1111.3 720.1,1106.2 720.8,1107.5 721.5,1109.5 722.1,1109.3 722.8,1108.4 723.5,1110.2 724.1,1108.8 724.8,1112.2 725.5,1107.5 726.2,1113.7 726.8,1116.5 727.5,1116.0 728.2,1116.2 728.8,1113.8 729.5,1115.7 730.2,1113.8 730.8,1114.2 731.5,1113.9 732.2,1107.3 732.8,1115.7 733.5,1114.7 734.2,1115.4 734.9,1111.8 735.5,1114.8 736.2,1113.8 736.9,1107.6 737.5,1107.5 738.2,1109.9 738.9,1107.3 739.5,1107.5 740.2,1105.4 740.9,1109.0 741.5,1102.1 742.2,1103.2 742.9,1104.2 743.6,1103.9 744.2,1105.9 744.9,1107.3 745.6,1104.8 746.2,1108.1 746.9,1109.8 747.6,1109.0 748.2,1110.5 748.9,1108.7 749.6,1106.5 750.2,1110.4 750.9,1108.9 751.6,1112.1 752.2,1109.0 752.9,1106.2 753.6,1108.7 754.3,1111.7 754.9,1112.4 755.6,1110.4 756.3,1112.0 756.9,1106.7 757.6,1106.4 758.3,1108.5 758.9,1105.4 759.6,1104.2 760.3,1105.4 760.9,1103.3 761.6,1097.9 762.3,1098.1 763.0,1092.6 763.6,1094.5 764.3,1094.2 765.0,1089.5 765.6,1096.2 766.3,1097.9 767.0,1096.3 767.6,1098.8 768.3,1101.8 769.0,1100.1 769.6,1103.9 770.3,1103.5 771.0,1100.3 771.7,1101.6 772.3,1102.3 773.0,1105.5 773.7,1103.9 774.3,1106.5 775.0,1105.1 775.7,1105.5 776.3,1114.6 777.0,1118.7 777.7,1117.0 778.3,1118.4 779.0,1123.3 779.7,1120.2 780.3,1122.6 781.0,1120.0 781.7,1122.7 782.4,1120.5 783.0,1117.0 783.7,1113.9 784.4,1109.6 785.0,1108.4 785.7,1110.0 786.4,1104.7 787.0,1106.0 787.7,1100.0 788.4,1100.0 789.0,1097.9 789.7,1097.1 790.4,1098.2 791.1,1092.1 791.7,1097.3 792.4,1097.4 793.1,1096.5 793.7,1097.4 794.4,1098.0 795.1,1101.0 795.7,1100.9 796.4,1100.2 797.1,1102.9 797.7,1104.9 798.4,1103.8 799.1,1102.6 799.8,1102.1 800.4,1099.6 801.1,1098.4 801.8,1094.4 802.4,1096.9 803.1,1098.6 803.8,1095.7 804.4,1094.8 805.1,1098.6 805.8,1097.4 806.4,1097.3 807.1,1097.5 807.8,1097.2 808.5,1094.7 809.1,1092.2 809.8,1096.3 810.5,1092.4 811.1,1090.6 811.8,1092.6 812.5,1095.1 813.1,1090.7 813.8,1096.9 814.5,1095.0 815.1,1100.0 815.8,1098.0 816.5,1096.9 817.1,1099.8 817.8,1099.9 818.5,1096.7 819.2,1097.6 819.8,1095.9 820.5,1098.4 821.2,1093.4 821.8,1095.2 822.5,1090.5 823.2,1094.9 823.8,1088.2 824.5,1089.4 825.2,1091.0 825.8,1089.0 826.5,1088.2 827.2,1086.9 827.9,1087.8 828.5,1085.3 829.2,1089.4 829.9,1090.3 830.5,1090.0 831.2,1088.1 831.9,1090.2 832.5,1088.4 833.2,1089.1 833.9,1088.2 834.5,1088.0 835.2,1087.3 835.9,1084.8 836.6,1092.6 837.2,1092.5 837.9,1097.8 838.6,1090.9 839.2,1097.0 839.9,1093.7 840.6,1095.4 841.2,1093.5 841.9,1095.8 842.6,1095.0 843.2,1096.9 843.9,1095.8 844.6,1096.9 845.2,1098.8 845.9,1097.6 846.6,1096.2 847.3,1098.4 847.9,1094.9 848.6,1094.8 849.3,1092.2 849.9,1090.6 850.6,1085.4 851.3,1092.7 851.9,1089.7 852.6,1094.6 853.3,1098.1 853.9,1093.5 854.6,1099.0 855.3,1097.9 856.0,1099.3 856.6,1096.0 857.3,1098.1 858.0,1097.9 858.6,1100.0 859.3,1101.2 860.0,1097.4 860.6,1095.9 861.3,1100.7 862.0,1096.0 862.6,1095.8 863.3,1096.0 864.0,1096.7 864.7,1097.4 865.3,1095.5 866.0,1097.3 866.7,1102.3 867.3,1102.8 868.0,1101.2 868.7,1100.9 869.3,1099.1 870.0,1099.8 870.7,1094.5 871.3,1093.1 872.0,1090.5 872.7,1089.5 873.3,1090.7 874.0,1091.2 874.7,1091.3 875.4,1093.8 876.0,1095.9 876.7,1096.3 877.4,1094.6 878.0,1094.2 878.7,1094.3 879.4,1093.7 880.0,1090.5 880.7,1088.4 881.4,1087.7 882.0,1091.3 882.7,1090.0 883.4,1087.2 884.1,1089.9 884.7,1089.8 885.4,1091.0 886.1,1089.2 886.7,1092.9 887.4,1090.3 888.1,1091.6 888.7,1095.0 889.4,1093.2 890.1,1088.5 890.7,1087.2 891.4,1086.5 892.1,1083.7 892.8,1084.7 893.4,1085.4 894.1,1083.1 894.8,1085.8 895.4,1083.5 896.1,1082.0 896.8,1086.0 897.4,1083.7 898.1,1082.6 898.8,1086.3 899.4,1085.8 900.1,1082.6 900.8,1085.6 901.5,1085.3 902.1,1084.8 902.8,1093.0 903.5,1094.0 904.1,1090.3 904.8,1095.2 905.5,1092.3 906.1,1098.4 906.8,1096.7 907.5,1096.4 908.1,1099.4 908.8,1096.9 909.5,1096.4 910.1,1098.8 910.8,1096.8 911.5,1099.6 912.2,1098.6 912.8,1100.9 913.5,1101.3 914.2,1102.3 914.8,1099.2 915.5,1105.1 916.2,1101.3 916.8,1105.1 917.5,1100.4 918.2,1100.8 918.8,1100.6 919.5,1103.1 920.2,1099.6 920.9,1100.8 921.5,1096.3 922.2,1097.7 922.9,1098.4 923.5,1097.1 924.2,1093.1 924.9,1097.3 925.5,1094.1 926.2,1099.7 926.9,1095.5 927.5,1100.4 928.2,1097.5 928.9,1097.4 929.6,1096.0 930.2,1097.3 930.9,1099.1 931.6,1095.0 932.2,1101.2 932.9,1097.0 933.6,1098.4 934.2,1092.5 934.9,1097.2 935.6,1095.8 936.2,1092.6 936.9,1090.5 937.6,1087.1 938.2,1086.5 938.9,1087.4 939.6,1083.4 940.3,1084.8 940.9,1085.1 941.6,1083.0 942.3,1083.8 942.9,1083.4 943.6,1081.5 944.3,1086.7 944.9,1080.4 945.6,1084.2 946.3,1082.6 946.9,1076.6 947.6,1081.7 948.3,1084.3 949.0,1085.5 949.6,1084.2 950.3,1088.8 951.0,1088.4 951.6,1091.0 952.3,1094.6 953.0,1097.3 953.6,1101.5 954.3,1100.1 955.0,1102.3 955.6,1098.3 956.3,1098.6 957.0,1099.7 957.7,1103.6 958.3,1096.6 959.0,1095.0 959.7,1096.7 960.3,1098.0 961.0,1091.3 961.7,1093.2 962.3,1090.5 963.0,1095.8 963.7,1094.3 964.3,1093.7 965.0,1093.3 965.7,1093.3 966.4,1094.5 967.0,1093.4 967.7,1093.5 968.4,1093.6 969.0,1096.4 969.7,1095.3 970.4,1099.1 971.0,1093.6 971.7,1099.3 972.4,1099.5 973.0,1101.2 973.7,1098.7 974.4,1096.9 975.0,1098.9 975.7,1104.1 976.4,1102.4 977.1,1103.4 977.7,1104.2 978.4,1106.0 979.1,1106.2 979.7,1103.7 980.4,1105.6 981.1,1108.6 981.7,1109.3 982.4,1106.1 983.1,1105.4 983.7,1109.3 984.4,1106.4 985.1,1104.6 985.8,1106.7 986.4,1108.2 987.1,1109.5 987.8,1104.7 988.4,1105.9 989.1,1103.0 989.8,1104.7 990.4,1101.7 991.1,1100.6 991.8,1097.4 992.4,1098.3 993.1,1098.4 993.8,1092.4 994.5,1102.0 995.1,1101.2 995.8,1101.5 996.5,1101.5 997.1,1102.1 997.8,1101.9 998.5,1097.8 999.1,1099.5 999.8,1098.4 1000.5,1097.6 1001.1,1094.6 1001.8,1097.8 1002.5,1096.7 1003.1,1101.4 1003.8,1105.0 1004.5,1105.5 1005.2,1104.1 1005.8,1104.0 1006.5,1103.7 1007.2,1104.8 1007.8,1101.6 1008.5,1100.7 1009.2,1095.7 1009.8,1098.5 1010.5,1098.6 1011.2,1099.6 1011.8,1104.0 1012.5,1100.1 1013.2,1101.3 1013.9,1106.0 1014.5,1103.4 1015.2,1105.0 1015.9,1105.2 1016.5,1103.9 1017.2,1100.9 1017.9,1102.6 1018.5,1102.1 1019.2,1095.6 1019.9,1096.0 1020.5,1098.0 1021.2,1096.1 1021.9,1095.6 1022.6,1098.4 1023.2,1103.0 1023.9,1101.5 1024.6,1105.8 1025.2,1107.3 1025.9,1105.9 1026.6,1108.4 1027.2,1108.4 1027.9,1108.7 1028.6,1108.3 1029.2,1103.3 1029.9,1108.2 1030.6,1107.8 1031.2,1109.0 1031.9,1105.8 1032.6,1109.7 1033.3,1108.9 1033.9,1105.9 1034.6,1110.4 1035.3,1105.7 1035.9,1104.3 1036.6,1105.7 1037.3,1102.1 1037.9,1102.2 1038.6,1099.2 1039.3,1098.7 1039.9,1098.6 1040.6,1096.1 1041.3,1097.5 1042.0,1097.6 1042.6,1094.8 1043.3,1099.1 1044.0,1099.8 1044.6,1100.2 1045.3,1103.7 1046.0,1106.2 1046.6,1105.8 1047.3,1102.5 1048.0,1107.1 1048.6,1106.4 1049.3,1106.2 1050.0,1107.2 1050.7,1105.2 1051.3,1108.4 1052.0,1104.9 1052.7,1103.8 1053.3,1104.9 1054.0,1104.9 1054.7,1106.0 1055.3,1105.7 1056.0,1105.3 1056.7,1106.8 1057.3,1103.3 1058.0,1105.8 1058.7,1111.7 1059.4,1109.8 1060.0,1114.8 1060.7,1115.5 1061.4,1110.3 1062.0,1114.3 1062.7,1120.3 1063.4,1113.9 1064.0,1117.0 1064.7,1116.3 1065.4,1116.4 1066.0,1116.2 1066.7,1116.3 1067.4,1117.1 1068.0,1113.1 1068.7,1114.7 1069.4,1111.1 1070.1,1112.0 1070.7,1109.9 1071.4,1105.8 1072.1,1105.6 1072.7,1101.9 1073.4,1100.1 1074.1,1103.1 1074.7,1096.9 1075.4,1102.3 1076.1,1103.9 1076.7,1103.1 1077.4,1108.3 1078.1,1109.5 1078.8,1106.0 1079.4,1109.7 1080.1,1108.7 1080.8,1104.8 1081.4,1105.5 1082.1,1103.8 1082.8,1099.1 1083.4,1095.2 1084.1,1099.3 1084.8,1097.1 1085.4,1095.9 1086.1,1099.8 1086.8,1097.4 1087.5,1103.2 1088.1,1108.5 1088.8,1101.2 1089.5,1108.8 1090.1,1106.6 1090.8,1107.8 1091.5,1106.7 1092.1,1109.6 1092.8,1108.1 1093.5,1106.6 1094.1,1105.7 1094.8,1107.6 1095.5,1110.8 1096.1,1105.8 1096.8,1108.2 1097.5,1106.6 1098.2,1100.1 1098.8,1104.3 1099.5,1099.9 1100.2,1102.4 1100.8,1099.7 1101.5,1094.4 1102.2,1093.8 1102.8,1091.9 1103.5,1091.4 1104.2,1096.5 1104.8,1095.6 1105.5,1097.0 1106.2,1099.5 1106.9,1103.4 1107.5,1106.4 1108.2,1106.9 1108.9,1108.8 1109.5,1111.3 1110.2,1116.7 1110.9,1109.5 1111.5,1112.0 1112.2,1115.6 1112.9,1115.2 1113.5,1117.6 1114.2,1117.9 1114.9,1119.4 1115.6,1113.9 1116.2,1116.8 1116.9,1114.9 1117.6,1116.9 1118.2,1114.7 1118.9,1115.4 1119.6,1111.5 1120.2,1112.7 1120.9,1110.9 1121.6,1111.2 1122.2,1110.7 1122.9,1109.7 1123.6,1114.1 1124.2,1112.5 1124.9,1114.0 1125.6,1109.7 1126.3,1107.5 1126.9,1110.0 1127.6,1110.8 1128.3,1112.8 1128.9,1113.6 1129.6,1114.6 1130.3,1116.1 1130.9,1115.5 1131.6,1115.6 1132.3,1115.1 1132.9,1119.2 1133.6,1117.8 1134.3,1118.0 1135.0,1121.4 1135.6,1120.9 1136.3,1122.1 1137.0,1118.6 1137.6,1121.7 1138.3,1119.1 1139.0,1117.0 1139.6,1114.7 1140.3,1113.0 1141.0,1111.5 1141.6,1116.5 1142.3,1110.5 1143.0,1114.6 1143.7,1113.0 1144.3,1112.6 1145.0,1113.3 1145.7,1114.7 1146.3,1117.6 1147.0,1118.1 1147.7,1118.3 1148.3,1117.0 1149.0,1117.6 1149.7,1126.4 1150.3,1121.8 1151.0,1121.5 1151.7,1127.4 1152.4,1122.2 1153.0,1126.2 1153.7,1125.7 1154.4,1123.2 1155.0,1123.2 1155.7,1117.1 1156.4,1116.2 1157.0,1117.4 1157.7,1117.3 1158.4,1117.2 1159.0,1118.7 1159.7,1116.7 1160.4,1114.7 1161.0,1120.7 1161.7,1120.3 1162.4,1123.3 1163.1,1126.5 1163.7,1122.8 1164.4,1123.8 1165.1,1120.4 1165.7,1123.3 1166.4,1121.2 1167.1,1119.9 1167.7,1120.1 1168.4,1115.0 1169.1,1117.6 1169.7,1116.7 1170.4,1118.5 1171.1,1111.3 1171.8,1114.6 1172.4,1119.1 1173.1,1114.0 1173.8,1114.2 1174.4,1119.2 1175.1,1121.2 1175.8,1117.0 1176.4,1115.7 1177.1,1116.1 1177.8,1116.3 1178.4,1114.9 1179.1,1114.0 1179.8,1114.8 1180.5,1113.1 1181.1,1112.4 1181.8,1109.9 1182.5,1105.9 1183.1,1108.7 1183.8,1106.9 1184.5,1105.2 1185.1,1106.3 1185.8,1108.6 1186.5,1109.7 1187.1,1111.1 1187.8,1114.5 1188.5,1116.4 1189.1,1114.4 1189.8,1115.1 1190.5,1112.4 1191.2,1113.3 1191.8,1113.1 1192.5,1112.2 1193.2,1109.0 1193.8,1106.7 1194.5,1103.8 1195.2,1104.1 1195.8,1100.1 1196.5,1101.3 1197.2,1099.8 1197.8,1096.8 1198.5,1098.1 1199.2,1096.0 1199.9,1096.8 1200.5,1093.9 1201.2,1095.2 1201.9,1096.8 1202.5,1093.3 1203.2,1093.4 1203.9,1089.0 1204.5,1087.7 1205.2,1082.5 1205.9,1083.9 1206.5,1080.0 1207.2,1081.2 1207.9,1076.3 1208.6,1079.1 1209.2,1082.3 1209.9,1084.9 1210.6,1083.2 1211.2,1088.4 1211.9,1096.9 1212.6,1095.4 1213.2,1095.6 1213.9,1090.5 1214.6,1094.4 1215.2,1097.0 1215.9,1096.0 1216.6,1096.0 1217.3,1096.9 1217.9,1095.4 1218.6,1097.5 1219.3,1092.9 1219.9,1102.4 1220.6,1097.7 1221.3,1097.7 1221.9,1102.3 1222.6,1100.5 1223.3,1101.0 1223.9,1097.7 1224.6,1099.5 1225.3,1100.5 1225.9,1097.0 1226.6,1099.2 1227.3,1099.5 1228.0,1099.7 1228.6,1099.0 1229.3,1097.9 1230.0,1101.4 1230.6,1101.3 1231.3,1103.5 1232.0,1101.8 1232.6,1101.6 1233.3,1101.2 1234.0,1105.7 1234.6,1106.3 1235.3,1112.3 1236.0,1114.0 1236.7,1113.2 1237.3,1108.5 1238.0,1107.3 1238.7,1108.9 1239.3,1106.5 1240.0,1110.0 1240.7,1106.2 1241.3,1104.3 1242.0,1104.6 1242.7,1107.0 1243.3,1102.9 1244.0,1106.4 1244.7,1103.5 1245.4,1106.4 1246.0,1105.9 1246.7,1108.1 1247.4,1107.6 1248.0,1109.3 1248.7,1107.7 1249.4,1104.4 1250.0,1102.2 1250.7,1102.7 1251.4,1103.1 1252.0,1103.5 1252.7,1102.6 1253.4,1106.6 1254.0,1106.6 1254.7,1104.3 1255.4,1103.7 1256.1,1103.6 1256.7,1103.0 1257.4,1101.8 1258.1,1097.2 1258.7,1098.3 1259.4,1094.5 1260.1,1098.0 1260.7,1099.5 1261.4,1096.8 1262.1,1100.5 1262.7,1100.4 1263.4,1101.8 1264.1,1108.6 1264.8,1107.5 1265.4,1107.5 1266.1,1106.0 1266.8,1107.8 1267.4,1106.7 1268.1,1108.1 1268.8,1105.8 1269.4,1108.3 1270.1,1108.8 1270.8,1108.3 1271.4,1116.3 1272.1,1116.4 1272.8,1115.1 1273.5,1115.5 1274.1,1118.4 1274.8,1119.3 1275.5,1120.4 1276.1,1118.8 1276.8,1120.0 1277.5,1121.4 1278.1,1121.5 1278.8,1116.0 1279.5,1119.3 1280.1,1116.5 1280.8,1115.5 1281.5,1115.8 1282.2,1113.8 1282.8,1115.4 1283.5,1114.3 1284.2,1111.4 1284.8,1110.1 1285.5,1114.8 1286.2,1115.0 1286.8,1112.4 1287.5,1111.9 1288.2,1115.0 1288.8,1116.6 1289.5,1113.5 1290.2,1119.2 1290.8,1116.2 1291.5,1119.7 1292.2,1117.3 1292.9,1119.1 1293.5,1118.4 1294.2,1119.5 1294.9,1121.3 1295.5,1117.1 1296.2,1117.7 1296.9,1118.9 1297.5,1116.3 1298.2,1121.0 1298.9,1113.8 1299.5,1122.0 1300.2,1115.8 1300.9,1119.4 1301.6,1121.0 1302.2,1118.8 1302.9,1114.4 1303.6,1115.7 1304.2,1115.0 1304.9,1114.2 1305.6,1112.9 1306.2,1111.2 1306.9,1110.2 1307.6,1104.0 1308.2,1107.3 1308.9,1101.8 1309.6,1106.3 1310.3,1104.9 1310.9,1104.9 1311.6,1111.7 1312.3,1110.9 1312.9,1113.7 1313.6,1108.7 1314.3,1109.3 1314.9,1111.2 1315.6,1109.6 1316.3,1110.8 1316.9,1109.4 1317.6,1110.1 1318.3,1108.8 1318.9,1114.0 1319.6,1110.8 1320.3,1108.9 1321.0,1112.4 1321.6,1111.8 1322.3,1111.2 1323.0,1111.4 1323.6,1110.6 1324.3,1111.8 1325.0,1108.3 1325.6,1110.2 1326.3,1111.0 1327.0,1113.8 1327.6,1114.9 1328.3,1110.9 1329.0,1109.3 1329.7,1110.8 1330.3,1106.7 1331.0,1108.2 1331.7,1107.9 1332.3,1105.2 1333.0,1110.0 1333.7,1111.7 1334.3,1110.9 1335.0,1112.9 1335.7,1113.7 1336.3,1119.7 1337.0,1121.1 1337.7,1117.6 1338.4,1118.5 1339.0,1111.5 1339.7,1116.1 1340.4,1116.5 1341.0,1115.3 1341.7,1109.7 1342.4,1113.6 1343.0,1110.9 1343.7,1113.1 1344.4,1109.2 1345.0,1110.2 1345.7,1108.6 1346.4,1110.4 1347.0,1109.1 1347.7,1111.6 1348.4,1111.4 1349.1,1111.3 1349.7,1111.5 1350.4,1112.4 1351.1,1114.6 1351.7,1117.8 1352.4,1118.1 1353.1,1119.8 1353.7,1120.2 1354.4,1120.9 1355.1,1120.1 1355.7,1117.6 1356.4,1122.3 1357.1,1121.6 1357.8,1117.5 1358.4,1122.1 1359.1,1114.2 1359.8,1116.9 1360.4,1113.6 1361.1,1112.0 1361.8,1112.2 1362.4,1110.7 1363.1,1108.4 1363.8,1106.2 1364.4,1106.6 1365.1,1110.6 1365.8,1114.8 1366.5,1114.9 1367.1,1114.3 1367.8,1115.9 1368.5,1117.0 1369.1,1118.9 1369.8,1113.0 1370.5,1114.7 1371.1,1112.1 1371.8,1108.2 1372.5,1106.0 1373.1,1109.2 1373.8,1106.2 1374.5,1104.3 1375.2,1104.6 1375.8,1106.3 1376.5,1104.8 1377.2,1108.5 1377.8,1105.7 1378.5,1106.0 1379.2,1109.0 1379.8,1109.2 1380.5,1112.4 1381.2,1117.4 1381.8,1119.8 1382.5,1118.5 1383.2,1117.9 1383.8,1115.3 1384.5,1114.3 1385.2,1116.0 1385.9,1114.2 1386.5,1111.4 1387.2,1110.6 1387.9,1113.9 1388.5,1112.3 1389.2,1110.2 1389.9,1110.7 1390.5,1113.1 1391.2,1111.6 1391.9,1111.8 1392.5,1108.6 1393.2,1108.9 1393.9,1109.0 1394.6,1108.9 1395.2,1114.1 1395.9,1115.4 1396.6,1113.5 1397.2,1116.5 1397.9,1116.6 1398.6,1115.2 1399.2,1111.7 1399.9,1116.8 1400.6,1115.6 1401.2,1110.5 1401.9,1114.5 1402.6,1109.6 1403.3,1107.1 1403.9,1107.3 1404.6,1104.1 1405.3,1107.4 1405.9,1105.4 1406.6,1111.9 1407.3,1111.3 1407.9,1109.0 1408.6,1114.1 1409.3,1110.5 1409.9,1115.2 1410.6,1116.5 1411.3,1116.3 1411.9,1114.3 1412.6,1116.7 1413.3,1116.7 1414.0,1117.2 1414.6,1120.0 1415.3,1120.1 1416.0,1119.5 1416.6,1114.7 1417.3,1114.3 1418.0,1116.2 1418.6,1117.7 1419.3,1113.7 1420.0,1118.2 1420.6,1124.9 1421.3,1120.4 1422.0,1122.9 1422.7,1123.9 1423.3,1126.7 1424.0,1125.4 1424.7,1124.0 1425.3,1120.2 1426.0,1122.9 1426.7,1119.6 1427.3,1115.9 1428.0,1114.8 1428.7,1113.7 1429.3,1106.3 1430.0,1103.6 1430.7,1102.3 1431.4,1100.5 1432.0,1094.5 1432.7,1098.4 1433.4,1101.4 1434.0,1098.5 1434.7,1101.8 1435.4,1094.8 1436.0,1101.6 1436.7,1106.1 1437.4,1107.9 1438.0,1105.0 1438.7,1105.6 1439.4,1109.2 1440.1,1106.7 1440.7,1109.1 1441.4,1106.9 1442.1,1110.9 1442.7,1111.2 1443.4,1115.1 1444.1,1113.5 1444.7,1112.6 1445.4,1115.4 1446.1,1114.8 1446.7,1119.3 1447.4,1120.6 1448.1,1123.4 1448.7,1125.6 1449.4,1120.2 1450.1,1125.1 1450.8,1125.5 1451.4,1120.5 1452.1,1125.2 1452.8,1117.5 1453.4,1121.3 1454.1,1114.9 1454.8,1112.3 1455.4,1108.2 1456.1,1107.6 1456.8,1102.1 1457.4,1102.1 1458.1,1100.0 1458.8,1106.1 1459.5,1104.9 1460.1,1109.6 1460.8,1111.1 1461.5,1108.9 1462.1,1114.8 1462.8,1115.4 1463.5,1116.4 1464.1,1117.9 1464.8,1117.3 1465.5,1117.5 1466.1,1119.4 1466.8,1114.7 1467.5,1113.7 1468.2,1114.2 1468.8,1117.7 1469.5,1114.9 1470.2,1119.8 1470.8,1109.9 1471.5,1115.1 1472.2,1116.0 1472.8,1117.6 1473.5,1119.8 1474.2,1116.6 1474.8,1114.9 1475.5,1118.6 1476.2,1120.0 1476.8,1111.4 1477.5,1117.8 1478.2,1117.0 1478.9,1114.4 1479.5,1114.9 1480.2,1116.1 1480.9,1115.2 1481.5,1114.2 1482.2,1111.8 1482.9,1114.1 1483.5,1111.3 1484.2,1111.7 1484.9,1109.0 1485.5,1109.0 1486.2,1108.4 1486.9,1105.7 1487.6,1105.0 1488.2,1099.4 1488.9,1102.3 1489.6,1101.5 1490.2,1099.7 1490.9,1101.2 1491.6,1096.6 1492.2,1103.5 1492.9,1103.4 1493.6,1100.2 1494.2,1106.2 1494.9,1103.9 1495.6,1105.6 1496.3,1104.5 1496.9,1106.3 1497.6,1106.3 1498.3,1106.9 1498.9,1110.4 1499.6,1113.4 1500.3,1109.4 1500.9,1116.3 1501.6,1116.8 1502.3,1117.0 1502.9,1122.5 1503.6,1121.8 1504.3,1117.1 1504.9,1116.0 1505.6,1118.9 1506.3,1114.8 1507.0,1114.3 1507.6,1110.0 1508.3,1112.9 1509.0,1114.9 1509.6,1111.0 1510.3,1111.1 1511.0,1114.6 1511.6,1112.7 1512.3,1114.1 1513.0,1113.2 1513.6,1115.5 1514.3,1111.1 1515.0,1114.5 1515.7,1114.1 1516.3,1123.0 1517.0,1119.0 1517.7,1117.9 1518.3,1115.6 1519.0,1113.6 1519.7,1108.4 1520.3,1117.3 1521.0,1111.3 1521.7,1110.8 1522.3,1107.3 1523.0,1109.9 1523.7,1110.9 1524.4,1109.8 1525.0,1111.0 1525.7,1107.9 1526.4,1110.0 1527.0,1111.0 1527.7,1110.2 1528.4,1109.7 1529.0,1108.7 1529.7,1107.1 1530.4,1110.5 1531.0,1109.1 1531.7,1108.4 1532.4,1112.5 1533.1,1108.0 1533.7,1110.3 1534.4,1112.9 1535.1,1112.8 1535.7,1109.7 1536.4,1111.3 1537.1,1113.0 1537.7,1112.6 1538.4,1112.2 1539.1,1116.2 1539.7,1117.5 1540.4,1119.4 1541.1,1123.5 1541.7,1123.8 1542.4,1123.8 1543.1,1126.5 1543.8,1131.2 1544.4,1126.6 1545.1,1128.3 1545.8,1128.0" stroke="#67c7d3" stroke-width="6.8"/>
<path d="M246.19 538.45L259.49 562.05L232.89 562.05ZM307.03 1089.56L320.33 1113.16L293.73 1113.16ZM367.88 1102.00L381.18 1125.60L354.58 1125.60ZM428.73 1095.58L442.03 1119.18L415.43 1119.18ZM489.58 1089.40L502.88 1113.00L476.28 1113.00ZM550.42 1092.43L563.72 1116.03L537.12 1116.03ZM611.27 1099.40L624.57 1123.00L597.97 1123.00ZM672.12 1099.97L685.42 1123.57L658.82 1123.57ZM732.97 1100.39L746.27 1123.99L719.67 1123.99ZM793.81 1082.41L807.11 1106.01L780.51 1106.01ZM854.66 1083.80L867.96 1107.40L841.36 1107.40ZM915.51 1090.00L928.81 1113.60L902.21 1113.60ZM976.36 1087.40L989.66 1111.00L963.06 1111.00ZM1037.20 1087.39L1050.50 1110.99L1023.90 1110.99ZM1098.05 1086.04L1111.35 1109.64L1084.75 1109.64ZM1158.90 1103.31L1172.20 1126.91L1145.60 1126.91ZM1219.75 1084.71L1233.05 1108.31L1206.45 1108.31ZM1280.59 1100.74L1293.89 1124.34L1267.29 1124.34ZM1341.44 1096.72L1354.74 1120.32L1328.14 1120.32ZM1402.29 1096.68L1415.59 1120.28L1388.99 1120.28ZM1463.14 1100.81L1476.44 1124.41L1449.84 1124.41ZM1523.98 1095.30L1537.28 1118.90L1510.68 1118.90Z" stroke="#67c7d3" stroke-width="6.2" stroke-linejoin="miter" stroke-miterlimit="10"/>
<polyline points="207.6,267.0 208.3,267.7 209.0,268.4 209.6,269.1 210.3,269.8 211.0,270.6 211.6,271.3 212.3,272.0 213.0,272.7 213.6,273.4 214.3,274.1 215.0,274.8 215.7,275.5 216.3,277.9 217.0,283.5 217.7,289.2 218.3,294.9 219.0,300.5 219.7,306.2 220.3,311.8 221.0,317.5 221.7,323.1 222.3,328.8 223.0,334.4 223.7,340.1 224.4,345.7 225.0,351.4 225.7,357.1 226.4,362.7 227.0,368.4 227.7,374.0 228.4,379.7 229.0,385.3 229.7,391.0 230.4,396.6 231.0,402.3 231.7,408.0 232.4,413.6 233.1,419.3 233.7,424.9 234.4,430.7 235.1,438.0 235.7,445.2 236.4,452.5 237.1,459.7 237.7,467.0 238.4,474.2 239.1,481.5 239.7,488.7 240.4,496.0 241.1,503.3 241.7,510.5 242.4,517.8 243.1,525.0 243.8,532.3 244.4,539.5 245.1,546.8 245.8,554.0 246.4,562.0 247.1,570.0 247.8,577.9 248.4,585.9 249.1,593.9 249.8,601.9 250.4,609.9 251.1,617.8 251.8,625.8 252.5,633.8 253.1,641.8 253.8,649.8 254.5,657.9 255.1,666.1 255.8,674.3 256.5,682.5 257.1,690.7 257.8,698.9 258.5,707.0 259.1,714.8 259.8,722.7 260.5,730.5 261.2,738.4 261.8,746.2 262.5,754.1 263.2,761.9 263.8,769.8 264.5,777.6 265.2,785.5 265.8,793.3 266.5,801.1 267.2,809.0 267.8,816.8 268.5,824.7 269.2,832.5 269.9,840.4 270.5,848.2 271.2,856.1 271.9,864.5 272.5,874.1 273.2,883.7 273.9,893.3 274.5,902.9 275.2,912.5 275.9,922.1 276.5,931.7 277.2,940.8 277.9,946.7 278.5,952.7 279.2,958.6 279.9,964.5 280.6,970.4 281.2,976.3 281.9,982.3 282.6,987.1 283.2,991.1 283.9,995.0 284.6,999.0 285.2,1002.9 285.9,1006.9 286.6,1010.9 287.2,1015.5 287.9,1020.1 288.6,1024.7 289.3,1029.3 289.9,1033.8 290.6,1038.4 291.3,1041.1 291.9,1043.4 292.6,1045.8 293.3,1048.2 293.9,1050.6 294.6,1053.0 295.3,1055.3 295.9,1057.7 296.6,1060.1 297.3,1062.5 298.0,1063.6 298.6,1064.7 299.3,1065.2 300.0,1066.4 300.6,1066.1 301.3,1067.7 302.0,1069.4 302.6,1074.8 303.3,1070.6 304.0,1072.7 304.6,1078.6 305.3,1077.5 306.0,1071.1 306.6,1075.7 307.3,1075.2 308.0,1077.6 308.7,1069.9 309.3,1070.9 310.0,1072.7 310.7,1071.3 311.3,1067.7 312.0,1069.1 312.7,1067.3 313.3,1073.8 314.0,1071.3 314.7,1075.7 315.3,1075.8 316.0,1073.1 316.7,1075.0 317.4,1076.4 318.0,1075.4 318.7,1076.5 319.4,1074.6 320.0,1071.9 320.7,1071.4 321.4,1067.5 322.0,1066.6 322.7,1068.2 323.4,1067.1 324.0,1063.9 324.7,1065.8 325.4,1064.6 326.1,1065.5 326.7,1069.6 327.4,1065.7 328.1,1066.7 328.7,1069.5 329.4,1068.8 330.1,1069.3 330.7,1066.5 331.4,1069.9 332.1,1069.9 332.7,1070.0 333.4,1071.4 334.1,1072.7 334.8,1075.3 335.4,1077.4 336.1,1073.3 336.8,1074.8 337.4,1070.5 338.1,1065.4 338.8,1066.4 339.4,1066.9 340.1,1065.5 340.8,1059.8 341.4,1065.1 342.1,1059.0 342.8,1059.3 343.4,1060.4 344.1,1065.4 344.8,1064.9 345.5,1067.5 346.1,1062.8 346.8,1068.3 347.5,1068.9 348.1,1070.4 348.8,1067.5 349.5,1069.5 350.1,1064.1 350.8,1061.0 351.5,1058.9 352.1,1063.3 352.8,1061.5 353.5,1058.4 354.2,1062.6 354.8,1061.1 355.5,1062.5 356.2,1061.4 356.8,1064.5 357.5,1066.7 358.2,1067.2 358.8,1065.4 359.5,1067.6 360.2,1067.2 360.8,1061.4 361.5,1062.4 362.2,1057.7 362.9,1061.1 363.5,1058.7 364.2,1061.2 364.9,1063.4 365.5,1064.6 366.2,1069.2 366.9,1067.7 367.5,1069.9 368.2,1072.6 368.9,1072.3 369.5,1072.7 370.2,1071.0 370.9,1068.7 371.5,1070.3 372.2,1067.9 372.9,1068.4 373.6,1068.5 374.2,1064.9 374.9,1064.3 375.6,1065.4 376.2,1065.9 376.9,1064.3 377.6,1072.3 378.2,1070.4 378.9,1074.3 379.6,1068.2 380.2,1069.6 380.9,1068.0 381.6,1066.2 382.3,1067.4 382.9,1065.0 383.6,1064.7 384.3,1065.5 384.9,1061.4 385.6,1065.0 386.3,1065.5 386.9,1070.5 387.6,1068.4 388.3,1068.6 388.9,1068.1 389.6,1066.3 390.3,1069.8 391.0,1066.2 391.6,1063.9 392.3,1067.9 393.0,1068.7 393.6,1066.0 394.3,1065.6 395.0,1065.6 395.6,1065.4 396.3,1062.3 397.0,1063.5 397.6,1060.0 398.3,1063.3 399.0,1056.4 399.6,1061.2 400.3,1060.2 401.0,1060.2 401.7,1057.9 402.3,1062.9 403.0,1060.8 403.7,1059.6 404.3,1060.6 405.0,1061.6 405.7,1062.4 406.3,1060.4 407.0,1060.3 407.7,1062.9 408.3,1061.9 409.0,1066.1 409.7,1062.0 410.4,1065.3 411.0,1068.7 411.7,1066.7 412.4,1071.1 413.0,1071.8 413.7,1073.2 414.4,1077.8 415.0,1073.8 415.7,1075.2 416.4,1073.1 417.0,1076.2 417.7,1078.2 418.4,1075.6 419.1,1077.7 419.7,1074.8 420.4,1078.9 421.1,1076.9 421.7,1076.4 422.4,1080.4 423.1,1076.5 423.7,1076.4 424.4,1073.7 425.1,1072.6 425.7,1069.1 426.4,1064.1 427.1,1064.8 427.8,1063.4 428.4,1062.0 429.1,1060.2 429.8,1064.2 430.4,1059.9 431.1,1062.8 431.8,1064.5 432.4,1063.6 433.1,1064.9 433.8,1069.6 434.4,1070.3 435.1,1069.3 435.8,1065.5 436.4,1067.4 437.1,1067.5 437.8,1067.4 438.5,1067.7 439.1,1065.5 439.8,1065.7 440.5,1066.3 441.1,1057.7 441.8,1063.6 442.5,1060.5 443.1,1062.5 443.8,1062.7 444.5,1061.6 445.1,1063.5 445.8,1067.8 446.5,1068.1 447.2,1071.1 447.8,1069.6 448.5,1074.7 449.2,1069.7 449.8,1073.5 450.5,1067.0 451.2,1068.4 451.8,1068.2 452.5,1062.1 453.2,1061.7 453.8,1063.6 454.5,1065.0 455.2,1066.0 455.9,1065.7 456.5,1068.5 457.2,1066.3 457.9,1069.9 458.5,1075.2 459.2,1072.5 459.9,1073.5 460.5,1070.2 461.2,1072.3 461.9,1068.1 462.5,1070.3 463.2,1070.8 463.9,1067.0 464.5,1065.1 465.2,1062.4 465.9,1062.6 466.6,1057.6 467.2,1057.0 467.9,1060.4 468.6,1052.1 469.2,1052.4 469.9,1050.0 470.6,1054.9 471.2,1052.4 471.9,1051.3 472.6,1052.6 473.2,1058.9 473.9,1059.9 474.6,1062.0 475.3,1062.2 475.9,1065.9 476.6,1068.4 477.3,1068.7 477.9,1065.6 478.6,1066.1 479.3,1068.0 479.9,1072.1 480.6,1069.0 481.3,1070.0 481.9,1072.1 482.6,1069.9 483.3,1068.7 484.0,1072.6 484.6,1071.3 485.3,1071.7 486.0,1072.1 486.6,1073.8 487.3,1071.9 488.0,1073.1 488.6,1071.6 489.3,1076.3 490.0,1077.0 490.6,1081.2 491.3,1080.8 492.0,1082.0 492.7,1080.3 493.3,1079.1 494.0,1076.3 494.7,1074.0 495.3,1071.7 496.0,1071.5 496.7,1069.1 497.3,1071.6 498.0,1070.9 498.7,1067.5 499.3,1066.8 500.0,1071.3 500.7,1072.6 501.3,1073.7 502.0,1077.6 502.7,1074.6 503.4,1074.0 504.0,1077.9 504.7,1079.5 505.4,1081.0 506.0,1075.8 506.7,1077.0 507.4,1076.1 508.0,1079.2 508.7,1076.9 509.4,1074.8 510.0,1075.4 510.7,1072.7 511.4,1072.4 512.1,1072.3 512.7,1070.9 513.4,1070.8 514.1,1071.4 514.7,1070.5 515.4,1072.2 516.1,1070.2 516.7,1067.7 517.4,1063.2 518.1,1064.4 518.7,1066.4 519.4,1067.2 520.1,1066.3 520.8,1069.4 521.4,1071.9 522.1,1072.1 522.8,1074.7 523.4,1076.3 524.1,1076.4 524.8,1077.0 525.4,1078.9 526.1,1079.8 526.8,1077.1 527.4,1074.9 528.1,1076.7 528.8,1079.3 529.4,1075.0 530.1,1079.7 530.8,1076.6 531.5,1077.8 532.1,1075.7 532.8,1078.0 533.5,1076.6 534.1,1076.7 534.8,1071.8 535.5,1076.5 536.1,1071.4 536.8,1073.6 537.5,1074.7 538.1,1072.9 538.8,1073.7 539.5,1072.7 540.2,1072.3 540.8,1070.6 541.5,1074.5 542.2,1075.3 542.8,1072.8 543.5,1073.0 544.2,1075.9 544.8,1074.5 545.5,1076.3 546.2,1077.2 546.8,1076.0 547.5,1076.3 548.2,1072.8 548.9,1068.4 549.5,1067.4 550.2,1069.0 550.9,1071.0 551.5,1066.4 552.2,1065.4 552.9,1070.2 553.5,1067.8 554.2,1070.2 554.9,1071.9 555.5,1069.0 556.2,1071.3 556.9,1071.9 557.5,1074.8 558.2,1075.6 558.9,1073.6 559.6,1075.8 560.2,1071.4 560.9,1075.7 561.6,1076.0 562.2,1075.7 562.9,1073.4 563.6,1076.3 564.2,1074.4 564.9,1079.1 565.6,1075.3 566.2,1074.9 566.9,1074.7 567.6,1075.8 568.3,1075.0 568.9,1076.3 569.6,1074.1 570.3,1078.7 570.9,1076.4 571.6,1079.5 572.3,1079.0 572.9,1080.9 573.6,1078.6 574.3,1076.0 574.9,1078.2 575.6,1081.2 576.3,1085.5 577.0,1083.2 577.6,1085.4 578.3,1089.3 579.0,1087.5 579.6,1091.1 580.3,1091.7 581.0,1087.8 581.6,1087.4 582.3,1087.1 583.0,1085.3 583.6,1081.0 584.3,1085.5 585.0,1078.7 585.7,1075.2 586.3,1072.7 587.0,1071.5 587.7,1073.9 588.3,1065.7 589.0,1070.0 589.7,1067.0 590.3,1069.1 591.0,1069.7 591.7,1068.1 592.3,1069.7 593.0,1075.1 593.7,1072.6 594.3,1074.2 595.0,1073.8 595.7,1075.8 596.4,1076.3 597.0,1075.4 597.7,1074.7 598.4,1074.9 599.0,1072.1 599.7,1077.5 600.4,1074.5 601.0,1074.3 601.7,1075.2 602.4,1074.0 603.0,1075.4 603.7,1074.9 604.4,1074.8 605.1,1071.3 605.7,1069.8 606.4,1070.5 607.1,1069.5 607.7,1071.7 608.4,1078.7 609.1,1075.4 609.7,1078.0 610.4,1081.9 611.1,1082.4 611.7,1084.1 612.4,1081.1 613.1,1080.2 613.8,1084.0 614.4,1079.2 615.1,1079.4 615.8,1079.3 616.4,1074.8 617.1,1077.7 617.8,1076.7 618.4,1078.9 619.1,1077.1 619.8,1072.9 620.4,1077.9 621.1,1070.4 621.8,1073.1 622.4,1071.1 623.1,1070.0 623.8,1070.0 624.5,1071.2 625.1,1067.8 625.8,1069.0 626.5,1073.1 627.1,1074.8 627.8,1077.6 628.5,1079.4 629.1,1080.6 629.8,1081.8 630.5,1082.6 631.1,1085.2 631.8,1085.3 632.5,1084.5 633.2,1076.4 633.8,1075.4 634.5,1073.2 635.2,1070.3 635.8,1066.2 636.5,1070.6 637.2,1067.6 637.8,1062.9 638.5,1061.1 639.2,1061.0 639.8,1058.1 640.5,1059.3 641.2,1061.4 641.9,1063.2 642.5,1062.0 643.2,1063.2 643.9,1059.1 644.5,1055.3 645.2,1064.5 645.9,1062.6 646.5,1062.3 647.2,1066.0 647.9,1061.3 648.5,1061.7 649.2,1062.6 649.9,1067.6 650.6,1066.8 651.2,1061.9 651.9,1068.8 652.6,1065.8 653.2,1066.7 653.9,1064.4 654.6,1069.4 655.2,1066.5 655.9,1067.9 656.6,1063.1 657.2,1066.0 657.9,1064.3 658.6,1063.3 659.2,1061.9 659.9,1062.1 660.6,1061.5 661.3,1063.1 661.9,1065.3 662.6,1067.5 663.3,1064.3 663.9,1066.0 664.6,1067.1 665.3,1065.1 665.9,1067.5 666.6,1067.2 667.3,1067.1 667.9,1068.2 668.6,1069.3 669.3,1069.2 670.0,1068.4 670.6,1069.2 671.3,1066.5 672.0,1066.1 672.6,1068.9 673.3,1068.5 674.0,1071.5 674.6,1066.7 675.3,1065.3 676.0,1068.0 676.6,1067.1 677.3,1066.8 678.0,1072.0 678.7,1073.9 679.3,1071.8 680.0,1070.7 680.7,1073.4 681.3,1073.7 682.0,1072.0 682.7,1077.0 683.3,1076.5 684.0,1078.4 684.7,1074.8 685.3,1075.4 686.0,1074.5 686.7,1070.5 687.3,1077.9 688.0,1068.3 688.7,1069.6 689.4,1070.8 690.0,1068.3 690.7,1072.0 691.4,1070.0 692.0,1070.8 692.7,1070.8 693.4,1070.0 694.0,1069.5 694.7,1068.3 695.4,1068.5 696.0,1068.1 696.7,1064.7 697.4,1063.1 698.1,1062.1 698.7,1062.8 699.4,1061.2 700.1,1061.4 700.7,1060.1 701.4,1068.2 702.1,1064.0 702.7,1072.0 703.4,1073.0 704.1,1076.2 704.7,1077.4 705.4,1080.1 706.1,1081.2 706.8,1082.5 707.4,1082.7 708.1,1083.0 708.8,1076.3 709.4,1077.1 710.1,1077.1 710.8,1074.7 711.4,1068.5 712.1,1070.2 712.8,1069.8 713.4,1069.9 714.1,1065.4 714.8,1072.0 715.4,1067.4 716.1,1074.8 716.8,1071.5 717.5,1069.4 718.1,1070.0 718.8,1068.1 719.5,1065.8 720.1,1065.9 720.8,1066.2 721.5,1063.8 722.1,1066.9 722.8,1068.3 723.5,1069.3 724.1,1070.8 724.8,1072.7 725.5,1073.4 726.2,1076.4 726.8,1075.8 727.5,1078.0 728.2,1081.2 728.8,1083.0 729.5,1078.8 730.2,1076.4 730.8,1082.8 731.5,1079.9 732.2,1079.9 732.8,1076.5 733.5,1073.5 734.2,1070.0 734.9,1067.5 735.5,1070.4 736.2,1067.7 736.9,1064.8 737.5,1060.5 738.2,1060.4 738.9,1059.3 739.5,1059.4 740.2,1054.1 740.9,1060.5 741.5,1063.9 742.2,1060.8 742.9,1063.4 743.6,1065.6 744.2,1064.9 744.9,1069.6 745.6,1068.8 746.2,1071.1 746.9,1073.9 747.6,1074.5 748.2,1075.8 748.9,1074.6 749.6,1078.3 750.2,1074.7 750.9,1078.2 751.6,1074.8 752.2,1072.2 752.9,1072.8 753.6,1069.1 754.3,1068.1 754.9,1067.0 755.6,1067.3 756.3,1066.3 756.9,1065.3 757.6,1064.2 758.3,1062.9 758.9,1067.1 759.6,1068.6 760.3,1070.6 760.9,1071.1 761.6,1071.8 762.3,1074.7 763.0,1070.3 763.6,1072.5 764.3,1074.3 765.0,1069.6 765.6,1068.3 766.3,1068.9 767.0,1067.6 767.6,1067.6 768.3,1068.5 769.0,1064.3 769.6,1064.6 770.3,1061.4 771.0,1060.9 771.7,1062.0 772.3,1059.8 773.0,1063.3 773.7,1060.0 774.3,1060.4 775.0,1058.5 775.7,1059.6 776.3,1058.5 777.0,1059.6 777.7,1057.1 778.3,1060.8 779.0,1064.5 779.7,1057.5 780.3,1064.9 781.0,1061.3 781.7,1063.4 782.4,1059.5 783.0,1065.5 783.7,1059.1 784.4,1061.0 785.0,1064.1 785.7,1058.2 786.4,1055.8 787.0,1060.0 787.7,1058.1 788.4,1057.0 789.0,1056.4 789.7,1054.6 790.4,1059.7 791.1,1059.0 791.7,1053.6 792.4,1056.2 793.1,1055.6 793.7,1058.9 794.4,1055.1 795.1,1059.9 795.7,1056.3 796.4,1054.1 797.1,1054.6 797.7,1052.5 798.4,1057.0 799.1,1051.5 799.8,1049.1 800.4,1049.4 801.1,1051.9 801.8,1047.3 802.4,1047.0 803.1,1054.8 803.8,1055.6 804.4,1055.9 805.1,1058.8 805.8,1062.8 806.4,1056.2 807.1,1064.7 807.8,1061.6 808.5,1062.8 809.1,1060.6 809.8,1066.4 810.5,1058.6 811.1,1062.0 811.8,1054.6 812.5,1060.2 813.1,1061.9 813.8,1057.2 814.5,1056.1 815.1,1060.1 815.8,1061.4 816.5,1061.2 817.1,1056.9 817.8,1058.5 818.5,1054.7 819.2,1061.0 819.8,1056.4 820.5,1060.4 821.2,1057.5 821.8,1057.6 822.5,1061.7 823.2,1056.7 823.8,1061.1 824.5,1058.0 825.2,1057.3 825.8,1058.0 826.5,1062.9 827.2,1061.5 827.9,1061.9 828.5,1060.4 829.2,1066.3 829.9,1066.2 830.5,1064.6 831.2,1065.2 831.9,1056.7 832.5,1062.2 833.2,1063.8 833.9,1064.4 834.5,1064.0 835.2,1066.8 835.9,1066.1 836.6,1067.6 837.2,1067.7 837.9,1071.9 838.6,1071.5 839.2,1073.4 839.9,1078.6 840.6,1076.9 841.2,1077.8 841.9,1075.1 842.6,1077.1 843.2,1079.4 843.9,1077.3 844.6,1074.5 845.2,1072.1 845.9,1070.5 846.6,1069.1 847.3,1065.7 847.9,1059.7 848.6,1067.3 849.3,1064.3 849.9,1060.5 850.6,1062.7 851.3,1056.5 851.9,1061.4 852.6,1059.3 853.3,1061.3 853.9,1059.9 854.6,1062.6 855.3,1065.5 856.0,1068.7 856.6,1070.0 857.3,1072.1 858.0,1072.0 858.6,1078.2 859.3,1076.1 860.0,1075.6 860.6,1075.1 861.3,1072.6 862.0,1072.4 862.6,1069.4 863.3,1071.6 864.0,1069.7 864.7,1069.2 865.3,1065.4 866.0,1066.6 866.7,1065.8 867.3,1068.8 868.0,1063.6 868.7,1063.7 869.3,1070.0 870.0,1069.1 870.7,1066.4 871.3,1074.0 872.0,1077.2 872.7,1079.9 873.3,1076.6 874.0,1084.2 874.7,1085.1 875.4,1089.0 876.0,1088.8 876.7,1097.4 877.4,1091.5 878.0,1092.4 878.7,1092.3 879.4,1090.7 880.0,1089.0 880.7,1085.9 881.4,1085.5 882.0,1083.8 882.7,1079.5 883.4,1086.1 884.1,1082.8 884.7,1083.2 885.4,1083.8 886.1,1082.2 886.7,1082.8 887.4,1081.5 888.1,1085.5 888.7,1085.8 889.4,1081.7 890.1,1076.9 890.7,1079.3 891.4,1073.2 892.1,1067.9 892.8,1065.0 893.4,1067.1 894.1,1068.1 894.8,1063.1 895.4,1061.7 896.1,1061.8 896.8,1060.2 897.4,1060.5 898.1,1062.0 898.8,1059.8 899.4,1062.9 900.1,1058.7 900.8,1061.8 901.5,1060.7 902.1,1059.1 902.8,1059.3 903.5,1059.5 904.1,1064.1 904.8,1059.9 905.5,1064.9 906.1,1065.5 906.8,1063.7 907.5,1068.4 908.1,1060.7 908.8,1066.0 909.5,1065.2 910.1,1064.0 910.8,1064.4 911.5,1060.6 912.2,1059.7 912.8,1061.3 913.5,1057.9 914.2,1055.3 914.8,1058.0 915.5,1056.2 916.2,1054.7 916.8,1056.5 917.5,1053.4 918.2,1052.9 918.8,1054.6 919.5,1055.4 920.2,1056.9 920.9,1055.7 921.5,1063.2 922.2,1062.6 922.9,1063.0 923.5,1064.6 924.2,1060.2 924.9,1068.2 925.5,1065.0 926.2,1068.6 926.9,1065.3 927.5,1069.5 928.2,1066.1 928.9,1066.2 929.6,1069.1 930.2,1067.5 930.9,1062.3 931.6,1063.5 932.2,1065.4 932.9,1064.7 933.6,1066.9 934.2,1063.9 934.9,1061.3 935.6,1062.8 936.2,1063.7 936.9,1064.5 937.6,1064.3 938.2,1064.9 938.9,1062.6 939.6,1061.8 940.3,1064.0 940.9,1062.8 941.6,1062.6 942.3,1063.1 942.9,1066.5 943.6,1068.2 944.3,1068.3 944.9,1062.8 945.6,1068.5 946.3,1064.1 946.9,1065.6 947.6,1067.1 948.3,1062.7 949.0,1062.2 949.6,1062.4 950.3,1066.6 951.0,1064.7 951.6,1060.1 952.3,1061.9 953.0,1061.7 953.6,1062.1 954.3,1060.2 955.0,1064.9 955.6,1061.5 956.3,1064.2 957.0,1059.3 957.7,1063.6 958.3,1063.1 959.0,1065.6 959.7,1057.8 960.3,1064.6 961.0,1065.8 961.7,1064.6 962.3,1069.1 963.0,1072.1 963.7,1071.0 964.3,1072.2 965.0,1074.2 965.7,1072.9 966.4,1074.5 967.0,1072.5 967.7,1068.7 968.4,1066.2 969.0,1068.8 969.7,1065.6 970.4,1061.2 971.0,1061.2 971.7,1063.3 972.4,1056.6 973.0,1058.6 973.7,1062.8 974.4,1064.4 975.0,1061.9 975.7,1063.8 976.4,1067.5 977.1,1071.0 977.7,1068.6 978.4,1063.8 979.1,1070.1 979.7,1067.0 980.4,1064.9 981.1,1062.3 981.7,1066.0 982.4,1063.2 983.1,1062.9 983.7,1062.7 984.4,1063.0 985.1,1064.4 985.8,1066.8 986.4,1062.0 987.1,1064.8 987.8,1064.8 988.4,1069.8 989.1,1066.2 989.8,1063.9 990.4,1067.4 991.1,1066.2 991.8,1066.3 992.4,1066.8 993.1,1064.8 993.8,1063.0 994.5,1070.4 995.1,1065.6 995.8,1063.4 996.5,1066.3 997.1,1067.7 997.8,1061.5 998.5,1064.3 999.1,1066.0 999.8,1063.8 1000.5,1066.4 1001.1,1062.8 1001.8,1063.8 1002.5,1064.6 1003.1,1065.6 1003.8,1064.9 1004.5,1063.9 1005.2,1065.3 1005.8,1063.0 1006.5,1073.2 1007.2,1069.6 1007.8,1071.5 1008.5,1074.1 1009.2,1075.8 1009.8,1076.0 1010.5,1074.2 1011.2,1072.1 1011.8,1074.7 1012.5,1072.8 1013.2,1072.4 1013.9,1072.4 1014.5,1071.7 1015.2,1072.7 1015.9,1068.7 1016.5,1064.6 1017.2,1068.8 1017.9,1069.4 1018.5,1064.3 1019.2,1069.3 1019.9,1068.8 1020.5,1067.5 1021.2,1069.0 1021.9,1069.1 1022.6,1069.1 1023.2,1069.7 1023.9,1066.9 1024.6,1066.7 1025.2,1071.7 1025.9,1064.7 1026.6,1066.7 1027.2,1066.8 1027.9,1069.3 1028.6,1070.2 1029.2,1065.3 1029.9,1070.5 1030.6,1065.6 1031.2,1073.2 1031.9,1066.1 1032.6,1069.1 1033.3,1065.4 1033.9,1066.2 1034.6,1061.7 1035.3,1062.0 1035.9,1060.3 1036.6,1059.3 1037.3,1060.1 1037.9,1057.4 1038.6,1058.1 1039.3,1057.0 1039.9,1060.7 1040.6,1061.4 1041.3,1065.5 1042.0,1066.1 1042.6,1063.8 1043.3,1066.2 1044.0,1067.5 1044.6,1063.6 1045.3,1060.6 1046.0,1066.9 1046.6,1062.0 1047.3,1061.6 1048.0,1064.8 1048.6,1057.9 1049.3,1060.3 1050.0,1056.0 1050.7,1061.1 1051.3,1061.2 1052.0,1058.9 1052.7,1058.7 1053.3,1059.7 1054.0,1058.9 1054.7,1061.6 1055.3,1056.5 1056.0,1055.0 1056.7,1053.2 1057.3,1048.4 1058.0,1048.9 1058.7,1045.5 1059.4,1047.1 1060.0,1041.2 1060.7,1042.4 1061.4,1044.5 1062.0,1039.2 1062.7,1040.0 1063.4,1045.1 1064.0,1040.4 1064.7,1043.4 1065.4,1044.7 1066.0,1042.7 1066.7,1042.2 1067.4,1049.7 1068.0,1046.1 1068.7,1048.8 1069.4,1046.4 1070.1,1048.6 1070.7,1045.0 1071.4,1044.7 1072.1,1045.3 1072.7,1046.4 1073.4,1047.0 1074.1,1048.4 1074.7,1051.1 1075.4,1050.3 1076.1,1054.4 1076.7,1052.2 1077.4,1055.7 1078.1,1057.6 1078.8,1058.8 1079.4,1051.4 1080.1,1059.0 1080.8,1051.9 1081.4,1058.4 1082.1,1055.7 1082.8,1056.7 1083.4,1054.4 1084.1,1058.6 1084.8,1058.2 1085.4,1055.7 1086.1,1055.3 1086.8,1058.0 1087.5,1058.0 1088.1,1057.2 1088.8,1054.9 1089.5,1056.0 1090.1,1058.4 1090.8,1058.8 1091.5,1059.8 1092.1,1058.2 1092.8,1056.6 1093.5,1058.7 1094.1,1059.0 1094.8,1057.0 1095.5,1058.9 1096.1,1056.1 1096.8,1058.0 1097.5,1055.6 1098.2,1060.2 1098.8,1057.2 1099.5,1054.1 1100.2,1049.8 1100.8,1049.0 1101.5,1052.3 1102.2,1050.2 1102.8,1051.1 1103.5,1047.4 1104.2,1047.9 1104.8,1051.6 1105.5,1051.4 1106.2,1049.6 1106.9,1051.1 1107.5,1054.7 1108.2,1052.6 1108.9,1054.9 1109.5,1057.3 1110.2,1054.8 1110.9,1054.8 1111.5,1053.7 1112.2,1057.8 1112.9,1052.6 1113.5,1053.5 1114.2,1055.8 1114.9,1052.9 1115.6,1057.9 1116.2,1054.5 1116.9,1056.6 1117.6,1054.6 1118.2,1054.2 1118.9,1054.2 1119.6,1049.5 1120.2,1050.7 1120.9,1051.4 1121.6,1056.4 1122.2,1053.1 1122.9,1052.5 1123.6,1048.7 1124.2,1052.7 1124.9,1053.8 1125.6,1053.8 1126.3,1059.0 1126.9,1052.7 1127.6,1055.3 1128.3,1059.0 1128.9,1059.3 1129.6,1062.7 1130.3,1064.4 1130.9,1063.5 1131.6,1063.5 1132.3,1063.6 1132.9,1063.7 1133.6,1060.0 1134.3,1059.2 1135.0,1062.3 1135.6,1058.6 1136.3,1057.3 1137.0,1059.5 1137.6,1058.4 1138.3,1059.8 1139.0,1060.1 1139.6,1062.3 1140.3,1063.7 1141.0,1061.0 1141.6,1061.0 1142.3,1067.3 1143.0,1063.1 1143.7,1061.5 1144.3,1060.8 1145.0,1064.3 1145.7,1062.6 1146.3,1059.6 1147.0,1060.8 1147.7,1060.2 1148.3,1064.3 1149.0,1062.9 1149.7,1062.7 1150.3,1060.5 1151.0,1063.2 1151.7,1065.1 1152.4,1064.1 1153.0,1065.8 1153.7,1063.3 1154.4,1064.1 1155.0,1063.1 1155.7,1060.6 1156.4,1064.3 1157.0,1062.4 1157.7,1063.7 1158.4,1060.4 1159.0,1061.0 1159.7,1063.5 1160.4,1062.6 1161.0,1065.7 1161.7,1065.3 1162.4,1066.7 1163.1,1065.1 1163.7,1061.2 1164.4,1065.3 1165.1,1062.0 1165.7,1062.2 1166.4,1064.5 1167.1,1065.3 1167.7,1068.8 1168.4,1074.0 1169.1,1070.9 1169.7,1074.7 1170.4,1073.0 1171.1,1075.5 1171.8,1074.5 1172.4,1075.2 1173.1,1078.9 1173.8,1076.9 1174.4,1076.4 1175.1,1072.9 1175.8,1076.8 1176.4,1071.6 1177.1,1069.0 1177.8,1068.8 1178.4,1068.9 1179.1,1068.0 1179.8,1068.9 1180.5,1063.6 1181.1,1065.2 1181.8,1069.8 1182.5,1072.1 1183.1,1067.1 1183.8,1069.0 1184.5,1066.7 1185.1,1068.7 1185.8,1068.8 1186.5,1070.4 1187.1,1067.9 1187.8,1071.8 1188.5,1069.3 1189.1,1068.4 1189.8,1070.4 1190.5,1067.8 1191.2,1065.8 1191.8,1068.4 1192.5,1072.8 1193.2,1068.7 1193.8,1069.5 1194.5,1068.1 1195.2,1068.3 1195.8,1070.2 1196.5,1064.3 1197.2,1067.9 1197.8,1069.8 1198.5,1071.0 1199.2,1074.8 1199.9,1076.8 1200.5,1072.8 1201.2,1071.7 1201.9,1071.6 1202.5,1072.6 1203.2,1066.9 1203.9,1067.5 1204.5,1068.5 1205.2,1068.5 1205.9,1063.9 1206.5,1068.3 1207.2,1063.8 1207.9,1068.0 1208.6,1067.4 1209.2,1060.2 1209.9,1065.0 1210.6,1063.7 1211.2,1061.6 1211.9,1064.8 1212.6,1067.3 1213.2,1065.0 1213.9,1062.8 1214.6,1063.2 1215.2,1064.9 1215.9,1066.1 1216.6,1071.3 1217.3,1070.2 1217.9,1069.9 1218.6,1072.1 1219.3,1070.6 1219.9,1071.0 1220.6,1069.6 1221.3,1070.7 1221.9,1072.9 1222.6,1071.5 1223.3,1078.5 1223.9,1076.6 1224.6,1076.2 1225.3,1079.9 1225.9,1075.7 1226.6,1079.3 1227.3,1076.1 1228.0,1078.0 1228.6,1071.0 1229.3,1069.4 1230.0,1066.8 1230.6,1064.6 1231.3,1066.9 1232.0,1063.9 1232.6,1067.0 1233.3,1065.5 1234.0,1069.4 1234.6,1062.3 1235.3,1068.2 1236.0,1066.9 1236.7,1066.1 1237.3,1063.8 1238.0,1067.6 1238.7,1062.2 1239.3,1062.7 1240.0,1060.1 1240.7,1058.6 1241.3,1058.2 1242.0,1058.1 1242.7,1053.6 1243.3,1054.4 1244.0,1052.6 1244.7,1056.9 1245.4,1055.4 1246.0,1057.0 1246.7,1061.4 1247.4,1061.6 1248.0,1063.9 1248.7,1064.2 1249.4,1066.7 1250.0,1067.5 1250.7,1066.5 1251.4,1070.5 1252.0,1070.5 1252.7,1071.3 1253.4,1072.5 1254.0,1070.4 1254.7,1068.4 1255.4,1071.5 1256.1,1071.1 1256.7,1064.8 1257.4,1066.1 1258.1,1062.8 1258.7,1059.4 1259.4,1058.1 1260.1,1058.8 1260.7,1058.7 1261.4,1059.6 1262.1,1061.2 1262.7,1060.7 1263.4,1066.5 1264.1,1064.1 1264.8,1065.8 1265.4,1071.1 1266.1,1071.6 1266.8,1073.6 1267.4,1071.3 1268.1,1069.7 1268.8,1073.2 1269.4,1070.3 1270.1,1069.6 1270.8,1067.1 1271.4,1068.5 1272.1,1061.4 1272.8,1065.8 1273.5,1059.2 1274.1,1063.8 1274.8,1057.9 1275.5,1061.9 1276.1,1065.3 1276.8,1059.9 1277.5,1058.5 1278.1,1065.5 1278.8,1061.6 1279.5,1061.2 1280.1,1067.2 1280.8,1059.9 1281.5,1063.6 1282.2,1064.7 1282.8,1066.5 1283.5,1064.0 1284.2,1069.8 1284.8,1070.2 1285.5,1067.9 1286.2,1067.1 1286.8,1064.8 1287.5,1069.1 1288.2,1066.9 1288.8,1069.8 1289.5,1070.9 1290.2,1069.0 1290.8,1064.8 1291.5,1067.3 1292.2,1072.1 1292.9,1070.1 1293.5,1072.5 1294.2,1065.2 1294.9,1069.7 1295.5,1069.9 1296.2,1067.4 1296.9,1070.0 1297.5,1074.0 1298.2,1074.0 1298.9,1072.8 1299.5,1075.6 1300.2,1078.4 1300.9,1074.9 1301.6,1078.9 1302.2,1081.6 1302.9,1079.3 1303.6,1084.4 1304.2,1082.4 1304.9,1085.4 1305.6,1085.3 1306.2,1083.8 1306.9,1082.2 1307.6,1080.7 1308.2,1081.2 1308.9,1079.9 1309.6,1080.5 1310.3,1075.3 1310.9,1073.8 1311.6,1074.0 1312.3,1068.8 1312.9,1066.9 1313.6,1067.6 1314.3,1063.4 1314.9,1063.6 1315.6,1064.3 1316.3,1062.8 1316.9,1061.3 1317.6,1061.2 1318.3,1064.4 1318.9,1067.9 1319.6,1068.5 1320.3,1070.9 1321.0,1070.9 1321.6,1069.4 1322.3,1069.8 1323.0,1073.8 1323.6,1076.3 1324.3,1077.1 1325.0,1082.0 1325.6,1079.6 1326.3,1083.2 1327.0,1084.1 1327.6,1079.3 1328.3,1082.0 1329.0,1085.1 1329.7,1083.6 1330.3,1081.3 1331.0,1077.6 1331.7,1077.2 1332.3,1077.5 1333.0,1078.8 1333.7,1076.3 1334.3,1074.5 1335.0,1074.7 1335.7,1075.5 1336.3,1070.1 1337.0,1071.4 1337.7,1073.2 1338.4,1075.3 1339.0,1074.7 1339.7,1070.7 1340.4,1072.1 1341.0,1070.3 1341.7,1070.6 1342.4,1071.3 1343.0,1069.7 1343.7,1068.9 1344.4,1067.4 1345.0,1066.6 1345.7,1069.9 1346.4,1071.5 1347.0,1073.4 1347.7,1071.4 1348.4,1072.3 1349.1,1076.6 1349.7,1074.6 1350.4,1074.9 1351.1,1071.0 1351.7,1069.9 1352.4,1068.6 1353.1,1073.0 1353.7,1069.4 1354.4,1069.4 1355.1,1072.9 1355.7,1078.7 1356.4,1077.8 1357.1,1079.6 1357.8,1080.4 1358.4,1080.8 1359.1,1080.9 1359.8,1078.4 1360.4,1084.3 1361.1,1080.0 1361.8,1082.1 1362.4,1075.6 1363.1,1079.2 1363.8,1075.2 1364.4,1074.7 1365.1,1077.7 1365.8,1079.2 1366.5,1079.8 1367.1,1079.6 1367.8,1076.1 1368.5,1078.0 1369.1,1074.8 1369.8,1074.6 1370.5,1075.9 1371.1,1075.1 1371.8,1077.1 1372.5,1071.8 1373.1,1078.3 1373.8,1075.4 1374.5,1080.5 1375.2,1080.9 1375.8,1077.4 1376.5,1081.0 1377.2,1083.8 1377.8,1082.1 1378.5,1083.6 1379.2,1085.8 1379.8,1089.2 1380.5,1090.8 1381.2,1089.3 1381.8,1092.8 1382.5,1094.7 1383.2,1093.8 1383.8,1090.1 1384.5,1089.1 1385.2,1090.3 1385.9,1090.0 1386.5,1087.9 1387.2,1085.2 1387.9,1083.3 1388.5,1087.5 1389.2,1084.7 1389.9,1089.0 1390.5,1083.2 1391.2,1085.0 1391.9,1084.1 1392.5,1088.5 1393.2,1086.2 1393.9,1081.6 1394.6,1077.5 1395.2,1082.8 1395.9,1080.1 1396.6,1077.2 1397.2,1076.4 1397.9,1080.3 1398.6,1079.1 1399.2,1080.0 1399.9,1080.6 1400.6,1079.2 1401.2,1079.7 1401.9,1082.0 1402.6,1081.1 1403.3,1081.5 1403.9,1084.2 1404.6,1079.7 1405.3,1086.9 1405.9,1085.7 1406.6,1083.2 1407.3,1084.0 1407.9,1086.1 1408.6,1083.8 1409.3,1077.9 1409.9,1078.4 1410.6,1079.8 1411.3,1082.3 1411.9,1079.7 1412.6,1077.6 1413.3,1079.4 1414.0,1078.8 1414.6,1078.9 1415.3,1081.3 1416.0,1077.2 1416.6,1084.7 1417.3,1084.8 1418.0,1083.7 1418.6,1083.5 1419.3,1083.3 1420.0,1086.5 1420.6,1086.2 1421.3,1085.9 1422.0,1088.4 1422.7,1079.6 1423.3,1081.4 1424.0,1080.1 1424.7,1082.6 1425.3,1079.4 1426.0,1077.7 1426.7,1080.3 1427.3,1081.5 1428.0,1085.1 1428.7,1083.9 1429.3,1084.0 1430.0,1085.2 1430.7,1085.7 1431.4,1089.2 1432.0,1090.4 1432.7,1088.6 1433.4,1088.7 1434.0,1091.5 1434.7,1088.4 1435.4,1088.5 1436.0,1084.6 1436.7,1085.0 1437.4,1081.4 1438.0,1082.6 1438.7,1085.9 1439.4,1087.5 1440.1,1084.2 1440.7,1082.0 1441.4,1084.0 1442.1,1085.3 1442.7,1081.6 1443.4,1082.7 1444.1,1079.6 1444.7,1076.3 1445.4,1076.3 1446.1,1077.4 1446.7,1082.9 1447.4,1080.2 1448.1,1079.8 1448.7,1082.3 1449.4,1083.8 1450.1,1084.0 1450.8,1085.9 1451.4,1086.5 1452.1,1089.0 1452.8,1090.6 1453.4,1089.6 1454.1,1085.2 1454.8,1085.5 1455.4,1081.3 1456.1,1078.7 1456.8,1079.3 1457.4,1078.7 1458.1,1076.0 1458.8,1076.8 1459.5,1076.1 1460.1,1075.8 1460.8,1074.0 1461.5,1071.9 1462.1,1078.8 1462.8,1074.7 1463.5,1077.6 1464.1,1077.5 1464.8,1076.0 1465.5,1080.5 1466.1,1078.2 1466.8,1076.7 1467.5,1075.6 1468.2,1074.1 1468.8,1072.9 1469.5,1075.8 1470.2,1072.9 1470.8,1072.1 1471.5,1073.4 1472.2,1071.5 1472.8,1073.9 1473.5,1072.1 1474.2,1073.7 1474.8,1078.3 1475.5,1076.9 1476.2,1081.1 1476.8,1082.2 1477.5,1081.9 1478.2,1078.6 1478.9,1078.8 1479.5,1078.1 1480.2,1076.2 1480.9,1078.9 1481.5,1073.7 1482.2,1071.6 1482.9,1072.1 1483.5,1072.6 1484.2,1069.5 1484.9,1074.8 1485.5,1075.9 1486.2,1074.4 1486.9,1078.2 1487.6,1074.2 1488.2,1076.7 1488.9,1077.6 1489.6,1077.9 1490.2,1079.7 1490.9,1076.3 1491.6,1074.4 1492.2,1076.4 1492.9,1076.0 1493.6,1076.3 1494.2,1074.5 1494.9,1075.4 1495.6,1073.7 1496.3,1075.9 1496.9,1073.5 1497.6,1073.6 1498.3,1077.5 1498.9,1074.2 1499.6,1076.5 1500.3,1078.7 1500.9,1078.3 1501.6,1082.4 1502.3,1081.2 1502.9,1086.1 1503.6,1082.4 1504.3,1084.0 1504.9,1087.5 1505.6,1090.3 1506.3,1090.3 1507.0,1084.5 1507.6,1085.0 1508.3,1082.7 1509.0,1078.1 1509.6,1082.6 1510.3,1079.5 1511.0,1082.5 1511.6,1080.2 1512.3,1079.0 1513.0,1079.4 1513.6,1081.4 1514.3,1083.7 1515.0,1082.7 1515.7,1089.8 1516.3,1084.7 1517.0,1081.5 1517.7,1083.0 1518.3,1083.7 1519.0,1080.8 1519.7,1077.7 1520.3,1075.8 1521.0,1074.5 1521.7,1073.0 1522.3,1073.8 1523.0,1074.9 1523.7,1072.7 1524.4,1076.5 1525.0,1073.3 1525.7,1071.0 1526.4,1071.3 1527.0,1074.0 1527.7,1067.7 1528.4,1072.1 1529.0,1077.9 1529.7,1075.8 1530.4,1073.4 1531.0,1077.0 1531.7,1077.7 1532.4,1084.8 1533.1,1078.6 1533.7,1079.6 1534.4,1079.4 1535.1,1076.8 1535.7,1072.4 1536.4,1077.9 1537.1,1078.7 1537.7,1076.4 1538.4,1078.2 1539.1,1079.0 1539.7,1079.4 1540.4,1075.3 1541.1,1082.3 1541.7,1081.5 1542.4,1081.5 1543.1,1079.7 1543.8,1079.0 1544.4,1077.0 1545.1,1077.7 1545.8,1077.5" stroke="#a05aa5" stroke-width="6.8"/>
<path d="M273.32 703.92L249.72 690.62L249.72 717.22ZM334.17 1075.43L310.57 1062.13L310.57 1088.73ZM395.02 1068.92L371.42 1055.62L371.42 1082.22ZM455.86 1062.42L432.26 1049.12L432.26 1075.72ZM516.71 1075.27L493.11 1061.97L493.11 1088.57ZM577.56 1074.92L553.96 1061.62L553.96 1088.22ZM638.41 1069.97L614.81 1056.67L614.81 1083.27ZM699.25 1077.63L675.65 1064.33L675.65 1090.93ZM760.10 1069.46L736.50 1056.16L736.50 1082.76ZM820.95 1062.05L797.35 1048.75L797.35 1075.35ZM881.79 1065.98L858.19 1052.68L858.19 1079.28ZM942.64 1069.50L919.04 1056.20L919.04 1082.80ZM1003.49 1069.49L979.89 1056.19L979.89 1082.79ZM1064.34 1059.99L1040.74 1046.69L1040.74 1073.29ZM1125.18 1055.25L1101.58 1041.95L1101.58 1068.55ZM1186.03 1074.93L1162.43 1061.63L1162.43 1088.23ZM1246.88 1064.76L1223.28 1051.46L1223.28 1078.06ZM1307.73 1070.78L1284.13 1057.48L1284.13 1084.08ZM1368.57 1070.82L1344.97 1057.52L1344.97 1084.12ZM1429.42 1078.87L1405.82 1065.57L1405.82 1092.17ZM1490.27 1077.61L1466.67 1064.31L1466.67 1090.91ZM1551.12 1074.80L1527.52 1061.50L1527.52 1088.10Z" stroke="#a05aa5" stroke-width="6.2" stroke-linejoin="miter" stroke-miterlimit="10"/>
<polyline points="207.6,266.0 208.3,261.3 209.0,256.5 209.6,251.8 210.3,247.6 211.0,245.7 211.6,243.8 212.3,241.8 213.0,239.9 213.6,238.0 214.3,239.8 215.0,245.5 215.7,251.1 216.3,256.7 217.0,262.5 217.7,270.1 218.3,277.7 219.0,285.3 219.7,292.9 220.3,300.5 221.0,308.1 221.7,315.7 222.3,323.3 223.0,330.9 223.7,338.5 224.4,346.1 225.0,353.7 225.7,361.3 226.4,368.9 227.0,376.5 227.7,384.1 228.4,391.7 229.0,399.3 229.7,406.9 230.4,414.5 231.0,422.1 231.7,429.6 232.4,436.3 233.1,442.9 233.7,449.4 234.4,456.0 235.1,462.6 235.7,469.1 236.4,475.7 237.1,482.2 237.7,488.8 238.4,495.4 239.1,501.9 239.7,508.5 240.4,515.0 241.1,521.6 241.7,528.2 242.4,534.7 243.1,541.3 243.8,547.8 244.4,554.4 245.1,561.1 245.8,568.0 246.4,575.0 247.1,581.9 247.8,588.9 248.4,595.9 249.1,602.8 249.8,609.8 250.4,616.7 251.1,623.7 251.8,630.7 252.5,637.6 253.1,644.6 253.8,652.3 254.5,662.8 255.1,673.2 255.8,683.7 256.5,694.2 257.1,704.6 257.8,715.1 258.5,725.6 259.1,736.0 259.8,746.5 260.5,756.9 261.2,767.4 261.8,777.9 262.5,788.3 263.2,798.8 263.8,809.2 264.5,819.7 265.2,830.2 265.8,840.6 266.5,851.1 267.2,861.5 267.8,867.5 268.5,873.4 269.2,879.2 269.9,885.0 270.5,890.8 271.2,896.6 271.9,902.4 272.5,908.2 273.2,914.0 273.9,919.8 274.5,925.6 275.2,931.4 275.9,936.7 276.5,941.8 277.2,946.9 277.9,952.0 278.5,957.1 279.2,962.1 279.9,967.1 280.6,970.7 281.2,974.3 281.9,977.9 282.6,981.5 283.2,985.1 283.9,988.6 284.6,991.6 285.2,994.1 285.9,996.6 286.6,999.1 287.2,1001.7 287.9,1004.2 288.6,1005.5 289.3,1007.1 289.9,1008.6 290.6,1010.5 291.3,1010.8 291.9,1013.7 292.6,1017.0 293.3,1014.8 293.9,1015.4 294.6,1013.6 295.3,1014.5 295.9,1012.6 296.6,1010.3 297.3,1010.8 298.0,1010.8 298.6,1011.9 299.3,1010.0 300.0,1010.8 300.6,1012.4 301.3,1011.2 302.0,1008.0 302.6,1004.7 303.3,1007.5 304.0,1007.6 304.6,1009.0 305.3,1006.8 306.0,1011.9 306.6,1005.5 307.3,1007.6 308.0,1004.8 308.7,1005.2 309.3,1007.3 310.0,1008.9 310.7,1010.4 311.3,1002.9 312.0,1011.8 312.7,1012.6 313.3,1012.3 314.0,1011.3 314.7,1009.4 315.3,1010.9 316.0,1012.6 316.7,1008.3 317.4,1012.1 318.0,1012.5 318.7,1012.1 319.4,1017.1 320.0,1013.2 320.7,1013.9 321.4,1017.1 322.0,1017.1 322.7,1022.0 323.4,1016.4 324.0,1017.2 324.7,1020.3 325.4,1020.6 326.1,1015.9 326.7,1020.2 327.4,1012.8 328.1,1018.1 328.7,1013.2 329.4,1013.0 330.1,1016.6 330.7,1011.5 331.4,1009.0 332.1,1009.5 332.7,1011.7 333.4,1007.1 334.1,1004.8 334.8,1006.6 335.4,1003.8 336.1,1005.4 336.8,1006.1 337.4,1008.9 338.1,1006.7 338.8,1008.3 339.4,1009.1 340.1,1009.1 340.8,1001.4 341.4,1004.0 342.1,1001.2 342.8,1004.9 343.4,1004.5 344.1,1004.8 344.8,1004.9 345.5,1005.2 346.1,1004.9 346.8,1011.2 347.5,1009.3 348.1,1010.2 348.8,1011.0 349.5,1012.2 350.1,1014.9 350.8,1011.2 351.5,1013.7 352.1,1009.7 352.8,1012.9 353.5,1012.6 354.2,1012.8 354.8,1016.0 355.5,1013.0 356.2,1011.6 356.8,1009.9 357.5,1007.3 358.2,1005.2 358.8,1002.3 359.5,1000.7 360.2,999.6 360.8,999.3 361.5,995.7 362.2,1000.1 362.9,1000.9 363.5,1003.3 364.2,1001.8 364.9,1004.0 365.5,1009.3 366.2,1007.9 366.9,1011.7 367.5,1010.3 368.2,1009.9 368.9,1009.7 369.5,1011.5 370.2,1011.7 370.9,1009.9 371.5,1015.1 372.2,1012.0 372.9,1009.9 373.6,1014.6 374.2,1013.1 374.9,1009.8 375.6,1009.3 376.2,1011.2 376.9,1013.3 377.6,1009.2 378.2,1014.7 378.9,1011.9 379.6,1014.4 380.2,1012.3 380.9,1013.1 381.6,1012.7 382.3,1013.0 382.9,1007.7 383.6,1011.7 384.3,1004.1 384.9,1006.3 385.6,1006.4 386.3,1004.8 386.9,1006.6 387.6,1001.8 388.3,1005.5 388.9,1008.2 389.6,1007.0 390.3,1005.6 391.0,1009.2 391.6,1010.2 392.3,1008.7 393.0,1014.1 393.6,1010.7 394.3,1009.8 395.0,1011.9 395.6,1010.1 396.3,1010.7 397.0,1011.5 397.6,1010.4 398.3,1012.9 399.0,1013.0 399.6,1015.6 400.3,1011.9 401.0,1014.8 401.7,1015.9 402.3,1016.5 403.0,1012.2 403.7,1014.8 404.3,1018.1 405.0,1019.0 405.7,1018.4 406.3,1019.0 407.0,1021.4 407.7,1018.3 408.3,1017.3 409.0,1021.5 409.7,1019.1 410.4,1016.6 411.0,1014.3 411.7,1017.5 412.4,1012.1 413.0,1009.2 413.7,1011.7 414.4,1004.7 415.0,1006.2 415.7,1007.1 416.4,1005.1 417.0,1005.1 417.7,1008.1 418.4,1006.1 419.1,1009.7 419.7,1013.2 420.4,1010.8 421.1,1016.7 421.7,1013.7 422.4,1013.6 423.1,1011.9 423.7,1012.8 424.4,1009.2 425.1,1009.2 425.7,1010.0 426.4,1008.9 427.1,1002.4 427.8,1007.4 428.4,1002.9 429.1,1003.6 429.8,1002.2 430.4,1001.6 431.1,998.8 431.8,1000.2 432.4,1000.3 433.1,996.6 433.8,997.6 434.4,999.6 435.1,1000.9 435.8,1000.5 436.4,1001.7 437.1,1003.5 437.8,1003.1 438.5,1005.4 439.1,1004.7 439.8,1005.0 440.5,1001.1 441.1,1002.5 441.8,1007.3 442.5,1008.8 443.1,1009.0 443.8,1009.3 444.5,1009.4 445.1,1011.9 445.8,1010.5 446.5,1011.6 447.2,1014.8 447.8,1009.0 448.5,1010.6 449.2,1011.2 449.8,1007.5 450.5,1008.6 451.2,1012.5 451.8,1010.8 452.5,1008.9 453.2,1011.4 453.8,1006.5 454.5,1012.4 455.2,1008.6 455.9,1008.0 456.5,1011.8 457.2,1011.2 457.9,1010.9 458.5,1010.5 459.2,1007.1 459.9,1006.5 460.5,1010.4 461.2,1011.8 461.9,1007.7 462.5,1008.8 463.2,1004.7 463.9,1004.2 464.5,1006.4 465.2,1007.4 465.9,1007.0 466.6,1007.5 467.2,1003.1 467.9,1003.9 468.6,1005.5 469.2,1001.6 469.9,1003.0 470.6,1003.9 471.2,1004.3 471.9,1006.9 472.6,1006.8 473.2,1005.8 473.9,1002.7 474.6,1009.4 475.3,1009.8 475.9,1008.5 476.6,1007.6 477.3,1006.8 477.9,1007.2 478.6,1002.4 479.3,1001.8 479.9,998.5 480.6,998.6 481.3,996.0 481.9,994.8 482.6,991.4 483.3,994.7 484.0,996.7 484.6,988.9 485.3,998.3 486.0,996.7 486.6,996.6 487.3,999.8 488.0,999.9 488.6,1001.3 489.3,1005.3 490.0,1003.5 490.6,1004.4 491.3,1003.6 492.0,1004.1 492.7,1002.7 493.3,1004.3 494.0,1002.8 494.7,1006.3 495.3,1003.0 496.0,1004.1 496.7,1004.2 497.3,1002.4 498.0,997.5 498.7,1000.8 499.3,992.1 500.0,997.4 500.7,988.3 501.3,990.8 502.0,992.0 502.7,990.8 503.4,988.5 504.0,990.7 504.7,995.7 505.4,993.5 506.0,1000.1 506.7,1003.2 507.4,1005.6 508.0,1005.3 508.7,1006.4 509.4,1007.2 510.0,1014.8 510.7,1012.6 511.4,1012.2 512.1,1011.8 512.7,1013.2 513.4,1006.6 514.1,1011.4 514.7,1007.6 515.4,1003.4 516.1,1009.9 516.7,1006.1 517.4,1009.0 518.1,1007.2 518.7,1008.7 519.4,1013.4 520.1,1011.2 520.8,1011.5 521.4,1007.5 522.1,1012.4 522.8,1009.1 523.4,1011.3 524.1,1008.5 524.8,1011.7 525.4,1012.6 526.1,1009.2 526.8,1013.5 527.4,1011.7 528.1,1016.6 528.8,1015.4 529.4,1015.2 530.1,1021.6 530.8,1017.4 531.5,1015.0 532.1,1017.3 532.8,1015.5 533.5,1016.7 534.1,1010.6 534.8,1015.1 535.5,1008.4 536.1,1007.1 536.8,1004.9 537.5,1004.6 538.1,1008.1 538.8,1003.9 539.5,1000.9 540.2,1002.4 540.8,1003.1 541.5,1004.5 542.2,1001.9 542.8,1003.1 543.5,1008.9 544.2,1002.9 544.8,1003.7 545.5,1001.4 546.2,1006.3 546.8,1004.1 547.5,1009.6 548.2,1009.2 548.9,1009.1 549.5,1007.1 550.2,1007.9 550.9,1008.0 551.5,1009.0 552.2,1008.0 552.9,1007.5 553.5,1008.6 554.2,1008.2 554.9,1007.1 555.5,1009.2 556.2,1008.6 556.9,1004.5 557.5,1008.9 558.2,1004.5 558.9,1005.6 559.6,1006.9 560.2,1000.7 560.9,1005.6 561.6,1007.8 562.2,1010.0 562.9,1010.9 563.6,1013.0 564.2,1009.5 564.9,1012.0 565.6,1016.3 566.2,1012.0 566.9,1016.0 567.6,1017.5 568.3,1019.3 568.9,1020.9 569.6,1020.0 570.3,1017.9 570.9,1017.6 571.6,1020.1 572.3,1019.9 572.9,1018.8 573.6,1017.5 574.3,1016.8 574.9,1014.9 575.6,1018.7 576.3,1021.3 577.0,1018.6 577.6,1023.0 578.3,1025.1 579.0,1030.3 579.6,1027.5 580.3,1028.1 581.0,1024.3 581.6,1022.8 582.3,1020.2 583.0,1018.3 583.6,1021.9 584.3,1019.0 585.0,1018.2 585.7,1013.0 586.3,1011.8 587.0,1013.5 587.7,1021.6 588.3,1021.9 589.0,1018.2 589.7,1022.4 590.3,1023.7 591.0,1022.4 591.7,1024.1 592.3,1028.3 593.0,1028.7 593.7,1029.8 594.3,1029.2 595.0,1029.0 595.7,1029.5 596.4,1027.4 597.0,1029.8 597.7,1025.1 598.4,1023.7 599.0,1020.3 599.7,1017.3 600.4,1017.0 601.0,1015.4 601.7,1014.0 602.4,1017.3 603.0,1020.1 603.7,1017.2 604.4,1017.1 605.1,1016.3 605.7,1015.0 606.4,1019.1 607.1,1018.8 607.7,1015.7 608.4,1017.3 609.1,1015.4 609.7,1020.2 610.4,1017.9 611.1,1018.8 611.7,1021.4 612.4,1013.0 613.1,1017.5 613.8,1015.9 614.4,1013.2 615.1,1012.2 615.8,1013.4 616.4,1008.8 617.1,1008.7 617.8,1013.9 618.4,1013.4 619.1,1013.5 619.8,1015.4 620.4,1014.9 621.1,1014.7 621.8,1015.1 622.4,1015.8 623.1,1013.6 623.8,1010.7 624.5,1013.0 625.1,1013.5 625.8,1012.5 626.5,1014.1 627.1,1013.5 627.8,1015.0 628.5,1013.3 629.1,1012.6 629.8,1013.9 630.5,1014.2 631.1,1011.2 631.8,1010.2 632.5,1014.6 633.2,1011.0 633.8,1013.1 634.5,1011.9 635.2,1013.9 635.8,1016.9 636.5,1018.3 637.2,1013.1 637.8,1014.0 638.5,1011.4 639.2,1020.7 639.8,1024.1 640.5,1022.8 641.2,1022.7 641.9,1025.6 642.5,1022.1 643.2,1025.0 643.9,1025.5 644.5,1024.0 645.2,1021.5 645.9,1017.6 646.5,1016.6 647.2,1014.4 647.9,1019.4 648.5,1018.0 649.2,1015.5 649.9,1016.1 650.6,1017.5 651.2,1016.7 651.9,1020.3 652.6,1021.5 653.2,1022.7 653.9,1023.2 654.6,1019.4 655.2,1025.3 655.9,1023.9 656.6,1024.4 657.2,1033.2 657.9,1028.3 658.6,1029.3 659.2,1029.1 659.9,1027.5 660.6,1031.5 661.3,1023.1 661.9,1026.0 662.6,1021.9 663.3,1023.8 663.9,1021.4 664.6,1018.6 665.3,1014.6 665.9,1018.8 666.6,1019.0 667.3,1018.3 667.9,1016.4 668.6,1018.3 669.3,1015.7 670.0,1018.2 670.6,1019.2 671.3,1018.9 672.0,1018.6 672.6,1021.4 673.3,1021.4 674.0,1021.8 674.6,1027.0 675.3,1024.9 676.0,1024.1 676.6,1023.9 677.3,1025.6 678.0,1023.8 678.7,1023.0 679.3,1025.0 680.0,1024.8 680.7,1022.8 681.3,1022.3 682.0,1026.8 682.7,1023.1 683.3,1025.7 684.0,1024.1 684.7,1022.6 685.3,1022.3 686.0,1026.3 686.7,1022.0 687.3,1022.5 688.0,1021.4 688.7,1022.0 689.4,1019.4 690.0,1020.1 690.7,1015.8 691.4,1017.8 692.0,1016.1 692.7,1014.8 693.4,1012.4 694.0,1015.9 694.7,1017.6 695.4,1014.0 696.0,1013.7 696.7,1017.8 697.4,1017.2 698.1,1018.8 698.7,1020.3 699.4,1016.4 700.1,1020.5 700.7,1016.7 701.4,1016.1 702.1,1018.0 702.7,1022.1 703.4,1018.5 704.1,1021.4 704.7,1019.2 705.4,1022.6 706.1,1021.8 706.8,1022.6 707.4,1019.1 708.1,1016.8 708.8,1010.8 709.4,1012.9 710.1,1011.8 710.8,1009.1 711.4,1008.3 712.1,1009.1 712.8,1010.4 713.4,1008.2 714.1,1011.5 714.8,1014.3 715.4,1015.6 716.1,1014.4 716.8,1013.2 717.5,1018.3 718.1,1019.2 718.8,1021.0 719.5,1018.3 720.1,1015.4 720.8,1017.8 721.5,1016.4 722.1,1014.8 722.8,1012.8 723.5,1011.3 724.1,1012.8 724.8,1012.5 725.5,1012.8 726.2,1012.0 726.8,1011.9 727.5,1014.8 728.2,1010.3 728.8,1012.6 729.5,1007.7 730.2,1007.2 730.8,1007.0 731.5,1004.1 732.2,1011.0 732.8,1008.3 733.5,1009.5 734.2,1011.9 734.9,1009.6 735.5,1012.1 736.2,1003.9 736.9,1010.8 737.5,1008.3 738.2,1006.1 738.9,1009.1 739.5,1006.8 740.2,1005.6 740.9,1003.5 741.5,1011.8 742.2,1003.8 742.9,1010.2 743.6,1014.4 744.2,1013.4 744.9,1011.6 745.6,1012.8 746.2,1012.2 746.9,1013.5 747.6,1012.0 748.2,1008.2 748.9,1006.2 749.6,1009.8 750.2,1003.3 750.9,1002.5 751.6,1008.9 752.2,1002.4 752.9,1001.9 753.6,1003.4 754.3,1007.9 754.9,1005.8 755.6,1007.7 756.3,1003.5 756.9,1006.8 757.6,1007.6 758.3,1006.8 758.9,1008.6 759.6,1005.5 760.3,997.3 760.9,998.6 761.6,998.7 762.3,998.4 763.0,997.7 763.6,997.5 764.3,991.7 765.0,989.9 765.6,996.0 766.3,992.7 767.0,990.9 767.6,995.1 768.3,997.7 769.0,997.6 769.6,999.0 770.3,1004.5 771.0,1000.8 771.7,1003.9 772.3,1003.6 773.0,1002.1 773.7,1007.3 774.3,999.3 775.0,1007.0 775.7,999.4 776.3,1000.4 777.0,1001.0 777.7,1001.9 778.3,1000.1 779.0,996.8 779.7,995.4 780.3,997.0 781.0,996.1 781.7,990.2 782.4,992.4 783.0,989.9 783.7,988.6 784.4,985.6 785.0,985.6 785.7,989.8 786.4,984.3 787.0,990.2 787.7,993.2 788.4,989.9 789.0,997.5 789.7,998.0 790.4,992.8 791.1,994.8 791.7,994.8 792.4,994.0 793.1,994.0 793.7,995.9 794.4,998.3 795.1,995.2 795.7,995.5 796.4,996.0 797.1,995.1 797.7,998.8 798.4,997.6 799.1,997.9 799.8,1002.4 800.4,998.2 801.1,1001.7 801.8,1002.3 802.4,1002.9 803.1,999.8 803.8,1000.6 804.4,1001.8 805.1,1002.7 805.8,1000.7 806.4,999.9 807.1,998.0 807.8,999.3 808.5,993.2 809.1,1000.0 809.8,1000.7 810.5,999.0 811.1,997.6 811.8,1003.2 812.5,1000.0 813.1,1005.2 813.8,1002.9 814.5,1002.8 815.1,1004.7 815.8,1004.5 816.5,1006.0 817.1,1007.6 817.8,1006.1 818.5,1005.6 819.2,1006.3 819.8,1006.8 820.5,1005.7 821.2,1006.5 821.8,1006.3 822.5,1005.4 823.2,1006.0 823.8,1004.3 824.5,1006.3 825.2,1004.4 825.8,1004.7 826.5,1001.8 827.2,998.3 827.9,999.2 828.5,999.0 829.2,998.5 829.9,996.5 830.5,998.6 831.2,992.3 831.9,990.8 832.5,993.7 833.2,992.8 833.9,994.5 834.5,996.3 835.2,1001.3 835.9,994.1 836.6,995.8 837.2,999.0 837.9,997.2 838.6,999.5 839.2,1004.2 839.9,1001.8 840.6,1001.9 841.2,1004.0 841.9,997.9 842.6,1001.3 843.2,1000.6 843.9,1001.1 844.6,998.4 845.2,999.4 845.9,999.9 846.6,1001.2 847.3,997.5 847.9,999.2 848.6,992.5 849.3,996.3 849.9,995.8 850.6,991.6 851.3,992.4 851.9,993.0 852.6,994.0 853.3,996.5 853.9,995.1 854.6,994.8 855.3,995.0 856.0,995.7 856.6,996.3 857.3,994.7 858.0,992.6 858.6,992.8 859.3,991.9 860.0,992.1 860.6,993.5 861.3,994.0 862.0,997.5 862.6,994.3 863.3,997.5 864.0,995.8 864.7,1000.6 865.3,1000.6 866.0,1003.5 866.7,1003.0 867.3,1000.7 868.0,1003.6 868.7,1002.9 869.3,1003.7 870.0,1003.2 870.7,1005.2 871.3,1006.7 872.0,1008.8 872.7,1015.7 873.3,1013.0 874.0,1016.2 874.7,1018.5 875.4,1020.9 876.0,1023.3 876.7,1025.8 877.4,1023.9 878.0,1023.7 878.7,1020.5 879.4,1014.8 880.0,1013.3 880.7,1010.6 881.4,1006.4 882.0,1004.6 882.7,1004.2 883.4,1005.3 884.1,1004.5 884.7,1003.4 885.4,1004.9 886.1,1008.0 886.7,1004.3 887.4,1008.1 888.1,1007.0 888.7,1015.6 889.4,1010.4 890.1,1010.4 890.7,1011.2 891.4,1009.6 892.1,1012.5 892.8,1018.0 893.4,1014.8 894.1,1012.8 894.8,1012.0 895.4,1010.1 896.1,1005.7 896.8,1005.3 897.4,1003.8 898.1,998.2 898.8,999.9 899.4,995.3 900.1,998.9 900.8,1006.3 901.5,1010.3 902.1,1014.9 902.8,1012.1 903.5,1017.3 904.1,1018.9 904.8,1022.9 905.5,1021.9 906.1,1021.2 906.8,1021.6 907.5,1018.8 908.1,1020.8 908.8,1017.6 909.5,1019.9 910.1,1017.7 910.8,1017.3 911.5,1014.1 912.2,1012.5 912.8,1011.2 913.5,1013.8 914.2,1007.1 914.8,1012.5 915.5,1008.1 916.2,1005.4 916.8,1008.4 917.5,1005.4 918.2,1008.3 918.8,1008.3 919.5,1011.7 920.2,1011.5 920.9,1011.9 921.5,1009.5 922.2,1013.0 922.9,1010.8 923.5,1011.5 924.2,1012.7 924.9,1013.0 925.5,1010.5 926.2,1015.0 926.9,1011.3 927.5,1015.9 928.2,1015.3 928.9,1016.0 929.6,1014.1 930.2,1018.5 930.9,1016.5 931.6,1018.5 932.2,1015.5 932.9,1015.4 933.6,1016.6 934.2,1018.1 934.9,1013.0 935.6,1013.8 936.2,1013.3 936.9,1013.1 937.6,1012.1 938.2,1014.8 938.9,1014.2 939.6,1013.3 940.3,1015.6 940.9,1016.7 941.6,1014.2 942.3,1014.4 942.9,1017.3 943.6,1019.8 944.3,1010.6 944.9,1013.4 945.6,1015.6 946.3,1012.0 946.9,1014.9 947.6,1013.6 948.3,1010.8 949.0,1012.7 949.6,1014.6 950.3,1012.4 951.0,1015.3 951.6,1014.4 952.3,1012.6 953.0,1013.1 953.6,1010.8 954.3,1011.2 955.0,1008.5 955.6,1013.3 956.3,1010.6 957.0,1014.6 957.7,1018.2 958.3,1019.1 959.0,1018.1 959.7,1020.4 960.3,1021.7 961.0,1023.6 961.7,1022.1 962.3,1020.5 963.0,1024.5 963.7,1023.7 964.3,1026.2 965.0,1026.4 965.7,1019.8 966.4,1020.4 967.0,1023.5 967.7,1024.1 968.4,1021.9 969.0,1021.6 969.7,1017.9 970.4,1026.0 971.0,1020.4 971.7,1023.2 972.4,1023.0 973.0,1020.7 973.7,1024.0 974.4,1024.7 975.0,1020.9 975.7,1020.0 976.4,1019.5 977.1,1018.4 977.7,1016.4 978.4,1011.3 979.1,1009.6 979.7,1009.0 980.4,1003.7 981.1,1005.6 981.7,1007.2 982.4,1006.0 983.1,1005.6 983.7,1009.1 984.4,1008.2 985.1,1009.2 985.8,1007.3 986.4,1006.7 987.1,1005.7 987.8,1007.6 988.4,1003.3 989.1,1005.0 989.8,1007.8 990.4,1008.5 991.1,1007.0 991.8,1005.3 992.4,1009.4 993.1,1007.7 993.8,1010.0 994.5,1009.5 995.1,1016.2 995.8,1016.8 996.5,1013.3 997.1,1013.6 997.8,1016.4 998.5,1018.0 999.1,1019.2 999.8,1016.3 1000.5,1013.5 1001.1,1015.9 1001.8,1015.2 1002.5,1011.0 1003.1,1013.0 1003.8,1012.5 1004.5,1010.7 1005.2,1012.7 1005.8,1014.1 1006.5,1014.1 1007.2,1010.8 1007.8,1012.2 1008.5,1015.7 1009.2,1015.0 1009.8,1016.2 1010.5,1022.3 1011.2,1013.8 1011.8,1018.0 1012.5,1017.9 1013.2,1019.2 1013.9,1022.2 1014.5,1017.9 1015.2,1016.7 1015.9,1016.4 1016.5,1014.2 1017.2,1014.0 1017.9,1016.8 1018.5,1009.1 1019.2,1008.9 1019.9,1008.5 1020.5,1004.4 1021.2,1010.0 1021.9,1009.4 1022.6,1006.7 1023.2,1011.1 1023.9,1012.8 1024.6,1011.3 1025.2,1015.3 1025.9,1011.8 1026.6,1009.5 1027.2,1013.1 1027.9,1010.2 1028.6,1009.5 1029.2,1004.7 1029.9,1003.6 1030.6,1002.6 1031.2,1002.5 1031.9,1000.6 1032.6,1001.8 1033.3,1000.4 1033.9,996.1 1034.6,994.5 1035.3,997.6 1035.9,993.6 1036.6,995.4 1037.3,992.8 1037.9,994.2 1038.6,994.8 1039.3,995.2 1039.9,998.6 1040.6,997.6 1041.3,1000.3 1042.0,1002.4 1042.6,1006.5 1043.3,999.1 1044.0,1003.0 1044.6,1003.9 1045.3,1001.4 1046.0,1003.0 1046.6,1001.4 1047.3,1000.4 1048.0,997.8 1048.6,997.7 1049.3,997.6 1050.0,996.6 1050.7,1000.1 1051.3,999.5 1052.0,1002.1 1052.7,1003.8 1053.3,1011.1 1054.0,1009.8 1054.7,1010.5 1055.3,1014.1 1056.0,1011.3 1056.7,1011.6 1057.3,1009.1 1058.0,1008.5 1058.7,1006.8 1059.4,1001.2 1060.0,1007.7 1060.7,1006.6 1061.4,1001.9 1062.0,1006.7 1062.7,1004.6 1063.4,1005.2 1064.0,1007.3 1064.7,1006.2 1065.4,1005.5 1066.0,1006.6 1066.7,1003.8 1067.4,999.4 1068.0,997.0 1068.7,1000.3 1069.4,994.7 1070.1,997.1 1070.7,997.2 1071.4,996.9 1072.1,1001.5 1072.7,1000.1 1073.4,999.8 1074.1,1002.8 1074.7,1001.1 1075.4,1005.1 1076.1,1007.8 1076.7,1004.6 1077.4,1005.7 1078.1,1009.3 1078.8,1004.1 1079.4,1006.1 1080.1,1006.8 1080.8,1005.7 1081.4,1008.5 1082.1,1008.7 1082.8,1007.6 1083.4,1007.2 1084.1,1008.7 1084.8,1008.8 1085.4,1008.7 1086.1,1005.4 1086.8,1004.6 1087.5,1006.0 1088.1,1002.0 1088.8,1001.6 1089.5,995.9 1090.1,994.8 1090.8,992.2 1091.5,992.8 1092.1,993.7 1092.8,992.7 1093.5,998.5 1094.1,993.1 1094.8,998.9 1095.5,996.3 1096.1,1000.0 1096.8,999.0 1097.5,1001.6 1098.2,1002.8 1098.8,1002.3 1099.5,1002.7 1100.2,1004.9 1100.8,1007.4 1101.5,1009.8 1102.2,1012.0 1102.8,1005.8 1103.5,1010.2 1104.2,1008.3 1104.8,1009.0 1105.5,1009.3 1106.2,1009.6 1106.9,1008.2 1107.5,1006.6 1108.2,1009.0 1108.9,1005.9 1109.5,1004.9 1110.2,1007.0 1110.9,1002.7 1111.5,1003.5 1112.2,1008.7 1112.9,1006.0 1113.5,1003.4 1114.2,1008.6 1114.9,1009.3 1115.6,1005.2 1116.2,1003.7 1116.9,1005.6 1117.6,1005.8 1118.2,1003.3 1118.9,1002.0 1119.6,1004.2 1120.2,1003.7 1120.9,998.9 1121.6,999.0 1122.2,999.8 1122.9,998.5 1123.6,999.5 1124.2,999.8 1124.9,1002.6 1125.6,1000.2 1126.3,1002.2 1126.9,998.6 1127.6,1001.8 1128.3,1006.8 1128.9,1003.6 1129.6,1010.8 1130.3,1010.9 1130.9,1011.8 1131.6,1012.7 1132.3,1012.0 1132.9,1013.2 1133.6,1015.0 1134.3,1015.6 1135.0,1019.0 1135.6,1014.6 1136.3,1015.0 1137.0,1012.3 1137.6,1015.2 1138.3,1013.9 1139.0,1015.0 1139.6,1015.7 1140.3,1012.2 1141.0,1008.9 1141.6,1010.7 1142.3,1010.7 1143.0,1010.2 1143.7,1008.6 1144.3,1011.9 1145.0,1009.5 1145.7,1012.4 1146.3,1012.6 1147.0,1008.7 1147.7,1015.2 1148.3,1018.4 1149.0,1013.8 1149.7,1013.6 1150.3,1016.9 1151.0,1012.9 1151.7,1015.9 1152.4,1016.8 1153.0,1015.6 1153.7,1017.0 1154.4,1015.8 1155.0,1016.5 1155.7,1018.9 1156.4,1015.7 1157.0,1015.8 1157.7,1014.7 1158.4,1016.0 1159.0,1013.1 1159.7,1011.2 1160.4,1012.8 1161.0,1008.0 1161.7,1008.3 1162.4,1013.0 1163.1,1016.8 1163.7,1013.1 1164.4,1015.6 1165.1,1013.2 1165.7,1017.0 1166.4,1018.2 1167.1,1020.0 1167.7,1018.6 1168.4,1024.8 1169.1,1020.1 1169.7,1025.4 1170.4,1020.7 1171.1,1024.2 1171.8,1025.0 1172.4,1026.0 1173.1,1020.8 1173.8,1016.8 1174.4,1020.5 1175.1,1016.2 1175.8,1014.2 1176.4,1014.0 1177.1,1012.6 1177.8,1015.7 1178.4,1015.1 1179.1,1017.5 1179.8,1019.9 1180.5,1019.9 1181.1,1024.5 1181.8,1028.1 1182.5,1031.7 1183.1,1030.2 1183.8,1030.6 1184.5,1029.9 1185.1,1030.8 1185.8,1031.1 1186.5,1030.7 1187.1,1026.6 1187.8,1027.4 1188.5,1026.8 1189.1,1025.0 1189.8,1024.1 1190.5,1025.1 1191.2,1021.7 1191.8,1023.7 1192.5,1019.9 1193.2,1021.5 1193.8,1017.8 1194.5,1020.9 1195.2,1018.6 1195.8,1018.1 1196.5,1012.1 1197.2,1009.4 1197.8,1007.7 1198.5,1008.3 1199.2,1009.6 1199.9,1008.2 1200.5,1007.8 1201.2,1004.3 1201.9,1009.3 1202.5,1009.4 1203.2,1007.8 1203.9,1004.8 1204.5,1008.9 1205.2,1010.7 1205.9,1014.6 1206.5,1012.5 1207.2,1012.5 1207.9,1016.3 1208.6,1016.8 1209.2,1014.9 1209.9,1015.4 1210.6,1016.4 1211.2,1012.0 1211.9,1013.4 1212.6,1010.6 1213.2,1008.3 1213.9,1009.7 1214.6,1009.4 1215.2,1009.4 1215.9,1006.1 1216.6,1005.9 1217.3,1002.9 1217.9,1000.3 1218.6,1002.4 1219.3,1005.2 1219.9,1004.2 1220.6,1009.9 1221.3,1009.4 1221.9,1007.1 1222.6,1011.2 1223.3,1009.1 1223.9,1010.9 1224.6,1007.0 1225.3,1008.4 1225.9,1005.9 1226.6,1005.9 1227.3,1007.8 1228.0,1009.3 1228.6,1006.2 1229.3,1007.2 1230.0,1005.8 1230.6,1008.2 1231.3,1010.7 1232.0,1008.2 1232.6,1010.5 1233.3,1009.7 1234.0,1012.6 1234.6,1014.2 1235.3,1013.3 1236.0,1012.3 1236.7,1011.0 1237.3,1009.8 1238.0,1012.9 1238.7,1015.5 1239.3,1011.6 1240.0,1011.5 1240.7,1010.2 1241.3,1008.7 1242.0,1013.0 1242.7,1012.5 1243.3,1008.5 1244.0,1009.3 1244.7,1014.7 1245.4,1010.5 1246.0,1012.0 1246.7,1009.8 1247.4,1011.9 1248.0,1008.9 1248.7,1008.4 1249.4,1006.6 1250.0,1011.8 1250.7,1012.7 1251.4,1007.6 1252.0,1008.1 1252.7,1007.5 1253.4,1005.9 1254.0,1005.1 1254.7,1003.9 1255.4,1005.5 1256.1,1001.1 1256.7,1001.8 1257.4,1005.0 1258.1,1001.3 1258.7,1007.8 1259.4,1004.6 1260.1,1006.0 1260.7,1008.3 1261.4,1005.4 1262.1,1005.3 1262.7,1003.2 1263.4,1004.7 1264.1,1004.5 1264.8,1001.1 1265.4,1004.2 1266.1,1005.2 1266.8,1005.0 1267.4,1003.5 1268.1,1007.9 1268.8,1009.8 1269.4,1007.0 1270.1,1005.1 1270.8,1007.7 1271.4,1009.2 1272.1,1011.5 1272.8,1010.7 1273.5,1008.8 1274.1,1004.9 1274.8,1006.1 1275.5,1002.7 1276.1,998.8 1276.8,995.5 1277.5,999.4 1278.1,993.1 1278.8,998.1 1279.5,1000.0 1280.1,995.9 1280.8,994.6 1281.5,995.5 1282.2,995.8 1282.8,998.0 1283.5,999.1 1284.2,995.3 1284.8,995.8 1285.5,994.9 1286.2,998.3 1286.8,998.2 1287.5,995.1 1288.2,997.0 1288.8,998.9 1289.5,996.1 1290.2,999.3 1290.8,1000.8 1291.5,997.5 1292.2,999.6 1292.9,997.8 1293.5,994.9 1294.2,996.4 1294.9,991.1 1295.5,992.9 1296.2,991.3 1296.9,994.1 1297.5,990.8 1298.2,994.2 1298.9,994.9 1299.5,996.6 1300.2,998.0 1300.9,992.2 1301.6,995.3 1302.2,993.6 1302.9,998.2 1303.6,999.7 1304.2,997.5 1304.9,1000.0 1305.6,1003.8 1306.2,1003.5 1306.9,1004.4 1307.6,1002.8 1308.2,1005.4 1308.9,1009.0 1309.6,1003.8 1310.3,1006.5 1310.9,1005.5 1311.6,1004.2 1312.3,1005.3 1312.9,1002.3 1313.6,1007.1 1314.3,1004.8 1314.9,1009.6 1315.6,1008.7 1316.3,1012.9 1316.9,1014.2 1317.6,1020.4 1318.3,1016.9 1318.9,1019.1 1319.6,1024.1 1320.3,1023.1 1321.0,1021.2 1321.6,1020.2 1322.3,1017.2 1323.0,1017.9 1323.6,1017.7 1324.3,1018.1 1325.0,1016.3 1325.6,1016.3 1326.3,1013.5 1327.0,1010.8 1327.6,1011.2 1328.3,1014.6 1329.0,1011.6 1329.7,1014.0 1330.3,1008.0 1331.0,1010.2 1331.7,1009.9 1332.3,1012.3 1333.0,1010.7 1333.7,1010.0 1334.3,1012.8 1335.0,1008.8 1335.7,1012.4 1336.3,1014.9 1337.0,1012.4 1337.7,1015.4 1338.4,1014.8 1339.0,1017.1 1339.7,1019.4 1340.4,1021.0 1341.0,1021.9 1341.7,1020.2 1342.4,1025.1 1343.0,1022.7 1343.7,1020.4 1344.4,1023.7 1345.0,1019.4 1345.7,1023.0 1346.4,1019.6 1347.0,1016.5 1347.7,1014.5 1348.4,1012.8 1349.1,1012.0 1349.7,1012.4 1350.4,1015.5 1351.1,1013.3 1351.7,1013.3 1352.4,1015.1 1353.1,1014.6 1353.7,1013.7 1354.4,1014.1 1355.1,1020.5 1355.7,1017.5 1356.4,1021.3 1357.1,1021.7 1357.8,1018.2 1358.4,1018.9 1359.1,1016.4 1359.8,1016.8 1360.4,1017.3 1361.1,1017.4 1361.8,1020.8 1362.4,1018.0 1363.1,1020.4 1363.8,1019.3 1364.4,1020.6 1365.1,1023.3 1365.8,1016.7 1366.5,1022.0 1367.1,1018.0 1367.8,1019.1 1368.5,1017.2 1369.1,1016.1 1369.8,1013.6 1370.5,1010.5 1371.1,1020.0 1371.8,1017.7 1372.5,1016.0 1373.1,1013.5 1373.8,1019.5 1374.5,1022.3 1375.2,1020.7 1375.8,1016.9 1376.5,1019.6 1377.2,1021.2 1377.8,1020.5 1378.5,1022.8 1379.2,1018.6 1379.8,1019.5 1380.5,1016.2 1381.2,1024.0 1381.8,1023.4 1382.5,1021.4 1383.2,1018.4 1383.8,1023.3 1384.5,1017.9 1385.2,1017.2 1385.9,1015.0 1386.5,1015.3 1387.2,1015.7 1387.9,1015.0 1388.5,1019.3 1389.2,1018.3 1389.9,1016.9 1390.5,1015.3 1391.2,1016.2 1391.9,1013.4 1392.5,1016.8 1393.2,1014.2 1393.9,1015.4 1394.6,1017.7 1395.2,1016.1 1395.9,1016.2 1396.6,1022.4 1397.2,1018.1 1397.9,1020.4 1398.6,1021.9 1399.2,1024.1 1399.9,1026.5 1400.6,1021.3 1401.2,1027.8 1401.9,1032.5 1402.6,1032.5 1403.3,1031.9 1403.9,1029.7 1404.6,1029.8 1405.3,1027.4 1405.9,1024.4 1406.6,1027.9 1407.3,1028.9 1407.9,1027.2 1408.6,1026.6 1409.3,1028.5 1409.9,1027.4 1410.6,1028.8 1411.3,1024.8 1411.9,1020.7 1412.6,1023.7 1413.3,1022.4 1414.0,1016.7 1414.6,1016.6 1415.3,1015.8 1416.0,1007.2 1416.6,1016.9 1417.3,1013.0 1418.0,1010.9 1418.6,1009.2 1419.3,1008.7 1420.0,1019.5 1420.6,1012.4 1421.3,1015.2 1422.0,1013.2 1422.7,1014.9 1423.3,1018.2 1424.0,1016.1 1424.7,1019.3 1425.3,1020.4 1426.0,1023.1 1426.7,1024.7 1427.3,1023.0 1428.0,1026.3 1428.7,1021.9 1429.3,1021.1 1430.0,1020.9 1430.7,1018.7 1431.4,1019.3 1432.0,1010.2 1432.7,1011.1 1433.4,1009.2 1434.0,1016.0 1434.7,1014.7 1435.4,1012.2 1436.0,1015.6 1436.7,1012.9 1437.4,1018.1 1438.0,1024.1 1438.7,1024.6 1439.4,1029.6 1440.1,1025.5 1440.7,1029.6 1441.4,1027.3 1442.1,1026.9 1442.7,1025.2 1443.4,1024.3 1444.1,1023.3 1444.7,1018.6 1445.4,1017.7 1446.1,1015.8 1446.7,1016.5 1447.4,1014.7 1448.1,1019.5 1448.7,1020.0 1449.4,1020.4 1450.1,1020.7 1450.8,1020.1 1451.4,1020.1 1452.1,1020.4 1452.8,1021.9 1453.4,1026.6 1454.1,1027.1 1454.8,1025.0 1455.4,1027.9 1456.1,1034.6 1456.8,1036.9 1457.4,1036.3 1458.1,1039.4 1458.8,1033.4 1459.5,1034.9 1460.1,1031.4 1460.8,1035.7 1461.5,1030.2 1462.1,1028.3 1462.8,1026.2 1463.5,1022.1 1464.1,1021.6 1464.8,1015.4 1465.5,1017.9 1466.1,1015.9 1466.8,1019.2 1467.5,1020.3 1468.2,1018.4 1468.8,1016.3 1469.5,1017.0 1470.2,1021.9 1470.8,1020.8 1471.5,1021.9 1472.2,1021.1 1472.8,1024.7 1473.5,1025.1 1474.2,1026.6 1474.8,1022.8 1475.5,1024.3 1476.2,1020.9 1476.8,1023.6 1477.5,1022.5 1478.2,1021.2 1478.9,1023.2 1479.5,1018.0 1480.2,1023.1 1480.9,1019.6 1481.5,1018.7 1482.2,1016.8 1482.9,1013.5 1483.5,1012.9 1484.2,1015.6 1484.9,1013.9 1485.5,1015.5 1486.2,1015.4 1486.9,1019.5 1487.6,1020.8 1488.2,1018.4 1488.9,1026.7 1489.6,1026.0 1490.2,1026.6 1490.9,1026.3 1491.6,1026.0 1492.2,1028.2 1492.9,1031.7 1493.6,1025.6 1494.2,1022.6 1494.9,1023.7 1495.6,1022.4 1496.3,1022.7 1496.9,1016.6 1497.6,1016.9 1498.3,1016.1 1498.9,1018.1 1499.6,1018.0 1500.3,1016.1 1500.9,1018.0 1501.6,1016.4 1502.3,1016.9 1502.9,1012.6 1503.6,1016.2 1504.3,1016.5 1504.9,1020.6 1505.6,1020.7 1506.3,1019.2 1507.0,1022.3 1507.6,1022.7 1508.3,1024.5 1509.0,1023.0 1509.6,1022.9 1510.3,1026.8 1511.0,1023.3 1511.6,1025.2 1512.3,1020.2 1513.0,1020.2 1513.6,1018.6 1514.3,1015.9 1515.0,1018.0 1515.7,1012.5 1516.3,1014.7 1517.0,1008.7 1517.7,1013.7 1518.3,1011.6 1519.0,1013.3 1519.7,1014.9 1520.3,1009.6 1521.0,1011.8 1521.7,1010.4 1522.3,1013.9 1523.0,1017.1 1523.7,1019.2 1524.4,1022.9 1525.0,1024.1 1525.7,1026.4 1526.4,1023.7 1527.0,1025.6 1527.7,1022.8 1528.4,1023.9 1529.0,1017.6 1529.7,1021.9 1530.4,1021.3 1531.0,1019.6 1531.7,1019.4 1532.4,1017.0 1533.1,1019.8 1533.7,1020.8 1534.4,1023.5 1535.1,1024.7 1535.7,1023.2 1536.4,1023.5 1537.1,1023.7 1537.7,1019.8 1538.4,1022.1 1539.1,1022.3 1539.7,1017.2 1540.4,1014.0 1541.1,1014.4 1541.7,1015.8 1542.4,1016.0 1543.1,1011.2 1543.8,1015.7 1544.4,1014.9 1545.1,1017.0 1545.8,1019.6" stroke="#2254a4" stroke-width="6.8"/>
<path d="M252.10 861.81L275.70 848.51L275.70 875.11ZM312.95 1018.00L336.55 1004.70L336.55 1031.30ZM373.80 1008.01L397.40 994.71L397.40 1021.31ZM434.65 1007.99L458.25 994.69L458.25 1021.29ZM495.49 1013.02L519.09 999.72L519.09 1026.32ZM556.34 1019.50L579.94 1006.20L579.94 1032.80ZM617.19 1013.29L640.79 999.99L640.79 1026.59ZM678.04 1013.24L701.64 999.94L701.64 1026.54ZM738.88 1006.04L762.48 992.74L762.48 1019.34ZM799.73 1003.84L823.33 990.54L823.33 1017.14ZM860.58 1022.03L884.18 1008.73L884.18 1035.33ZM921.43 1013.22L945.03 999.92L945.03 1026.52ZM982.27 1014.62L1005.87 1001.32L1005.87 1027.92ZM1043.12 1008.00L1066.72 994.70L1066.72 1021.30ZM1103.97 1002.55L1127.57 989.25L1127.57 1015.85ZM1164.82 1019.93L1188.42 1006.63L1188.42 1033.23ZM1225.66 1010.03L1249.26 996.73L1249.26 1023.33ZM1286.51 995.11L1310.11 981.81L1310.11 1008.41ZM1347.36 1018.10L1370.96 1004.80L1370.96 1031.40ZM1408.21 1018.10L1431.81 1004.80L1431.81 1031.40ZM1469.05 1015.41L1492.65 1002.11L1492.65 1028.71ZM1529.90 1016.74L1553.50 1003.44L1553.50 1030.04Z" stroke="#2254a4" stroke-width="6.2" stroke-linejoin="miter" stroke-miterlimit="10"/>
</g>
<text transform="translate(118.97 1410.90) scale(0.8732 1)" font-size="63.0" text-anchor="middle" fill="#4d4d4f">1</text><text transform="translate(157.25 1410.90) scale(1.1800 1)" font-size="63.0" text-anchor="middle" fill="#4d4d4f">0</text>
<text transform="translate(174.87 1381.10) scale(1.18 1)" font-size="48.0" text-anchor="start" fill="#4d4d4f">-</text>
<text transform="translate(208.50 1381.10) scale(1.1800 1)" font-size="48.0" text-anchor="middle" fill="#4d4d4f">5</text>
<text transform="translate(118.97 1190.90) scale(0.8732 1)" font-size="63.0" text-anchor="middle" fill="#4d4d4f">1</text><text transform="translate(157.25 1190.90) scale(1.1800 1)" font-size="63.0" text-anchor="middle" fill="#4d4d4f">0</text>
<text transform="translate(174.87 1161.10) scale(1.18 1)" font-size="48.0" text-anchor="start" fill="#4d4d4f">-</text>
<text transform="translate(208.50 1161.10) scale(1.1800 1)" font-size="48.0" text-anchor="middle" fill="#4d4d4f">4</text>
<text transform="translate(118.97 969.90) scale(0.8732 1)" font-size="63.0" text-anchor="middle" fill="#4d4d4f">1</text><text transform="translate(157.25 969.90) scale(1.1800 1)" font-size="63.0" text-anchor="middle" fill="#4d4d4f">0</text>
<text transform="translate(174.87 940.10) scale(1.18 1)" font-size="48.0" text-anchor="start" fill="#4d4d4f">-</text>
<text transform="translate(208.50 940.10) scale(1.1800 1)" font-size="48.0" text-anchor="middle" fill="#4d4d4f">3</text>
<text transform="translate(118.97 748.90) scale(0.8732 1)" font-size="63.0" text-anchor="middle" fill="#4d4d4f">1</text><text transform="translate(157.25 748.90) scale(1.1800 1)" font-size="63.0" text-anchor="middle" fill="#4d4d4f">0</text>
<text transform="translate(174.87 719.10) scale(1.18 1)" font-size="48.0" text-anchor="start" fill="#4d4d4f">-</text>
<text transform="translate(208.50 719.10) scale(1.1800 1)" font-size="48.0" text-anchor="middle" fill="#4d4d4f">2</text>
<text transform="translate(118.97 527.90) scale(0.8732 1)" font-size="63.0" text-anchor="middle" fill="#4d4d4f">1</text><text transform="translate(157.25 527.90) scale(1.1800 1)" font-size="63.0" text-anchor="middle" fill="#4d4d4f">0</text>
<text transform="translate(174.87 498.10) scale(1.18 1)" font-size="48.0" text-anchor="start" fill="#4d4d4f">-</text>
<text transform="translate(207.65 498.10) scale(0.8732 1)" font-size="48.0" text-anchor="middle" fill="#4d4d4f">1</text>
<text transform="translate(138.17 306.90) scale(0.8732 1)" font-size="63.0" text-anchor="middle" fill="#4d4d4f">1</text><text transform="translate(176.45 306.90) scale(1.1800 1)" font-size="63.0" text-anchor="middle" fill="#4d4d4f">0</text>
<text transform="translate(209.00 277.10) scale(1.1800 1)" font-size="48.0" text-anchor="middle" fill="#4d4d4f">0</text>
<text transform="translate(138.17 85.90) scale(0.8732 1)" font-size="63.0" text-anchor="middle" fill="#4d4d4f">1</text><text transform="translate(176.45 85.90) scale(1.1800 1)" font-size="63.0" text-anchor="middle" fill="#4d4d4f">0</text>
<text transform="translate(208.15 56.10) scale(0.8732 1)" font-size="48.0" text-anchor="middle" fill="#4d4d4f">1</text>
<text transform="translate(245.00 1452.80) scale(1.1800 1)" font-size="63.0" text-anchor="middle" fill="#4d4d4f">0</text>
<text transform="translate(602.58 1452.80) scale(1.1800 1)" font-size="63.0" text-anchor="middle" fill="#4d4d4f">5</text><text transform="translate(639.75 1452.80) scale(1.1800 1)" font-size="63.0" text-anchor="middle" fill="#4d4d4f">0</text><text transform="translate(676.92 1452.80) scale(1.1800 1)" font-size="63.0" text-anchor="middle" fill="#4d4d4f">0</text>
<text transform="translate(977.63 1452.80) scale(0.8732 1)" font-size="63.0" text-anchor="middle" fill="#4d4d4f">1</text><text transform="translate(1015.91 1452.80) scale(1.1800 1)" font-size="63.0" text-anchor="middle" fill="#4d4d4f">0</text><text transform="translate(1053.09 1452.80) scale(1.1800 1)" font-size="63.0" text-anchor="middle" fill="#4d4d4f">0</text><text transform="translate(1090.25 1452.80) scale(1.1800 1)" font-size="63.0" text-anchor="middle" fill="#4d4d4f">0</text>
<text transform="translate(1372.38 1452.80) scale(0.8732 1)" font-size="63.0" text-anchor="middle" fill="#4d4d4f">1</text><text transform="translate(1410.66 1452.80) scale(1.1800 1)" font-size="63.0" text-anchor="middle" fill="#4d4d4f">5</text><text transform="translate(1447.84 1452.80) scale(1.1800 1)" font-size="63.0" text-anchor="middle" fill="#4d4d4f">0</text><text transform="translate(1485.01 1452.80) scale(1.1800 1)" font-size="63.0" text-anchor="middle" fill="#4d4d4f">0</text>
<text transform="translate(1768.25 1452.80) scale(1.1800 1)" font-size="63.0" text-anchor="middle" fill="#4d4d4f">2</text><text transform="translate(1805.41 1452.80) scale(1.1800 1)" font-size="63.0" text-anchor="middle" fill="#4d4d4f">0</text><text transform="translate(1842.59 1452.80) scale(1.1800 1)" font-size="63.0" text-anchor="middle" fill="#4d4d4f">0</text><text transform="translate(1879.76 1452.80) scale(1.1800 1)" font-size="63.0" text-anchor="middle" fill="#4d4d4f">0</text>
<text transform="translate(76.7 717.9) scale(1.19 1) rotate(-90)" font-size="67.5" text-anchor="middle" fill="#4d4d4f">MSD</text>
<text transform="translate(880.58 1529.80) scale(1.184 1)" font-size="68.0" text-anchor="start" fill="#4d4d4f">Iterations</text>
<rect x="1443.5" y="56" width="379.1" height="537.4" fill="#fff" stroke="#4d4d4f" stroke-width="6.8"/>
<g transform="scale(1.18 1)" fill="none"><path d="M1237.29 103.40H1309.32" stroke="#231f20" stroke-width="6.8"/><path d="M1265.29 94.20h18.40v18.40h-18.40Z" stroke="#231f20" stroke-width="6.2" stroke-linejoin="miter"/></g>
<text transform="translate(1555.40 125.50) scale(1.42 1)" font-size="74.3" font-style="italic" fill="#231f20" stroke="#231f20" stroke-width="0.9">&#956;</text>
<text transform="translate(1602.26 139.60) scale(1.13 1)" font-size="44.7" fill="#231f20">SPF</text>
<text transform="translate(1689.86 111.40) scale(1.4 1)" font-size="53.5" fill="#231f20">=</text>
<text transform="translate(1731.37 111.40) scale(1.18 1)" font-size="53.5" fill="#231f20">0.2</text>
<g transform="scale(1.18 1)" fill="none"><path d="M1237.29 191.70H1309.32" stroke="#ec2227" stroke-width="6.8"/><path d="M1274.49 174.70L1286.29 191.70L1274.49 208.70L1262.69 191.70Z" stroke="#ec2227" stroke-width="6.2" stroke-linejoin="miter"/></g>
<text transform="translate(1555.40 213.80) scale(1.42 1)" font-size="74.3" font-style="italic" fill="#231f20" stroke="#231f20" stroke-width="0.9">&#956;</text>
<text transform="translate(1602.26 227.90) scale(1.13 1)" font-size="44.7" fill="#231f20">SPF</text>
<text transform="translate(1689.86 199.70) scale(1.4 1)" font-size="53.5" fill="#231f20">=</text>
<text transform="translate(1731.37 199.70) scale(1.18 1)" font-size="53.5" fill="#231f20">0.3</text>
<g transform="scale(1.18 1)" fill="none"><path d="M1237.29 280.00H1309.32" stroke="#6abd45" stroke-width="6.8"/><path d="M1262.69 280.00a11.8 11.8 0 1 0 23.60 0a11.8 11.8 0 1 0 -23.60 0Z" stroke="#6abd45" stroke-width="6.2" stroke-linejoin="miter"/></g>
<text transform="translate(1555.40 302.10) scale(1.42 1)" font-size="74.3" font-style="italic" fill="#231f20" stroke="#231f20" stroke-width="0.9">&#956;</text>
<text transform="translate(1602.26 316.20) scale(1.13 1)" font-size="44.7" fill="#231f20">SPF</text>
<text transform="translate(1689.86 288.00) scale(1.4 1)" font-size="53.5" fill="#231f20">=</text>
<text transform="translate(1731.37 288.00) scale(1.18 1)" font-size="53.5" fill="#231f20">0.4</text>
<g transform="scale(1.18 1)" fill="none"><path d="M1237.29 368.30H1309.32" stroke="#67c7d3" stroke-width="6.8"/><path d="M1274.49 353.20L1287.79 376.80L1261.19 376.80Z" stroke="#67c7d3" stroke-width="6.2" stroke-linejoin="miter"/></g>
<text transform="translate(1555.40 390.40) scale(1.42 1)" font-size="74.3" font-style="italic" fill="#231f20" stroke="#231f20" stroke-width="0.9">&#956;</text>
<text transform="translate(1602.26 404.50) scale(1.13 1)" font-size="44.7" fill="#231f20">SPF</text>
<text transform="translate(1689.86 376.30) scale(1.4 1)" font-size="53.5" fill="#231f20">=</text>
<text transform="translate(1731.37 376.30) scale(1.18 1)" font-size="53.5" fill="#231f20">0.6</text>
<g transform="scale(1.18 1)" fill="none"><path d="M1237.29 456.60H1309.32" stroke="#a05aa5" stroke-width="6.8"/><path d="M1289.59 456.60L1265.99 443.30L1265.99 469.90Z" stroke="#a05aa5" stroke-width="6.2" stroke-linejoin="miter"/></g>
<text transform="translate(1555.40 478.70) scale(1.42 1)" font-size="74.3" font-style="italic" fill="#231f20" stroke="#231f20" stroke-width="0.9">&#956;</text>
<text transform="translate(1602.26 492.80) scale(1.13 1)" font-size="44.7" fill="#231f20">SPF</text>
<text transform="translate(1689.86 464.60) scale(1.4 1)" font-size="53.5" fill="#231f20">=</text>
<text transform="translate(1731.37 464.60) scale(1.18 1)" font-size="53.5" fill="#231f20">0.7</text>
<g transform="scale(1.18 1)" fill="none"><path d="M1237.29 544.90H1309.32" stroke="#2254a4" stroke-width="6.8"/><path d="M1259.39 544.90L1282.99 531.60L1282.99 558.20Z" stroke="#2254a4" stroke-width="6.2" stroke-linejoin="miter"/></g>
<text transform="translate(1555.40 567.00) scale(1.42 1)" font-size="74.3" font-style="italic" fill="#231f20" stroke="#231f20" stroke-width="0.9">&#956;</text>
<text transform="translate(1602.26 581.10) scale(1.13 1)" font-size="44.7" fill="#231f20">SPF</text>
<text transform="translate(1689.86 552.90) scale(1.4 1)" font-size="53.5" fill="#231f20">=</text>
<text transform="translate(1731.37 552.90) scale(1.18 1)" font-size="53.5" fill="#231f20">0.9</text>
</svg></body></html>
